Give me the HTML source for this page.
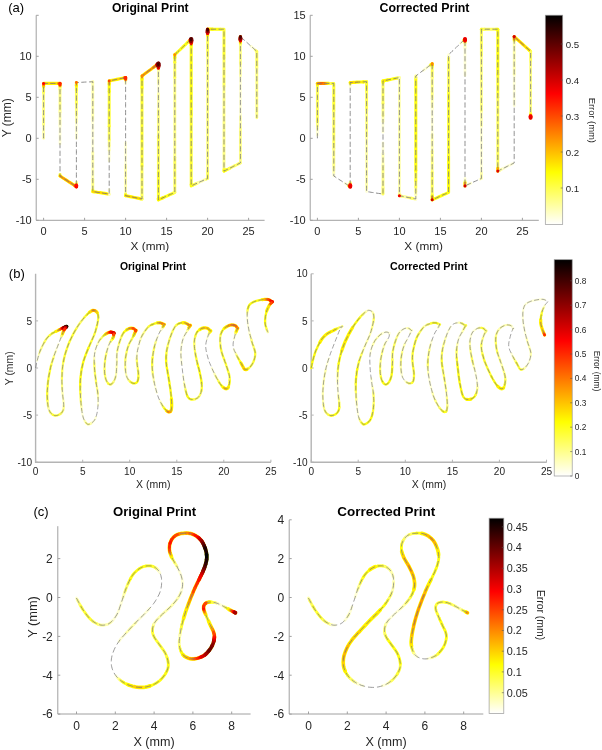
<!DOCTYPE html>
<html><head><meta charset="utf-8"><title>Figure</title>
<style>html,body{margin:0;padding:0;background:#fff;}body{width:602px;height:750px;overflow:hidden;font-family:"Liberation Sans",sans-serif;}svg{display:block;}</style>
</head><body>
<svg width="602" height="750" viewBox="0 0 602 750" font-family="'Liberation Sans', sans-serif">
<defs><linearGradient id="hot" x1="0" y1="1" x2="0" y2="0">
<stop offset="0" stop-color="#ffffff"/><stop offset="0.25" stop-color="#ffff00"/><stop offset="0.625" stop-color="#ff0000"/><stop offset="1" stop-color="#000000"/>
</linearGradient><filter id="bl" filterUnits="userSpaceOnUse" x="0" y="0" width="602" height="750"><feGaussianBlur stdDeviation="0.45"/></filter><filter id="tf" filterUnits="userSpaceOnUse" x="0" y="0" width="602" height="750"><feOffset dx="0" dy="0"/></filter></defs>
<rect width="602" height="750" fill="#ffffff"/>
<path d="M36.2,15.3 V220.3 H264.6" fill="none" stroke="#a0a0a0" stroke-width="1.0"/>
<path d="M43.6,220.3 v-2.5 M84.6,220.3 v-2.5 M125.6,220.3 v-2.5 M166.6,220.3 v-2.5 M207.6,220.3 v-2.5 M248.6,220.3 v-2.5 M36.2,220.3 h2.5 M36.2,179.3 h2.5 M36.2,138.3 h2.5 M36.2,97.3 h2.5 M36.2,56.3 h2.5 M36.2,15.3 h2.5 " fill="none" stroke="#a0a0a0" stroke-width="1"/>
<g fill="none" stroke-linecap="round" stroke-linejoin="round" filter="url(#bl)">
<polyline points="43.6,138.3 43.6,136.8 43.6,135.2 43.6,133.7 43.6,132.2 43.6,130.7 43.6,129.1 43.6,127.6 43.6,126.1 43.6,124.6" stroke="#ffffad" stroke-width="2.80"/>
<polyline points="43.6,124.6 43.6,123.0 43.6,121.5 43.6,120.0 43.6,118.5 43.6,116.9 43.6,115.4 43.6,113.9 43.6,112.4 43.6,110.8 43.6,109.3 43.6,107.8 43.6,106.3 43.6,104.7 43.6,103.2 43.6,101.7 43.6,100.1 43.6,98.6 43.6,97.1 43.6,95.6 43.6,94.0 43.6,92.5" stroke="#ffff85" stroke-width="2.86"/>
<polyline points="43.6,92.5 43.6,91.0 43.6,89.5 43.6,87.9 43.6,86.4" stroke="#ffff5c" stroke-width="2.91"/>
<polyline points="43.6,86.4 43.6,84.9 43.6,83.4 45.2,83.4 46.9,83.4 48.5,83.4 50.2,83.4 51.8,83.4 53.4,83.4 55.1,83.4 56.7,83.4 58.4,83.4 60.0,83.4 60.0,84.9 60.0,86.4" stroke="#ffff00" stroke-width="3.18"/>
<polyline points="60.0,86.4 60.0,87.9 60.0,89.4" stroke="#ffff5c" stroke-width="2.91"/>
<polyline points="60.0,89.4 60.0,91.0 60.0,92.5 60.0,94.0 60.0,95.5 60.0,97.0 60.0,98.6 60.0,100.1 60.0,101.6 60.0,103.1 60.0,104.6 60.0,106.1 60.0,107.7 60.0,109.2 60.0,110.7 60.0,112.2" stroke="#ffff85" stroke-width="2.86"/>
<polyline points="60.0,112.2 60.0,113.7 60.0,115.3 60.0,116.8 60.0,118.3 60.0,119.8 60.0,121.3 60.0,122.9 60.0,124.4 60.0,125.9" stroke="#ffffad" stroke-width="2.80"/>
<polyline points="60.0,125.9 60.0,127.4 60.0,128.9 60.0,130.4 60.0,132.0 60.0,133.5 60.0,135.0 60.0,136.5 60.0,138.0 60.0,139.6 60.0,141.1 60.0,142.6 60.0,144.1" stroke="#ffffd6" stroke-width="2.75"/>
<polyline points="60.0,174.5 60.0,176.0" stroke="#ffff33" stroke-width="2.96"/>
<polyline points="60.0,176.0 61.3,176.8 62.5,177.7 63.8,178.5 65.0,179.3 66.3,180.1 67.6,180.9 68.8,181.8 70.1,182.6 71.4,183.4 72.6,184.2 73.9,185.0 75.1,185.9 76.4,186.7 76.4,185.2 76.4,183.7" stroke="#ffff00" stroke-width="3.18"/>
<polyline points="76.4,183.7 76.4,182.2" stroke="#ffff85" stroke-width="2.86"/>
<polyline points="76.4,138.4 76.4,136.9 76.4,135.4 76.4,133.9 76.4,132.3 76.4,130.8 76.4,129.3 76.4,127.8 76.4,126.3 76.4,124.8 76.4,123.3 76.4,121.8" stroke="#ffffd6" stroke-width="2.75"/>
<polyline points="76.4,121.8 76.4,120.3 76.4,118.8 76.4,117.3 76.4,115.7 76.4,114.2" stroke="#ffffad" stroke-width="2.80"/>
<polyline points="76.4,114.2 76.4,112.7 76.4,111.2 76.4,109.7 76.4,108.2 76.4,106.7 76.4,105.2 76.4,103.7" stroke="#ffff85" stroke-width="2.86"/>
<polyline points="76.4,103.7 76.4,102.2 76.4,100.7 76.4,99.1 76.4,97.6 76.4,96.1 76.4,94.6 76.4,93.1 76.4,91.6 76.4,90.1" stroke="#ffff5c" stroke-width="2.91"/>
<polyline points="76.4,90.1 76.4,88.6 76.4,87.1 76.4,85.6" stroke="#ffff33" stroke-width="2.96"/>
<polyline points="76.4,85.6 76.4,84.0" stroke="#ffff00" stroke-width="3.18"/>
<polyline points="76.4,84.0 76.4,82.5" stroke="#ffff33" stroke-width="2.96"/>
<polyline points="91.2,81.8 92.8,81.7" stroke="#ffffd6" stroke-width="2.75"/>
<polyline points="92.8,81.7 92.8,83.2 92.8,84.7 92.8,86.2 92.8,87.7 92.8,89.2 92.8,90.8 92.8,92.3 92.8,93.8 92.8,95.3 92.8,96.8 92.8,98.3 92.8,99.8 92.8,101.3 92.8,102.8 92.8,104.3 92.8,105.8 92.8,107.3 92.8,108.8 92.8,110.3 92.8,111.8 92.8,113.3 92.8,114.8 92.8,116.3 92.8,117.8 92.8,119.4 92.8,120.9" stroke="#ffffad" stroke-width="2.80"/>
<polyline points="92.8,120.9 92.8,122.4 92.8,123.9 92.8,125.4 92.8,126.9 92.8,128.4 92.8,129.9 92.8,131.4 92.8,132.9 92.8,134.4 92.8,135.9 92.8,137.4 92.8,138.9 92.8,140.4 92.8,141.9 92.8,143.4 92.8,144.9 92.8,146.4 92.8,147.9 92.8,149.5 92.8,151.0 92.8,152.5" stroke="#ffffd6" stroke-width="2.75"/>
<polyline points="92.8,152.5 92.8,154.0 92.8,155.5 92.8,157.0 92.8,158.5 92.8,160.0 92.8,161.5 92.8,163.0 92.8,164.5 92.8,166.0 92.8,167.5 92.8,169.0 92.8,170.5 92.8,172.0 92.8,173.5 92.8,175.0 92.8,176.5 92.8,178.1 92.8,179.6" stroke="#ffffad" stroke-width="2.80"/>
<polyline points="92.8,179.6 92.8,181.1 92.8,182.6 92.8,184.1 92.8,185.6 92.8,187.1 92.8,188.6 92.8,190.1" stroke="#ffff85" stroke-width="2.86"/>
<polyline points="92.8,190.1 92.8,191.6" stroke="#ffff33" stroke-width="2.96"/>
<polyline points="92.8,191.6 94.3,191.8 95.8,192.0 97.3,192.3 98.8,192.5 100.3,192.7 101.7,192.9 103.2,193.2 104.7,193.4 106.2,193.6 107.7,193.8" stroke="#ffff00" stroke-width="3.18"/>
<polyline points="107.7,193.8 109.2,194.1" stroke="#ffff5c" stroke-width="2.91"/>
<polyline points="109.2,194.1 109.2,192.6 109.2,191.0 109.2,189.5" stroke="#ffffd6" stroke-width="2.75"/>
<polyline points="109.2,160.9 109.2,159.4 109.2,157.8 109.2,156.3 109.2,154.8 109.2,153.3 109.2,151.8 109.2,150.3" stroke="#ffffd6" stroke-width="2.75"/>
<polyline points="109.2,150.3 109.2,148.8 109.2,147.3 109.2,145.8" stroke="#ffffad" stroke-width="2.80"/>
<polyline points="109.2,145.8 109.2,144.3 109.2,142.8 109.2,141.3 109.2,139.7" stroke="#ffff85" stroke-width="2.86"/>
<polyline points="109.2,139.7 109.2,138.2 109.2,136.7 109.2,135.2 109.2,133.7 109.2,132.2 109.2,130.7 109.2,129.2 109.2,127.7 109.2,126.2" stroke="#ffff5c" stroke-width="2.91"/>
<polyline points="109.2,126.2 109.2,124.7 109.2,123.1 109.2,121.6 109.2,120.1 109.2,118.6 109.2,117.1 109.2,115.6 109.2,114.1 109.2,112.6 109.2,111.1 109.2,109.6 109.2,108.1 109.2,106.5 109.2,105.0 109.2,103.5 109.2,102.0 109.2,100.5 109.2,99.0 109.2,97.5 109.2,96.0 109.2,94.5 109.2,93.0 109.2,91.5" stroke="#ffff33" stroke-width="2.96"/>
<polyline points="109.2,91.5 109.2,90.0 109.2,88.4 109.2,86.9 109.2,85.4 109.2,83.9" stroke="#ffff0a" stroke-width="3.01"/>
<polyline points="109.2,83.9 109.2,82.4 109.2,80.9 110.7,80.6 112.2,80.3 113.7,80.0 115.2,79.7 116.7,79.4 118.1,79.1 119.6,78.8 121.1,78.5 122.6,78.2 124.1,77.9 125.6,77.6 125.6,79.1 125.6,80.6" stroke="#ffff00" stroke-width="3.18"/>
<polyline points="125.6,80.6 125.6,82.2" stroke="#ffff85" stroke-width="2.86"/>
<polyline points="125.6,82.2 125.6,83.7" stroke="#ffffd6" stroke-width="2.75"/>
<polyline points="125.6,142.7 125.6,144.2 125.6,145.7 125.6,147.3 125.6,148.8 125.6,150.3 125.6,151.8 125.6,153.3 125.6,154.8 125.6,156.3 125.6,157.9 125.6,159.4 125.6,160.9 125.6,162.4 125.6,163.9 125.6,165.4" stroke="#ffffd6" stroke-width="2.75"/>
<polyline points="125.6,165.4 125.6,166.9 125.6,168.5 125.6,170.0 125.6,171.5 125.6,173.0 125.6,174.5 125.6,176.0 125.6,177.5 125.6,179.0 125.6,180.6 125.6,182.1 125.6,183.6 125.6,185.1 125.6,186.6 125.6,188.1 125.6,189.6 125.6,191.2 125.6,192.7 125.6,194.2" stroke="#ffffad" stroke-width="2.80"/>
<polyline points="125.6,194.2 125.6,195.7" stroke="#ffff33" stroke-width="2.96"/>
<polyline points="125.6,195.7 127.1,196.0 128.6,196.3 130.1,196.6 131.6,196.9 133.1,197.2 134.5,197.5 136.0,197.8 137.5,198.1 139.0,198.4 140.5,198.7" stroke="#ffff00" stroke-width="3.18"/>
<polyline points="140.5,198.7 142.0,199.0" stroke="#ffff0a" stroke-width="3.01"/>
<polyline points="142.0,199.0 142.0,197.5 142.0,196.0 142.0,194.5 142.0,193.0 142.0,191.5 142.0,190.0 142.0,188.5 142.0,187.0 142.0,185.5 142.0,184.0 142.0,182.5 142.0,181.0 142.0,179.5 142.0,178.0 142.0,176.5 142.0,175.0 142.0,173.5 142.0,172.0 142.0,170.5 142.0,169.0 142.0,167.5 142.0,166.0" stroke="#ffff5c" stroke-width="2.91"/>
<polyline points="142.0,166.0 142.0,164.5 142.0,163.0 142.0,161.5 142.0,160.0 142.0,158.5 142.0,157.0 142.0,155.5 142.0,154.0 142.0,152.5 142.0,151.0 142.0,149.5 142.0,148.0 142.0,146.5 142.0,145.0 142.0,143.5 142.0,142.0 142.0,140.5 142.0,139.0 142.0,137.5 142.0,136.0 142.0,134.5 142.0,133.0 142.0,131.5 142.0,130.0 142.0,128.5 142.0,127.0 142.0,125.5 142.0,124.0 142.0,122.5 142.0,121.0 142.0,119.5 142.0,118.0 142.0,116.5 142.0,115.0 142.0,113.5 142.0,112.0 142.0,110.5 142.0,109.0 142.0,107.5 142.0,106.0 142.0,104.5 142.0,103.0 142.0,101.5 142.0,100.0 142.0,98.5 142.0,97.0 142.0,95.5 142.0,94.0 142.0,92.5 142.0,91.0 142.0,89.5 142.0,88.0" stroke="#ffff33" stroke-width="2.96"/>
<polyline points="142.0,88.0 142.0,86.5 142.0,85.0 142.0,83.5 142.0,82.0 142.0,80.5 142.0,79.0" stroke="#ffff0a" stroke-width="3.01"/>
<polyline points="142.0,79.0 142.0,77.5 142.0,76.0 143.3,75.0 144.5,74.1 145.8,73.1 147.0,72.2 148.3,71.2 149.6,70.3 150.8,69.4 152.1,68.4 153.4,67.5 154.6,66.5 155.9,65.6 157.1,64.6 158.4,63.7 158.4,65.2 158.4,66.7 158.4,68.2" stroke="#ffff00" stroke-width="3.18"/>
<polyline points="158.4,68.2 158.4,69.7" stroke="#ffff0a" stroke-width="3.01"/>
<polyline points="158.4,69.7 158.4,71.2 158.4,72.8 158.4,74.3 158.4,75.8 158.4,77.3 158.4,78.8 158.4,80.3 158.4,81.8 158.4,83.3 158.4,84.9" stroke="#ffffad" stroke-width="2.80"/>
<polyline points="158.4,84.9 158.4,86.4 158.4,87.9 158.4,89.4 158.4,90.9 158.4,92.4 158.4,93.9" stroke="#ffffd6" stroke-width="2.75"/>
<polyline points="158.4,93.9 158.4,95.4 158.4,97.0 158.4,98.5 158.4,100.0 158.4,101.5 158.4,103.0 158.4,104.5 158.4,106.0 158.4,107.5 158.4,109.1 158.4,110.6" stroke="#ffffad" stroke-width="2.80"/>
<polyline points="158.4,110.6 158.4,112.1 158.4,113.6 158.4,115.1 158.4,116.6 158.4,118.1 158.4,119.6 158.4,121.2 158.4,122.7 158.4,124.2 158.4,125.7 158.4,127.2 158.4,128.7 158.4,130.2 158.4,131.7 158.4,133.3 158.4,134.8 158.4,136.3" stroke="#ffff85" stroke-width="2.86"/>
<polyline points="158.4,136.3 158.4,137.8 158.4,139.3 158.4,140.8 158.4,142.3 158.4,143.8 158.4,145.4 158.4,146.9 158.4,148.4 158.4,149.9 158.4,151.4 158.4,152.9 158.4,154.4 158.4,155.9 158.4,157.5 158.4,159.0 158.4,160.5 158.4,162.0 158.4,163.5 158.4,165.0 158.4,166.5 158.4,168.0 158.4,169.6 158.4,171.1 158.4,172.6" stroke="#ffff5c" stroke-width="2.91"/>
<polyline points="158.4,172.6 158.4,174.1 158.4,175.6 158.4,177.1 158.4,178.6 158.4,180.1 158.4,181.7 158.4,183.2 158.4,184.7 158.4,186.2 158.4,187.7 158.4,189.2 158.4,190.7 158.4,192.2 158.4,193.8 158.4,195.3 158.4,196.8 158.4,198.3" stroke="#ffff33" stroke-width="2.96"/>
<polyline points="158.4,198.3 158.4,199.8" stroke="#ffff0a" stroke-width="3.01"/>
<polyline points="158.4,199.8 159.9,199.1 161.4,198.5 162.9,197.8" stroke="#ffff00" stroke-width="3.18"/>
<polyline points="162.9,197.8 164.4,197.1 165.9,196.4 167.3,195.8 168.8,195.1 170.3,194.4 171.8,193.8 173.3,193.1" stroke="#ffff0a" stroke-width="3.01"/>
<polyline points="173.3,193.1 174.8,192.4" stroke="#ffff33" stroke-width="2.96"/>
<polyline points="174.8,192.4 174.8,190.9 174.8,189.4 174.8,187.9 174.8,186.4 174.8,184.9 174.8,183.3 174.8,181.8 174.8,180.3 174.8,178.8 174.8,177.3 174.8,175.8 174.8,174.3 174.8,172.7 174.8,171.2 174.8,169.7 174.8,168.2 174.8,166.7 174.8,165.2 174.8,163.7 174.8,162.1 174.8,160.6 174.8,159.1 174.8,157.6" stroke="#ffff5c" stroke-width="2.91"/>
<polyline points="174.8,157.6 174.8,156.1 174.8,154.6 174.8,153.1 174.8,151.5 174.8,150.0 174.8,148.5 174.8,147.0 174.8,145.5 174.8,144.0 174.8,142.5 174.8,140.9 174.8,139.4 174.8,137.9 174.8,136.4 174.8,134.9 174.8,133.4 174.8,131.9 174.8,130.4 174.8,128.8 174.8,127.3 174.8,125.8 174.8,124.3 174.8,122.8 174.8,121.3 174.8,119.8 174.8,118.2 174.8,116.7 174.8,115.2 174.8,113.7 174.8,112.2 174.8,110.7 174.8,109.2 174.8,107.6 174.8,106.1 174.8,104.6 174.8,103.1 174.8,101.6 174.8,100.1 174.8,98.6 174.8,97.0 174.8,95.5 174.8,94.0 174.8,92.5 174.8,91.0 174.8,89.5 174.8,88.0 174.8,86.5 174.8,84.9 174.8,83.4 174.8,81.9 174.8,80.4 174.8,78.9 174.8,77.4" stroke="#ffff85" stroke-width="2.86"/>
<polyline points="174.8,77.4 174.8,75.9 174.8,74.3 174.8,72.8 174.8,71.3 174.8,69.8 174.8,68.3 174.8,66.8 174.8,65.3 174.8,63.7 174.8,62.2" stroke="#ffff5c" stroke-width="2.91"/>
<polyline points="174.8,62.2 174.8,60.7 174.8,59.2 174.8,57.7" stroke="#ffff33" stroke-width="2.96"/>
<polyline points="174.8,57.7 174.8,56.2 174.8,54.7" stroke="#ffff00" stroke-width="3.18"/>
<polyline points="174.8,54.7 175.9,53.6 177.0,52.6 178.1,51.5 179.2,50.5 180.3,49.5 181.4,48.4 182.5,47.4 183.5,46.4 184.6,45.3 185.7,44.3 186.8,43.2 187.9,42.2 189.0,41.2 190.1,40.1" stroke="#ffff0a" stroke-width="3.01"/>
<polyline points="190.1,40.1 191.2,39.1 191.2,40.6 191.2,42.1 191.2,43.6 191.2,45.1" stroke="#ffff00" stroke-width="3.18"/>
<polyline points="191.2,45.1 191.2,46.6 191.2,48.2 191.2,49.7 191.2,51.2 191.2,52.7 191.2,54.2 191.2,55.7 191.2,57.2 191.2,58.8 191.2,60.3 191.2,61.8 191.2,63.3 191.2,64.8 191.2,66.3 191.2,67.8 191.2,69.3 191.2,70.9 191.2,72.4 191.2,73.9 191.2,75.4 191.2,76.9 191.2,78.4 191.2,79.9 191.2,81.4 191.2,83.0 191.2,84.5 191.2,86.0 191.2,87.5 191.2,89.0 191.2,90.5 191.2,92.0 191.2,93.6 191.2,95.1 191.2,96.6 191.2,98.1 191.2,99.6 191.2,101.1 191.2,102.6 191.2,104.1 191.2,105.7 191.2,107.2 191.2,108.7 191.2,110.2 191.2,111.7 191.2,113.2 191.2,114.7" stroke="#ffff0a" stroke-width="3.01"/>
<polyline points="191.2,114.7 191.2,116.3 191.2,117.8 191.2,119.3 191.2,120.8 191.2,122.3 191.2,123.8 191.2,125.3 191.2,126.8 191.2,128.4 191.2,129.9 191.2,131.4 191.2,132.9 191.2,134.4 191.2,135.9 191.2,137.4 191.2,139.0 191.2,140.5 191.2,142.0 191.2,143.5 191.2,145.0 191.2,146.5 191.2,148.0 191.2,149.5 191.2,151.1 191.2,152.6 191.2,154.1 191.2,155.6 191.2,157.1 191.2,158.6 191.2,160.1 191.2,161.6 191.2,163.2 191.2,164.7 191.2,166.2 191.2,167.7 191.2,169.2 191.2,170.7 191.2,172.2 191.2,173.8 191.2,175.3 191.2,176.8 191.2,178.3 191.2,179.8 191.2,181.3 191.2,182.8 191.2,184.3" stroke="#ffff33" stroke-width="2.96"/>
<polyline points="191.2,184.3 191.2,185.9 192.7,185.2" stroke="#ffff0a" stroke-width="3.01"/>
<polyline points="192.7,185.2 194.2,184.5 195.7,183.8" stroke="#ffff33" stroke-width="2.96"/>
<polyline points="195.7,183.8 197.2,183.2" stroke="#ffff5c" stroke-width="2.91"/>
<polyline points="197.2,183.2 198.7,182.5" stroke="#ffff85" stroke-width="2.86"/>
<polyline points="198.7,182.5 200.1,181.8 201.6,181.2 203.1,180.5 204.6,179.8 206.1,179.2" stroke="#ffffad" stroke-width="2.80"/>
<polyline points="206.1,179.2 207.6,178.5" stroke="#ffff85" stroke-width="2.86"/>
<polyline points="207.6,178.5 207.6,177.0 207.6,175.5 207.6,174.0 207.6,172.5 207.6,170.9 207.6,169.4" stroke="#ffff5c" stroke-width="2.91"/>
<polyline points="207.6,169.4 207.6,167.9 207.6,166.4 207.6,164.9 207.6,163.4 207.6,161.9 207.6,160.4 207.6,158.9 207.6,157.4 207.6,155.9 207.6,154.4 207.6,152.9 207.6,151.3 207.6,149.8 207.6,148.3 207.6,146.8 207.6,145.3 207.6,143.8 207.6,142.3 207.6,140.8 207.6,139.3 207.6,137.8 207.6,136.3 207.6,134.8 207.6,133.3 207.6,131.7 207.6,130.2 207.6,128.7 207.6,127.2 207.6,125.7 207.6,124.2 207.6,122.7 207.6,121.2 207.6,119.7 207.6,118.2 207.6,116.7 207.6,115.2 207.6,113.7 207.6,112.2 207.6,110.6 207.6,109.1 207.6,107.6 207.6,106.1 207.6,104.6 207.6,103.1 207.6,101.6 207.6,100.1 207.6,98.6 207.6,97.1 207.6,95.6 207.6,94.1 207.6,92.6 207.6,91.0 207.6,89.5 207.6,88.0 207.6,86.5 207.6,85.0 207.6,83.5 207.6,82.0 207.6,80.5 207.6,79.0 207.6,77.5 207.6,76.0 207.6,74.5 207.6,73.0 207.6,71.4 207.6,69.9 207.6,68.4 207.6,66.9 207.6,65.4 207.6,63.9 207.6,62.4 207.6,60.9 207.6,59.4 207.6,57.9 207.6,56.4 207.6,54.9" stroke="#ffff85" stroke-width="2.86"/>
<polyline points="207.6,54.9 207.6,53.4 207.6,51.9 207.6,50.3 207.6,48.8 207.6,47.3 207.6,45.8 207.6,44.3 207.6,42.8 207.6,41.3 207.6,39.8 207.6,38.3 207.6,36.8 207.6,35.3" stroke="#ffff5c" stroke-width="2.91"/>
<polyline points="207.6,35.3 207.6,33.8 207.6,32.3 207.6,30.7 207.6,29.2 209.2,29.2 210.9,29.2 212.5,29.2" stroke="#ffff00" stroke-width="3.18"/>
<polyline points="212.5,29.2 214.2,29.2 215.8,29.2 217.4,29.2 219.1,29.2 220.7,29.2" stroke="#ffff0a" stroke-width="3.01"/>
<polyline points="220.7,29.2 222.4,29.2 224.0,29.2 224.0,30.7 224.0,32.3 224.0,33.8 224.0,35.3 224.0,36.8 224.0,38.3 224.0,39.8 224.0,41.3 224.0,42.8 224.0,44.3 224.0,45.8 224.0,47.3 224.0,48.9 224.0,50.4 224.0,51.9 224.0,53.4 224.0,54.9 224.0,56.4 224.0,57.9" stroke="#ffff33" stroke-width="2.96"/>
<polyline points="224.0,57.9 224.0,59.4 224.0,60.9 224.0,62.4 224.0,64.0 224.0,65.5 224.0,67.0 224.0,68.5 224.0,70.0 224.0,71.5 224.0,73.0 224.0,74.5 224.0,76.0 224.0,77.5 224.0,79.0 224.0,80.6 224.0,82.1 224.0,83.6 224.0,85.1 224.0,86.6" stroke="#ffff5c" stroke-width="2.91"/>
<polyline points="224.0,86.6 224.0,88.1 224.0,89.6 224.0,91.1 224.0,92.6 224.0,94.1 224.0,95.6 224.0,97.2 224.0,98.7 224.0,100.2 224.0,101.7 224.0,103.2 224.0,104.7 224.0,106.2 224.0,107.7 224.0,109.2 224.0,110.7 224.0,112.2 224.0,113.8 224.0,115.3 224.0,116.8 224.0,118.3 224.0,119.8 224.0,121.3 224.0,122.8 224.0,124.3 224.0,125.8 224.0,127.3 224.0,128.8 224.0,130.4 224.0,131.9 224.0,133.4 224.0,134.9 224.0,136.4 224.0,137.9 224.0,139.4 224.0,140.9 224.0,142.4 224.0,143.9 224.0,145.4 224.0,147.0 224.0,148.5 224.0,150.0 224.0,151.5 224.0,153.0 224.0,154.5 224.0,156.0 224.0,157.5 224.0,159.0 224.0,160.5 224.0,162.0 224.0,163.6 224.0,165.1 224.0,166.6 224.0,168.1 224.0,169.6" stroke="#ffff85" stroke-width="2.86"/>
<polyline points="224.0,169.6 224.0,171.1" stroke="#ffff33" stroke-width="2.96"/>
<polyline points="224.0,171.1 225.4,170.4 226.7,169.7" stroke="#ffff0a" stroke-width="3.01"/>
<polyline points="226.7,169.7 228.1,169.1 229.5,168.4" stroke="#ffff33" stroke-width="2.96"/>
<polyline points="229.5,168.4 230.8,167.7 232.2,167.0 233.6,166.3 234.9,165.6 236.3,165.0 237.7,164.3 239.0,163.6 240.4,162.9" stroke="#ffff5c" stroke-width="2.91"/>
<polyline points="240.4,162.9 240.4,161.4 240.4,159.9 240.4,158.4 240.4,156.9 240.4,155.4 240.4,153.9 240.4,152.4 240.4,150.9 240.4,149.4 240.4,147.9 240.4,146.4 240.4,144.9 240.4,143.4 240.4,141.9 240.4,140.4 240.4,138.8 240.4,137.3 240.4,135.8 240.4,134.3 240.4,132.8 240.4,131.3 240.4,129.8 240.4,128.3 240.4,126.8" stroke="#ffff85" stroke-width="2.86"/>
<polyline points="240.4,126.8 240.4,125.3 240.4,123.8 240.4,122.3 240.4,120.8 240.4,119.3 240.4,117.8 240.4,116.3 240.4,114.8" stroke="#ffffad" stroke-width="2.80"/>
<polyline points="240.4,114.8 240.4,113.3 240.4,111.8 240.4,110.3 240.4,108.8 240.4,107.3 240.4,105.8 240.4,104.3 240.4,102.8 240.4,101.3 240.4,99.8 240.4,98.3 240.4,96.8 240.4,95.3 240.4,93.7 240.4,92.2 240.4,90.7 240.4,89.2 240.4,87.7 240.4,86.2 240.4,84.7 240.4,83.2 240.4,81.7 240.4,80.2 240.4,78.7 240.4,77.2 240.4,75.7" stroke="#ffffd6" stroke-width="2.75"/>
<polyline points="240.4,75.7 240.4,74.2 240.4,72.7 240.4,71.2 240.4,69.7 240.4,68.2 240.4,66.7 240.4,65.2 240.4,63.7" stroke="#ffffad" stroke-width="2.80"/>
<polyline points="240.4,63.7 240.4,62.2 240.4,60.7 240.4,59.2 240.4,57.7 240.4,56.2 240.4,54.7 240.4,53.2 240.4,51.7 240.4,50.2 240.4,48.6 240.4,47.1 240.4,45.6 240.4,44.1" stroke="#ffff85" stroke-width="2.86"/>
<polyline points="240.4,44.1 240.4,42.6" stroke="#ffff5c" stroke-width="2.91"/>
<polyline points="240.4,42.6 240.4,41.1" stroke="#ffff0a" stroke-width="3.01"/>
<polyline points="240.4,41.1 240.4,39.6 240.4,38.1 240.4,36.6" stroke="#ffff00" stroke-width="3.18"/>
<polyline points="250.9,46.1 252.1,47.2 253.3,48.2 254.5,49.3 255.6,50.3" stroke="#ffffd6" stroke-width="2.75"/>
<polyline points="255.6,50.3 256.8,51.4" stroke="#ffff85" stroke-width="2.86"/>
<polyline points="256.8,51.4 256.8,52.9 256.8,54.4 256.8,55.9 256.8,57.4 256.8,58.9 256.8,60.4 256.8,61.9 256.8,63.5 256.8,65.0 256.8,66.5 256.8,68.0" stroke="#ffff5c" stroke-width="2.91"/>
<polyline points="256.8,68.0 256.8,69.5 256.8,71.0 256.8,72.5 256.8,74.0 256.8,75.5 256.8,77.0 256.8,78.6 256.8,80.1 256.8,81.6 256.8,83.1 256.8,84.6 256.8,86.1 256.8,87.6 256.8,89.1 256.8,90.6 256.8,92.1 256.8,93.6 256.8,95.2 256.8,96.7 256.8,98.2 256.8,99.7 256.8,101.2 256.8,102.7 256.8,104.2 256.8,105.7 256.8,107.2 256.8,108.7 256.8,110.3 256.8,111.8 256.8,113.3 256.8,114.8 256.8,116.3 256.8,117.8" stroke="#ffff85" stroke-width="2.86"/>
<polyline points="43.6,86.4 43.6,84.9" stroke="#ffb400" stroke-width="2.05"/>
<polyline points="43.6,84.9 43.6,83.4" stroke="#ff7e00" stroke-width="2.53"/>
<polyline points="43.6,83.4 45.2,83.4" stroke="#ffb400" stroke-width="2.05"/>
<polyline points="45.2,83.4 46.9,83.4 48.5,83.4 50.2,83.4 51.8,83.4 53.4,83.4 55.1,83.4 56.7,83.4 58.4,83.4" stroke="#ffcf00" stroke-width="1.81"/>
<polyline points="58.4,83.4 60.0,83.4" stroke="#ff7e00" stroke-width="2.53"/>
<polyline points="60.0,84.9 60.0,86.4" stroke="#ffcf00" stroke-width="1.81"/>
<polyline points="60.0,176.0 61.3,176.8 62.5,177.7 63.8,178.5 65.0,179.3 66.3,180.1 67.6,180.9 68.8,181.8 70.1,182.6 71.4,183.4 72.6,184.2 73.9,185.0 75.1,185.9" stroke="#ff9900" stroke-width="2.29"/>
<polyline points="76.4,185.2 76.4,183.7" stroke="#ffb400" stroke-width="2.05"/>
<polyline points="76.4,85.6 76.4,84.0" stroke="#ffcf00" stroke-width="1.81"/>
<polyline points="92.8,191.6 94.3,191.8 95.8,192.0 97.3,192.3 98.8,192.5 100.3,192.7 101.7,192.9 103.2,193.2 104.7,193.4 106.2,193.6 107.7,193.8" stroke="#ffcf00" stroke-width="1.81"/>
<polyline points="109.2,83.9 109.2,82.4 109.2,80.9" stroke="#ffb400" stroke-width="2.05"/>
<polyline points="109.2,80.9 110.7,80.6 112.2,80.3 113.7,80.0 115.2,79.7 116.7,79.4 118.1,79.1 119.6,78.8 121.1,78.5 122.6,78.2 124.1,77.9" stroke="#ffcf00" stroke-width="1.81"/>
<polyline points="124.1,77.9 125.6,77.6" stroke="#ff6300" stroke-width="2.76"/>
<polyline points="125.6,79.1 125.6,80.6" stroke="#ffcf00" stroke-width="1.81"/>
<polyline points="125.6,195.7 127.1,196.0 128.6,196.3 130.1,196.6 131.6,196.9 133.1,197.2 134.5,197.5 136.0,197.8 137.5,198.1 139.0,198.4 140.5,198.7" stroke="#ffcf00" stroke-width="1.81"/>
<polyline points="142.0,79.0 142.0,77.5" stroke="#ffeb00" stroke-width="1.57"/>
<polyline points="142.0,77.5 142.0,76.0" stroke="#ffb400" stroke-width="2.05"/>
<polyline points="142.0,76.0 143.3,75.0 144.5,74.1 145.8,73.1 147.0,72.2 148.3,71.2 149.6,70.3 150.8,69.4 152.1,68.4 153.4,67.5" stroke="#ff9900" stroke-width="2.29"/>
<polyline points="153.4,67.5 154.6,66.5 155.9,65.6 157.1,64.6" stroke="#ff7e00" stroke-width="2.53"/>
<polyline points="158.4,199.8 159.9,199.1 161.4,198.5 162.9,197.8" stroke="#ffeb00" stroke-width="1.57"/>
<polyline points="174.8,57.7 174.8,56.2" stroke="#ffeb00" stroke-width="1.57"/>
<polyline points="174.8,56.2 174.8,54.7" stroke="#ffcf00" stroke-width="1.81"/>
<polyline points="191.2,43.6 191.2,45.1" stroke="#ffcf00" stroke-width="1.81"/>
<polyline points="207.6,35.3 207.6,33.8" stroke="#ffeb00" stroke-width="1.57"/>
<polyline points="207.6,29.2 209.2,29.2 210.9,29.2 212.5,29.2" stroke="#ffeb00" stroke-width="1.57"/>
<polyline points="240.4,38.1 240.4,36.6" stroke="#ff7e00" stroke-width="2.53"/>
</g>
<path d="M43.6,138.3 L43.6,136.8 L43.6,135.2 L43.6,133.7 L43.6,132.2 L43.6,130.7 L43.6,129.1 L43.6,127.6 L43.6,126.1 L43.6,124.6 L43.6,123.0 L43.6,121.5 L43.6,120.0 L43.6,118.5 L43.6,116.9 L43.6,115.4 L43.6,113.9 L43.6,112.4 L43.6,110.8 L43.6,109.3 L43.6,107.8 L43.6,106.3 L43.6,104.7 L43.6,103.2 L43.6,101.7 L43.6,100.1 L43.6,98.6 L43.6,97.1 L43.6,95.6 L43.6,94.0 L43.6,92.5 L43.6,91.0 L43.6,89.5 L43.6,87.9 L43.6,86.4 L43.6,84.9 L43.6,83.4 L45.2,83.4 L46.9,83.4 L48.5,83.4 L50.2,83.4 L51.8,83.4 L53.4,83.4 L55.1,83.4 L56.7,83.4 L58.4,83.4 L60.0,83.4 L60.0,84.9 L60.0,86.4 L60.0,87.9 L60.0,89.4 L60.0,91.0 L60.0,92.5 L60.0,94.0 L60.0,95.5 L60.0,97.0 L60.0,98.6 L60.0,100.1 L60.0,101.6 L60.0,103.1 L60.0,104.6 L60.0,106.1 L60.0,107.7 L60.0,109.2 L60.0,110.7 L60.0,112.2 L60.0,113.7 L60.0,115.3 L60.0,116.8 L60.0,118.3 L60.0,119.8 L60.0,121.3 L60.0,122.9 L60.0,124.4 L60.0,125.9 L60.0,127.4 L60.0,128.9 L60.0,130.4 L60.0,132.0 L60.0,133.5 L60.0,135.0 L60.0,136.5 L60.0,138.0 L60.0,139.6 L60.0,141.1 L60.0,142.6 L60.0,144.1 L60.0,145.6 L60.0,147.2 L60.0,148.7 L60.0,150.2 L60.0,151.7 L60.0,153.2 L60.0,154.8 L60.0,156.3 L60.0,157.8 L60.0,159.3 L60.0,160.8 L60.0,162.3 L60.0,163.9 L60.0,165.4 L60.0,166.9 L60.0,168.4 L60.0,169.9 L60.0,171.5 L60.0,173.0 L60.0,174.5 L60.0,176.0 L61.3,176.8 L62.5,177.7 L63.8,178.5 L65.0,179.3 L66.3,180.1 L67.6,180.9 L68.8,181.8 L70.1,182.6 L71.4,183.4 L72.6,184.2 L73.9,185.0 L75.1,185.9 L76.4,186.7 L76.4,185.2 L76.4,183.7 L76.4,182.2 L76.4,180.6 L76.4,179.1 L76.4,177.6 L76.4,176.1 L76.4,174.6 L76.4,173.1 L76.4,171.6 L76.4,170.1 L76.4,168.6 L76.4,167.1 L76.4,165.6 L76.4,164.0 L76.4,162.5 L76.4,161.0 L76.4,159.5 L76.4,158.0 L76.4,156.5 L76.4,155.0 L76.4,153.5 L76.4,152.0 L76.4,150.5 L76.4,148.9 L76.4,147.4 L76.4,145.9 L76.4,144.4 L76.4,142.9 L76.4,141.4 L76.4,139.9 L76.4,138.4 L76.4,136.9 L76.4,135.4 L76.4,133.9 L76.4,132.3 L76.4,130.8 L76.4,129.3 L76.4,127.8 L76.4,126.3 L76.4,124.8 L76.4,123.3 L76.4,121.8 L76.4,120.3 L76.4,118.8 L76.4,117.3 L76.4,115.7 L76.4,114.2 L76.4,112.7 L76.4,111.2 L76.4,109.7 L76.4,108.2 L76.4,106.7 L76.4,105.2 L76.4,103.7 L76.4,102.2 L76.4,100.7 L76.4,99.1 L76.4,97.6 L76.4,96.1 L76.4,94.6 L76.4,93.1 L76.4,91.6 L76.4,90.1 L76.4,88.6 L76.4,87.1 L76.4,85.6 L76.4,84.0 L76.4,82.5 L78.0,82.5 L79.7,82.4 L81.3,82.3 L83.0,82.2 L84.6,82.1 L86.2,82.0 L87.9,82.0 L89.5,81.9 L91.2,81.8 L92.8,81.7 L92.8,83.2 L92.8,84.7 L92.8,86.2 L92.8,87.7 L92.8,89.2 L92.8,90.8 L92.8,92.3 L92.8,93.8 L92.8,95.3 L92.8,96.8 L92.8,98.3 L92.8,99.8 L92.8,101.3 L92.8,102.8 L92.8,104.3 L92.8,105.8 L92.8,107.3 L92.8,108.8 L92.8,110.3 L92.8,111.8 L92.8,113.3 L92.8,114.8 L92.8,116.3 L92.8,117.8 L92.8,119.4 L92.8,120.9 L92.8,122.4 L92.8,123.9 L92.8,125.4 L92.8,126.9 L92.8,128.4 L92.8,129.9 L92.8,131.4 L92.8,132.9 L92.8,134.4 L92.8,135.9 L92.8,137.4 L92.8,138.9 L92.8,140.4 L92.8,141.9 L92.8,143.4 L92.8,144.9 L92.8,146.4 L92.8,147.9 L92.8,149.5 L92.8,151.0 L92.8,152.5 L92.8,154.0 L92.8,155.5 L92.8,157.0 L92.8,158.5 L92.8,160.0 L92.8,161.5 L92.8,163.0 L92.8,164.5 L92.8,166.0 L92.8,167.5 L92.8,169.0 L92.8,170.5 L92.8,172.0 L92.8,173.5 L92.8,175.0 L92.8,176.5 L92.8,178.1 L92.8,179.6 L92.8,181.1 L92.8,182.6 L92.8,184.1 L92.8,185.6 L92.8,187.1 L92.8,188.6 L92.8,190.1 L92.8,191.6 L94.3,191.8 L95.8,192.0 L97.3,192.3 L98.8,192.5 L100.3,192.7 L101.7,192.9 L103.2,193.2 L104.7,193.4 L106.2,193.6 L107.7,193.8 L109.2,194.1 L109.2,192.6 L109.2,191.0 L109.2,189.5 L109.2,188.0 L109.2,186.5 L109.2,185.0 L109.2,183.5 L109.2,182.0 L109.2,180.5 L109.2,179.0 L109.2,177.5 L109.2,176.0 L109.2,174.4 L109.2,172.9 L109.2,171.4 L109.2,169.9 L109.2,168.4 L109.2,166.9 L109.2,165.4 L109.2,163.9 L109.2,162.4 L109.2,160.9 L109.2,159.4 L109.2,157.8 L109.2,156.3 L109.2,154.8 L109.2,153.3 L109.2,151.8 L109.2,150.3 L109.2,148.8 L109.2,147.3 L109.2,145.8 L109.2,144.3 L109.2,142.8 L109.2,141.3 L109.2,139.7 L109.2,138.2 L109.2,136.7 L109.2,135.2 L109.2,133.7 L109.2,132.2 L109.2,130.7 L109.2,129.2 L109.2,127.7 L109.2,126.2 L109.2,124.7 L109.2,123.1 L109.2,121.6 L109.2,120.1 L109.2,118.6 L109.2,117.1 L109.2,115.6 L109.2,114.1 L109.2,112.6 L109.2,111.1 L109.2,109.6 L109.2,108.1 L109.2,106.5 L109.2,105.0 L109.2,103.5 L109.2,102.0 L109.2,100.5 L109.2,99.0 L109.2,97.5 L109.2,96.0 L109.2,94.5 L109.2,93.0 L109.2,91.5 L109.2,90.0 L109.2,88.4 L109.2,86.9 L109.2,85.4 L109.2,83.9 L109.2,82.4 L109.2,80.9 L110.7,80.6 L112.2,80.3 L113.7,80.0 L115.2,79.7 L116.7,79.4 L118.1,79.1 L119.6,78.8 L121.1,78.5 L122.6,78.2 L124.1,77.9 L125.6,77.6 L125.6,79.1 L125.6,80.6 L125.6,82.2 L125.6,83.7 L125.6,85.2 L125.6,86.7 L125.6,88.2 L125.6,89.7 L125.6,91.2 L125.6,92.8 L125.6,94.3 L125.6,95.8 L125.6,97.3 L125.6,98.8 L125.6,100.3 L125.6,101.8 L125.6,103.4 L125.6,104.9 L125.6,106.4 L125.6,107.9 L125.6,109.4 L125.6,110.9 L125.6,112.4 L125.6,114.0 L125.6,115.5 L125.6,117.0 L125.6,118.5 L125.6,120.0 L125.6,121.5 L125.6,123.0 L125.6,124.5 L125.6,126.1 L125.6,127.6 L125.6,129.1 L125.6,130.6 L125.6,132.1 L125.6,133.6 L125.6,135.1 L125.6,136.7 L125.6,138.2 L125.6,139.7 L125.6,141.2 L125.6,142.7 L125.6,144.2 L125.6,145.7 L125.6,147.3 L125.6,148.8 L125.6,150.3 L125.6,151.8 L125.6,153.3 L125.6,154.8 L125.6,156.3 L125.6,157.9 L125.6,159.4 L125.6,160.9 L125.6,162.4 L125.6,163.9 L125.6,165.4 L125.6,166.9 L125.6,168.5 L125.6,170.0 L125.6,171.5 L125.6,173.0 L125.6,174.5 L125.6,176.0 L125.6,177.5 L125.6,179.0 L125.6,180.6 L125.6,182.1 L125.6,183.6 L125.6,185.1 L125.6,186.6 L125.6,188.1 L125.6,189.6 L125.6,191.2 L125.6,192.7 L125.6,194.2 L125.6,195.7 L127.1,196.0 L128.6,196.3 L130.1,196.6 L131.6,196.9 L133.1,197.2 L134.5,197.5 L136.0,197.8 L137.5,198.1 L139.0,198.4 L140.5,198.7 L142.0,199.0 L142.0,197.5 L142.0,196.0 L142.0,194.5 L142.0,193.0 L142.0,191.5 L142.0,190.0 L142.0,188.5 L142.0,187.0 L142.0,185.5 L142.0,184.0 L142.0,182.5 L142.0,181.0 L142.0,179.5 L142.0,178.0 L142.0,176.5 L142.0,175.0 L142.0,173.5 L142.0,172.0 L142.0,170.5 L142.0,169.0 L142.0,167.5 L142.0,166.0 L142.0,164.5 L142.0,163.0 L142.0,161.5 L142.0,160.0 L142.0,158.5 L142.0,157.0 L142.0,155.5 L142.0,154.0 L142.0,152.5 L142.0,151.0 L142.0,149.5 L142.0,148.0 L142.0,146.5 L142.0,145.0 L142.0,143.5 L142.0,142.0 L142.0,140.5 L142.0,139.0 L142.0,137.5 L142.0,136.0 L142.0,134.5 L142.0,133.0 L142.0,131.5 L142.0,130.0 L142.0,128.5 L142.0,127.0 L142.0,125.5 L142.0,124.0 L142.0,122.5 L142.0,121.0 L142.0,119.5 L142.0,118.0 L142.0,116.5 L142.0,115.0 L142.0,113.5 L142.0,112.0 L142.0,110.5 L142.0,109.0 L142.0,107.5 L142.0,106.0 L142.0,104.5 L142.0,103.0 L142.0,101.5 L142.0,100.0 L142.0,98.5 L142.0,97.0 L142.0,95.5 L142.0,94.0 L142.0,92.5 L142.0,91.0 L142.0,89.5 L142.0,88.0 L142.0,86.5 L142.0,85.0 L142.0,83.5 L142.0,82.0 L142.0,80.5 L142.0,79.0 L142.0,77.5 L142.0,76.0 L143.3,75.0 L144.5,74.1 L145.8,73.1 L147.0,72.2 L148.3,71.2 L149.6,70.3 L150.8,69.4 L152.1,68.4 L153.4,67.5 L154.6,66.5 L155.9,65.6 L157.1,64.6 L158.4,63.7 L158.4,65.2 L158.4,66.7 L158.4,68.2 L158.4,69.7 L158.4,71.2 L158.4,72.8 L158.4,74.3 L158.4,75.8 L158.4,77.3 L158.4,78.8 L158.4,80.3 L158.4,81.8 L158.4,83.3 L158.4,84.9 L158.4,86.4 L158.4,87.9 L158.4,89.4 L158.4,90.9 L158.4,92.4 L158.4,93.9 L158.4,95.4 L158.4,97.0 L158.4,98.5 L158.4,100.0 L158.4,101.5 L158.4,103.0 L158.4,104.5 L158.4,106.0 L158.4,107.5 L158.4,109.1 L158.4,110.6 L158.4,112.1 L158.4,113.6 L158.4,115.1 L158.4,116.6 L158.4,118.1 L158.4,119.6 L158.4,121.2 L158.4,122.7 L158.4,124.2 L158.4,125.7 L158.4,127.2 L158.4,128.7 L158.4,130.2 L158.4,131.7 L158.4,133.3 L158.4,134.8 L158.4,136.3 L158.4,137.8 L158.4,139.3 L158.4,140.8 L158.4,142.3 L158.4,143.8 L158.4,145.4 L158.4,146.9 L158.4,148.4 L158.4,149.9 L158.4,151.4 L158.4,152.9 L158.4,154.4 L158.4,155.9 L158.4,157.5 L158.4,159.0 L158.4,160.5 L158.4,162.0 L158.4,163.5 L158.4,165.0 L158.4,166.5 L158.4,168.0 L158.4,169.6 L158.4,171.1 L158.4,172.6 L158.4,174.1 L158.4,175.6 L158.4,177.1 L158.4,178.6 L158.4,180.1 L158.4,181.7 L158.4,183.2 L158.4,184.7 L158.4,186.2 L158.4,187.7 L158.4,189.2 L158.4,190.7 L158.4,192.2 L158.4,193.8 L158.4,195.3 L158.4,196.8 L158.4,198.3 L158.4,199.8 L159.9,199.1 L161.4,198.5 L162.9,197.8 L164.4,197.1 L165.9,196.4 L167.3,195.8 L168.8,195.1 L170.3,194.4 L171.8,193.8 L173.3,193.1 L174.8,192.4 L174.8,190.9 L174.8,189.4 L174.8,187.9 L174.8,186.4 L174.8,184.9 L174.8,183.3 L174.8,181.8 L174.8,180.3 L174.8,178.8 L174.8,177.3 L174.8,175.8 L174.8,174.3 L174.8,172.7 L174.8,171.2 L174.8,169.7 L174.8,168.2 L174.8,166.7 L174.8,165.2 L174.8,163.7 L174.8,162.1 L174.8,160.6 L174.8,159.1 L174.8,157.6 L174.8,156.1 L174.8,154.6 L174.8,153.1 L174.8,151.5 L174.8,150.0 L174.8,148.5 L174.8,147.0 L174.8,145.5 L174.8,144.0 L174.8,142.5 L174.8,140.9 L174.8,139.4 L174.8,137.9 L174.8,136.4 L174.8,134.9 L174.8,133.4 L174.8,131.9 L174.8,130.4 L174.8,128.8 L174.8,127.3 L174.8,125.8 L174.8,124.3 L174.8,122.8 L174.8,121.3 L174.8,119.8 L174.8,118.2 L174.8,116.7 L174.8,115.2 L174.8,113.7 L174.8,112.2 L174.8,110.7 L174.8,109.2 L174.8,107.6 L174.8,106.1 L174.8,104.6 L174.8,103.1 L174.8,101.6 L174.8,100.1 L174.8,98.6 L174.8,97.0 L174.8,95.5 L174.8,94.0 L174.8,92.5 L174.8,91.0 L174.8,89.5 L174.8,88.0 L174.8,86.5 L174.8,84.9 L174.8,83.4 L174.8,81.9 L174.8,80.4 L174.8,78.9 L174.8,77.4 L174.8,75.9 L174.8,74.3 L174.8,72.8 L174.8,71.3 L174.8,69.8 L174.8,68.3 L174.8,66.8 L174.8,65.3 L174.8,63.7 L174.8,62.2 L174.8,60.7 L174.8,59.2 L174.8,57.7 L174.8,56.2 L174.8,54.7 L175.9,53.6 L177.0,52.6 L178.1,51.5 L179.2,50.5 L180.3,49.5 L181.4,48.4 L182.5,47.4 L183.5,46.4 L184.6,45.3 L185.7,44.3 L186.8,43.2 L187.9,42.2 L189.0,41.2 L190.1,40.1 L191.2,39.1 L191.2,40.6 L191.2,42.1 L191.2,43.6 L191.2,45.1 L191.2,46.6 L191.2,48.2 L191.2,49.7 L191.2,51.2 L191.2,52.7 L191.2,54.2 L191.2,55.7 L191.2,57.2 L191.2,58.8 L191.2,60.3 L191.2,61.8 L191.2,63.3 L191.2,64.8 L191.2,66.3 L191.2,67.8 L191.2,69.3 L191.2,70.9 L191.2,72.4 L191.2,73.9 L191.2,75.4 L191.2,76.9 L191.2,78.4 L191.2,79.9 L191.2,81.4 L191.2,83.0 L191.2,84.5 L191.2,86.0 L191.2,87.5 L191.2,89.0 L191.2,90.5 L191.2,92.0 L191.2,93.6 L191.2,95.1 L191.2,96.6 L191.2,98.1 L191.2,99.6 L191.2,101.1 L191.2,102.6 L191.2,104.1 L191.2,105.7 L191.2,107.2 L191.2,108.7 L191.2,110.2 L191.2,111.7 L191.2,113.2 L191.2,114.7 L191.2,116.3 L191.2,117.8 L191.2,119.3 L191.2,120.8 L191.2,122.3 L191.2,123.8 L191.2,125.3 L191.2,126.8 L191.2,128.4 L191.2,129.9 L191.2,131.4 L191.2,132.9 L191.2,134.4 L191.2,135.9 L191.2,137.4 L191.2,139.0 L191.2,140.5 L191.2,142.0 L191.2,143.5 L191.2,145.0 L191.2,146.5 L191.2,148.0 L191.2,149.5 L191.2,151.1 L191.2,152.6 L191.2,154.1 L191.2,155.6 L191.2,157.1 L191.2,158.6 L191.2,160.1 L191.2,161.6 L191.2,163.2 L191.2,164.7 L191.2,166.2 L191.2,167.7 L191.2,169.2 L191.2,170.7 L191.2,172.2 L191.2,173.8 L191.2,175.3 L191.2,176.8 L191.2,178.3 L191.2,179.8 L191.2,181.3 L191.2,182.8 L191.2,184.3 L191.2,185.9 L192.7,185.2 L194.2,184.5 L195.7,183.8 L197.2,183.2 L198.7,182.5 L200.1,181.8 L201.6,181.2 L203.1,180.5 L204.6,179.8 L206.1,179.2 L207.6,178.5 L207.6,177.0 L207.6,175.5 L207.6,174.0 L207.6,172.5 L207.6,170.9 L207.6,169.4 L207.6,167.9 L207.6,166.4 L207.6,164.9 L207.6,163.4 L207.6,161.9 L207.6,160.4 L207.6,158.9 L207.6,157.4 L207.6,155.9 L207.6,154.4 L207.6,152.9 L207.6,151.3 L207.6,149.8 L207.6,148.3 L207.6,146.8 L207.6,145.3 L207.6,143.8 L207.6,142.3 L207.6,140.8 L207.6,139.3 L207.6,137.8 L207.6,136.3 L207.6,134.8 L207.6,133.3 L207.6,131.7 L207.6,130.2 L207.6,128.7 L207.6,127.2 L207.6,125.7 L207.6,124.2 L207.6,122.7 L207.6,121.2 L207.6,119.7 L207.6,118.2 L207.6,116.7 L207.6,115.2 L207.6,113.7 L207.6,112.2 L207.6,110.6 L207.6,109.1 L207.6,107.6 L207.6,106.1 L207.6,104.6 L207.6,103.1 L207.6,101.6 L207.6,100.1 L207.6,98.6 L207.6,97.1 L207.6,95.6 L207.6,94.1 L207.6,92.6 L207.6,91.0 L207.6,89.5 L207.6,88.0 L207.6,86.5 L207.6,85.0 L207.6,83.5 L207.6,82.0 L207.6,80.5 L207.6,79.0 L207.6,77.5 L207.6,76.0 L207.6,74.5 L207.6,73.0 L207.6,71.4 L207.6,69.9 L207.6,68.4 L207.6,66.9 L207.6,65.4 L207.6,63.9 L207.6,62.4 L207.6,60.9 L207.6,59.4 L207.6,57.9 L207.6,56.4 L207.6,54.9 L207.6,53.4 L207.6,51.9 L207.6,50.3 L207.6,48.8 L207.6,47.3 L207.6,45.8 L207.6,44.3 L207.6,42.8 L207.6,41.3 L207.6,39.8 L207.6,38.3 L207.6,36.8 L207.6,35.3 L207.6,33.8 L207.6,32.3 L207.6,30.7 L207.6,29.2 L209.2,29.2 L210.9,29.2 L212.5,29.2 L214.2,29.2 L215.8,29.2 L217.4,29.2 L219.1,29.2 L220.7,29.2 L222.4,29.2 L224.0,29.2 L224.0,30.7 L224.0,32.3 L224.0,33.8 L224.0,35.3 L224.0,36.8 L224.0,38.3 L224.0,39.8 L224.0,41.3 L224.0,42.8 L224.0,44.3 L224.0,45.8 L224.0,47.3 L224.0,48.9 L224.0,50.4 L224.0,51.9 L224.0,53.4 L224.0,54.9 L224.0,56.4 L224.0,57.9 L224.0,59.4 L224.0,60.9 L224.0,62.4 L224.0,64.0 L224.0,65.5 L224.0,67.0 L224.0,68.5 L224.0,70.0 L224.0,71.5 L224.0,73.0 L224.0,74.5 L224.0,76.0 L224.0,77.5 L224.0,79.0 L224.0,80.6 L224.0,82.1 L224.0,83.6 L224.0,85.1 L224.0,86.6 L224.0,88.1 L224.0,89.6 L224.0,91.1 L224.0,92.6 L224.0,94.1 L224.0,95.6 L224.0,97.2 L224.0,98.7 L224.0,100.2 L224.0,101.7 L224.0,103.2 L224.0,104.7 L224.0,106.2 L224.0,107.7 L224.0,109.2 L224.0,110.7 L224.0,112.2 L224.0,113.8 L224.0,115.3 L224.0,116.8 L224.0,118.3 L224.0,119.8 L224.0,121.3 L224.0,122.8 L224.0,124.3 L224.0,125.8 L224.0,127.3 L224.0,128.8 L224.0,130.4 L224.0,131.9 L224.0,133.4 L224.0,134.9 L224.0,136.4 L224.0,137.9 L224.0,139.4 L224.0,140.9 L224.0,142.4 L224.0,143.9 L224.0,145.4 L224.0,147.0 L224.0,148.5 L224.0,150.0 L224.0,151.5 L224.0,153.0 L224.0,154.5 L224.0,156.0 L224.0,157.5 L224.0,159.0 L224.0,160.5 L224.0,162.0 L224.0,163.6 L224.0,165.1 L224.0,166.6 L224.0,168.1 L224.0,169.6 L224.0,171.1 L225.4,170.4 L226.7,169.7 L228.1,169.1 L229.5,168.4 L230.8,167.7 L232.2,167.0 L233.6,166.3 L234.9,165.6 L236.3,165.0 L237.7,164.3 L239.0,163.6 L240.4,162.9 L240.4,161.4 L240.4,159.9 L240.4,158.4 L240.4,156.9 L240.4,155.4 L240.4,153.9 L240.4,152.4 L240.4,150.9 L240.4,149.4 L240.4,147.9 L240.4,146.4 L240.4,144.9 L240.4,143.4 L240.4,141.9 L240.4,140.4 L240.4,138.8 L240.4,137.3 L240.4,135.8 L240.4,134.3 L240.4,132.8 L240.4,131.3 L240.4,129.8 L240.4,128.3 L240.4,126.8 L240.4,125.3 L240.4,123.8 L240.4,122.3 L240.4,120.8 L240.4,119.3 L240.4,117.8 L240.4,116.3 L240.4,114.8 L240.4,113.3 L240.4,111.8 L240.4,110.3 L240.4,108.8 L240.4,107.3 L240.4,105.8 L240.4,104.3 L240.4,102.8 L240.4,101.3 L240.4,99.8 L240.4,98.3 L240.4,96.8 L240.4,95.3 L240.4,93.7 L240.4,92.2 L240.4,90.7 L240.4,89.2 L240.4,87.7 L240.4,86.2 L240.4,84.7 L240.4,83.2 L240.4,81.7 L240.4,80.2 L240.4,78.7 L240.4,77.2 L240.4,75.7 L240.4,74.2 L240.4,72.7 L240.4,71.2 L240.4,69.7 L240.4,68.2 L240.4,66.7 L240.4,65.2 L240.4,63.7 L240.4,62.2 L240.4,60.7 L240.4,59.2 L240.4,57.7 L240.4,56.2 L240.4,54.7 L240.4,53.2 L240.4,51.7 L240.4,50.2 L240.4,48.6 L240.4,47.1 L240.4,45.6 L240.4,44.1 L240.4,42.6 L240.4,41.1 L240.4,39.6 L240.4,38.1 L240.4,36.6 L241.6,37.7 L242.7,38.7 L243.9,39.8 L245.1,40.8 L246.3,41.9 L247.4,42.9 L248.6,44.0 L249.8,45.1 L250.9,46.1 L252.1,47.2 L253.3,48.2 L254.5,49.3 L255.6,50.3 L256.8,51.4 L256.8,52.9 L256.8,54.4 L256.8,55.9 L256.8,57.4 L256.8,58.9 L256.8,60.4 L256.8,61.9 L256.8,63.5 L256.8,65.0 L256.8,66.5 L256.8,68.0 L256.8,69.5 L256.8,71.0 L256.8,72.5 L256.8,74.0 L256.8,75.5 L256.8,77.0 L256.8,78.6 L256.8,80.1 L256.8,81.6 L256.8,83.1 L256.8,84.6 L256.8,86.1 L256.8,87.6 L256.8,89.1 L256.8,90.6 L256.8,92.1 L256.8,93.6 L256.8,95.2 L256.8,96.7 L256.8,98.2 L256.8,99.7 L256.8,101.2 L256.8,102.7 L256.8,104.2 L256.8,105.7 L256.8,107.2 L256.8,108.7 L256.8,110.3 L256.8,111.8 L256.8,113.3 L256.8,114.8 L256.8,116.3 L256.8,117.8" fill="none" stroke="#7a7a7a" stroke-width="0.85" stroke-dasharray="5.2 2.5"/>
<g fill="none" stroke-linecap="round" stroke-linejoin="round" filter="url(#bl)">
<polyline points="60.0,83.4 60.0,84.9" stroke="#ff2c00" stroke-width="3.24"/>
<polyline points="75.1,185.9 76.4,186.7" stroke="#ff4700" stroke-width="3.00"/>
<polyline points="76.4,186.7 76.4,185.2" stroke="#ff1100" stroke-width="3.48"/>
<polyline points="125.6,77.6 125.6,79.1" stroke="#ff2c00" stroke-width="3.24"/>
<polyline points="157.1,64.6 158.4,63.7" stroke="#da0000" stroke-width="4.08"/>
<polyline points="158.4,63.7 158.4,65.2" stroke="#520000" stroke-width="4.34"/>
<polyline points="158.4,65.2 158.4,66.7" stroke="#a30000" stroke-width="4.19"/>
<polyline points="158.4,66.7 158.4,68.2" stroke="#ff4700" stroke-width="3.00"/>
<polyline points="190.1,40.1 191.2,39.1" stroke="#ff1100" stroke-width="3.48"/>
<polyline points="191.2,39.1 191.2,40.6" stroke="#520000" stroke-width="4.34"/>
<polyline points="191.2,40.6 191.2,42.1" stroke="#a30000" stroke-width="4.19"/>
<polyline points="191.2,42.1 191.2,43.6" stroke="#ff4700" stroke-width="3.00"/>
<polyline points="207.6,33.8 207.6,32.3" stroke="#ff4700" stroke-width="3.00"/>
<polyline points="207.6,32.3 207.6,30.7" stroke="#a30000" stroke-width="4.19"/>
<polyline points="207.6,30.7 207.6,29.2" stroke="#ff2c00" stroke-width="3.24"/>
<polyline points="240.4,41.1 240.4,39.6" stroke="#ff4700" stroke-width="3.00"/>
<polyline points="240.4,39.6 240.4,38.1" stroke="#a30000" stroke-width="4.19"/>
<circle cx="43.6" cy="83.4" r="1.51" fill="#ff0500" stroke="none"/>
<circle cx="60.0" cy="83.4" r="1.48" fill="#ff2500" stroke="none"/>
<circle cx="76.4" cy="186.7" r="1.51" fill="#ff0500" stroke="none"/>
<circle cx="76.4" cy="82.5" r="1.42" fill="#ff6600" stroke="none"/>
<circle cx="109.2" cy="80.9" r="1.45" fill="#ff4600" stroke="none"/>
<circle cx="125.6" cy="77.6" r="1.48" fill="#ff2500" stroke="none"/>
<circle cx="142.0" cy="76.0" r="1.40" fill="#ff8600" stroke="none"/>
<path d="M158.4,63.9 v4.3" stroke="#e70000" stroke-width="2.7"/>
<path d="M158.4,63.7 v2.6" stroke="#880000" stroke-width="2.9"/>
<path d="M158.4,63.7 v1.0" stroke="#440000" stroke-width="2.5"/>
<circle cx="174.8" cy="54.7" r="1.40" fill="#ff8600" stroke="none"/>
<path d="M191.2,39.3 v4.3" stroke="#e70000" stroke-width="2.7"/>
<path d="M191.2,39.1 v2.6" stroke="#880000" stroke-width="2.9"/>
<path d="M191.2,39.1 v1.0" stroke="#440000" stroke-width="2.5"/>
<path d="M207.6,29.4 v4.3" stroke="#e70000" stroke-width="2.7"/>
<path d="M207.6,29.2 v2.6" stroke="#880000" stroke-width="2.9"/>
<path d="M207.6,29.2 v1.0" stroke="#440000" stroke-width="2.5"/>
<path d="M240.4,36.8 v4.3" stroke="#e70000" stroke-width="2.7"/>
<path d="M240.4,36.6 v2.6" stroke="#880000" stroke-width="2.9"/>
<path d="M240.4,36.6 v1.0" stroke="#440000" stroke-width="2.5"/>
</g>
<path d="M310.2,15.3 V220.3 H538.8" fill="none" stroke="#a0a0a0" stroke-width="1.0"/>
<path d="M317.4,220.3 v-2.5 M358.4,220.3 v-2.5 M399.4,220.3 v-2.5 M440.4,220.3 v-2.5 M481.4,220.3 v-2.5 M522.4,220.3 v-2.5 M310.2,220.3 h2.5 M310.2,179.3 h2.5 M310.2,138.3 h2.5 M310.2,97.3 h2.5 M310.2,56.3 h2.5 M310.2,15.3 h2.5 " fill="none" stroke="#a0a0a0" stroke-width="1"/>
<g fill="none" stroke-linecap="round" stroke-linejoin="round" filter="url(#bl)">
<polyline points="317.4,135.2 317.4,133.7 317.4,132.2 317.4,130.7 317.4,129.1" stroke="#ffffd6" stroke-width="2.75"/>
<polyline points="317.4,129.1 317.4,127.6 317.4,126.1" stroke="#ffffad" stroke-width="2.80"/>
<polyline points="317.4,126.1 317.4,124.6 317.4,123.0 317.4,121.5" stroke="#ffff85" stroke-width="2.86"/>
<polyline points="317.4,121.5 317.4,120.0 317.4,118.5 317.4,116.9 317.4,115.4 317.4,113.9 317.4,112.4 317.4,110.8 317.4,109.3 317.4,107.8 317.4,106.3 317.4,104.7 317.4,103.2 317.4,101.7 317.4,100.1 317.4,98.6 317.4,97.1 317.4,95.6 317.4,94.0 317.4,92.5 317.4,91.0 317.4,89.5 317.4,87.9 317.4,86.4 317.4,84.9" stroke="#ffff5c" stroke-width="2.91"/>
<polyline points="317.4,84.9 317.4,83.4" stroke="#ffff0a" stroke-width="3.01"/>
<polyline points="317.4,83.4 319.0,83.4 320.7,83.4 322.3,83.4 324.0,83.4 325.6,83.4 327.2,83.4 328.9,83.4" stroke="#ffff00" stroke-width="3.18"/>
<polyline points="328.9,83.4 330.5,83.4" stroke="#ffff33" stroke-width="2.96"/>
<polyline points="330.5,83.4 332.2,83.4" stroke="#ffff5c" stroke-width="2.91"/>
<polyline points="332.2,83.4 333.8,83.4 333.8,84.9 333.8,86.4 333.8,87.9 333.8,89.4 333.8,91.0 333.8,92.5 333.8,94.0 333.8,95.5 333.8,97.0 333.8,98.6 333.8,100.1 333.8,101.6 333.8,103.1 333.8,104.6 333.8,106.1 333.8,107.7 333.8,109.2 333.8,110.7" stroke="#ffff33" stroke-width="2.96"/>
<polyline points="333.8,110.7 333.8,112.2 333.8,113.7 333.8,115.3 333.8,116.8 333.8,118.3 333.8,119.8 333.8,121.3 333.8,122.9 333.8,124.4 333.8,125.9 333.8,127.4 333.8,128.9 333.8,130.4 333.8,132.0 333.8,133.5 333.8,135.0 333.8,136.5 333.8,138.0 333.8,139.6 333.8,141.1 333.8,142.6 333.8,144.1 333.8,145.6 333.8,147.2 333.8,148.7" stroke="#ffff5c" stroke-width="2.91"/>
<polyline points="333.8,148.7 333.8,150.2 333.8,151.7 333.8,153.2 333.8,154.8 333.8,156.3 333.8,157.8 333.8,159.3 333.8,160.8 333.8,162.3 333.8,163.9 333.8,165.4 333.8,166.9 333.8,168.4 333.8,169.9" stroke="#ffff85" stroke-width="2.86"/>
<polyline points="333.8,169.9 333.8,171.5 333.8,173.0 333.8,174.5" stroke="#ffffad" stroke-width="2.80"/>
<polyline points="333.8,174.5 333.8,176.0" stroke="#ffffd6" stroke-width="2.75"/>
<polyline points="345.2,183.4 346.4,184.2 347.7,185.0 348.9,185.9" stroke="#ffffd6" stroke-width="2.75"/>
<polyline points="348.9,185.9 350.2,186.7 350.2,185.2 350.2,183.7" stroke="#ffff00" stroke-width="3.18"/>
<polyline points="350.2,183.7 350.2,182.2" stroke="#ffff85" stroke-width="2.86"/>
<polyline points="350.2,87.1 350.2,85.6 350.2,84.0" stroke="#ffffd6" stroke-width="2.75"/>
<polyline points="350.2,84.0 350.2,82.5" stroke="#ffff5c" stroke-width="2.91"/>
<polyline points="350.2,82.5 351.8,82.5 353.5,82.4 355.1,82.3 356.8,82.2 358.4,82.1 360.0,82.0 361.7,82.0 363.3,81.9" stroke="#ffff00" stroke-width="3.18"/>
<polyline points="363.3,81.9 365.0,81.8 366.6,81.7" stroke="#ffff0a" stroke-width="3.01"/>
<polyline points="366.6,81.7 366.6,83.2 366.6,84.7 366.6,86.2 366.6,87.7 366.6,89.2 366.6,90.8" stroke="#ffff33" stroke-width="2.96"/>
<polyline points="366.6,90.8 366.6,92.3 366.6,93.8 366.6,95.3 366.6,96.8 366.6,98.3 366.6,99.8 366.6,101.3 366.6,102.8 366.6,104.3 366.6,105.8 366.6,107.3 366.6,108.8 366.6,110.3" stroke="#ffff5c" stroke-width="2.91"/>
<polyline points="366.6,110.3 366.6,111.8 366.6,113.3 366.6,114.8 366.6,116.3 366.6,117.8 366.6,119.4 366.6,120.9 366.6,122.4 366.6,123.9 366.6,125.4 366.6,126.9 366.6,128.4 366.6,129.9 366.6,131.4 366.6,132.9 366.6,134.4 366.6,135.9 366.6,137.4" stroke="#ffff85" stroke-width="2.86"/>
<polyline points="366.6,137.4 366.6,138.9 366.6,140.4 366.6,141.9 366.6,143.4 366.6,144.9 366.6,146.4 366.6,147.9 366.6,149.5 366.6,151.0 366.6,152.5 366.6,154.0 366.6,155.5 366.6,157.0 366.6,158.5 366.6,160.0 366.6,161.5 366.6,163.0 366.6,164.5 366.6,166.0 366.6,167.5 366.6,169.0 366.6,170.5 366.6,172.0 366.6,173.5 366.6,175.0 366.6,176.5 366.6,178.1 366.6,179.6 366.6,181.1 366.6,182.6 366.6,184.1 366.6,185.6 366.6,187.1 366.6,188.6 366.6,190.1" stroke="#ffffad" stroke-width="2.80"/>
<polyline points="366.6,190.1 366.6,191.6" stroke="#ffffd6" stroke-width="2.75"/>
<polyline points="381.5,193.8 383.0,194.1" stroke="#ffffd6" stroke-width="2.75"/>
<polyline points="383.0,194.1 383.0,192.6 383.0,191.0 383.0,189.5 383.0,188.0" stroke="#ffff5c" stroke-width="2.91"/>
<polyline points="383.0,188.0 383.0,186.5 383.0,185.0 383.0,183.5 383.0,182.0 383.0,180.5 383.0,179.0 383.0,177.5 383.0,176.0 383.0,174.4 383.0,172.9 383.0,171.4 383.0,169.9 383.0,168.4 383.0,166.9 383.0,165.4" stroke="#ffff85" stroke-width="2.86"/>
<polyline points="383.0,165.4 383.0,163.9 383.0,162.4 383.0,160.9 383.0,159.4 383.0,157.8 383.0,156.3 383.0,154.8 383.0,153.3" stroke="#ffffad" stroke-width="2.80"/>
<polyline points="383.0,153.3 383.0,151.8 383.0,150.3 383.0,148.8 383.0,147.3 383.0,145.8 383.0,144.3 383.0,142.8" stroke="#ffffd6" stroke-width="2.75"/>
<polyline points="383.0,132.2 383.0,130.7 383.0,129.2 383.0,127.7 383.0,126.2 383.0,124.7 383.0,123.1 383.0,121.6" stroke="#ffffd6" stroke-width="2.75"/>
<polyline points="383.0,121.6 383.0,120.1 383.0,118.6 383.0,117.1 383.0,115.6" stroke="#ffffad" stroke-width="2.80"/>
<polyline points="383.0,115.6 383.0,114.1 383.0,112.6 383.0,111.1 383.0,109.6 383.0,108.1 383.0,106.5 383.0,105.0 383.0,103.5" stroke="#ffff85" stroke-width="2.86"/>
<polyline points="383.0,103.5 383.0,102.0 383.0,100.5 383.0,99.0 383.0,97.5 383.0,96.0 383.0,94.5 383.0,93.0 383.0,91.5 383.0,90.0 383.0,88.4 383.0,86.9 383.0,85.4 383.0,83.9 383.0,82.4" stroke="#ffff5c" stroke-width="2.91"/>
<polyline points="383.0,82.4 383.0,80.9" stroke="#ffff0a" stroke-width="3.01"/>
<polyline points="383.0,80.9 384.5,80.6 386.0,80.3 387.5,80.0" stroke="#ffff00" stroke-width="3.18"/>
<polyline points="387.5,80.0 389.0,79.7 390.5,79.4 391.9,79.1 393.4,78.8 394.9,78.5 396.4,78.2 397.9,77.9" stroke="#ffff0a" stroke-width="3.01"/>
<polyline points="397.9,77.9 399.4,77.6" stroke="#ffff5c" stroke-width="2.91"/>
<polyline points="399.4,77.6 399.4,79.1 399.4,80.6 399.4,82.2 399.4,83.7 399.4,85.2 399.4,86.7 399.4,88.2 399.4,89.7 399.4,91.2 399.4,92.8 399.4,94.3 399.4,95.8 399.4,97.3 399.4,98.8 399.4,100.3 399.4,101.8 399.4,103.4 399.4,104.9 399.4,106.4 399.4,107.9 399.4,109.4 399.4,110.9 399.4,112.4 399.4,114.0 399.4,115.5 399.4,117.0 399.4,118.5 399.4,120.0 399.4,121.5 399.4,123.0 399.4,124.5 399.4,126.1 399.4,127.6 399.4,129.1 399.4,130.6 399.4,132.1 399.4,133.6 399.4,135.1 399.4,136.7 399.4,138.2 399.4,139.7 399.4,141.2 399.4,142.7 399.4,144.2 399.4,145.7 399.4,147.3 399.4,148.8 399.4,150.3 399.4,151.8 399.4,153.3 399.4,154.8 399.4,156.3 399.4,157.9 399.4,159.4 399.4,160.9 399.4,162.4 399.4,163.9 399.4,165.4 399.4,166.9 399.4,168.5 399.4,170.0 399.4,171.5 399.4,173.0 399.4,174.5 399.4,176.0 399.4,177.5 399.4,179.0 399.4,180.6 399.4,182.1 399.4,183.6 399.4,185.1 399.4,186.6 399.4,188.1 399.4,189.6 399.4,191.2 399.4,192.7 399.4,194.2" stroke="#ffffad" stroke-width="2.80"/>
<polyline points="399.4,194.2 399.4,195.7" stroke="#ffff85" stroke-width="2.86"/>
<polyline points="399.4,195.7 400.9,196.0" stroke="#ffff5c" stroke-width="2.91"/>
<polyline points="400.9,196.0 402.4,196.3 403.9,196.6 405.4,196.9" stroke="#ffff85" stroke-width="2.86"/>
<polyline points="405.4,196.9 406.9,197.2 408.3,197.5" stroke="#ffffad" stroke-width="2.80"/>
<polyline points="408.3,197.5 409.8,197.8 411.3,198.1" stroke="#ffff85" stroke-width="2.86"/>
<polyline points="411.3,198.1 412.8,198.4 414.3,198.7" stroke="#ffff5c" stroke-width="2.91"/>
<polyline points="414.3,198.7 415.8,199.0" stroke="#ffff85" stroke-width="2.86"/>
<polyline points="415.8,199.0 415.8,197.5 415.8,196.0 415.8,194.5" stroke="#ffffd6" stroke-width="2.75"/>
<polyline points="415.8,194.5 415.8,193.0 415.8,191.5" stroke="#ffffad" stroke-width="2.80"/>
<polyline points="415.8,191.5 415.8,190.0 415.8,188.5 415.8,187.0" stroke="#ffff85" stroke-width="2.86"/>
<polyline points="415.8,187.0 415.8,185.5 415.8,184.0 415.8,182.5 415.8,181.0" stroke="#ffff5c" stroke-width="2.91"/>
<polyline points="415.8,181.0 415.8,179.5 415.8,178.0 415.8,176.5 415.8,175.0 415.8,173.5 415.8,172.0 415.8,170.5" stroke="#ffff33" stroke-width="2.96"/>
<polyline points="415.8,170.5 415.8,169.0 415.8,167.5 415.8,166.0 415.8,164.5 415.8,163.0 415.8,161.5 415.8,160.0 415.8,158.5 415.8,157.0 415.8,155.5 415.8,154.0 415.8,152.5 415.8,151.0 415.8,149.5 415.8,148.0 415.8,146.5 415.8,145.0 415.8,143.5 415.8,142.0 415.8,140.5 415.8,139.0 415.8,137.5 415.8,136.0 415.8,134.5 415.8,133.0 415.8,131.5 415.8,130.0 415.8,128.5 415.8,127.0 415.8,125.5 415.8,124.0 415.8,122.5 415.8,121.0 415.8,119.5 415.8,118.0 415.8,116.5 415.8,115.0 415.8,113.5 415.8,112.0 415.8,110.5 415.8,109.0 415.8,107.5 415.8,106.0 415.8,104.5 415.8,103.0 415.8,101.5 415.8,100.0 415.8,98.5 415.8,97.0 415.8,95.5 415.8,94.0 415.8,92.5 415.8,91.0 415.8,89.5 415.8,88.0 415.8,86.5 415.8,85.0 415.8,83.5 415.8,82.0 415.8,80.5 415.8,79.0 415.8,77.5" stroke="#ffff0a" stroke-width="3.01"/>
<polyline points="415.8,77.5 415.8,76.0" stroke="#ffff85" stroke-width="2.86"/>
<polyline points="423.4,70.3 424.6,69.4 425.9,68.4 427.2,67.5 428.4,66.5 429.7,65.6" stroke="#ffffd6" stroke-width="2.75"/>
<polyline points="429.7,65.6 430.9,64.6" stroke="#ffffad" stroke-width="2.80"/>
<polyline points="430.9,64.6 432.2,63.7 432.2,65.2" stroke="#ffff00" stroke-width="3.18"/>
<polyline points="432.2,65.2 432.2,66.7" stroke="#ffff0a" stroke-width="3.01"/>
<polyline points="432.2,66.7 432.2,68.2 432.2,69.7 432.2,71.2 432.2,72.8 432.2,74.3 432.2,75.8 432.2,77.3" stroke="#ffff5c" stroke-width="2.91"/>
<polyline points="432.2,77.3 432.2,78.8 432.2,80.3 432.2,81.8 432.2,83.3 432.2,84.9 432.2,86.4 432.2,87.9 432.2,89.4 432.2,90.9 432.2,92.4 432.2,93.9 432.2,95.4 432.2,97.0 432.2,98.5" stroke="#ffff85" stroke-width="2.86"/>
<polyline points="432.2,98.5 432.2,100.0 432.2,101.5 432.2,103.0 432.2,104.5 432.2,106.0 432.2,107.5 432.2,109.1" stroke="#ffffad" stroke-width="2.80"/>
<polyline points="432.2,109.1 432.2,110.6 432.2,112.1 432.2,113.6 432.2,115.1 432.2,116.6 432.2,118.1 432.2,119.6 432.2,121.2 432.2,122.7 432.2,124.2 432.2,125.7 432.2,127.2 432.2,128.7 432.2,130.2 432.2,131.7 432.2,133.3 432.2,134.8" stroke="#ffffd6" stroke-width="2.75"/>
<polyline points="432.2,134.8 432.2,136.3 432.2,137.8 432.2,139.3 432.2,140.8 432.2,142.3 432.2,143.8 432.2,145.4 432.2,146.9 432.2,148.4 432.2,149.9 432.2,151.4" stroke="#ffffad" stroke-width="2.80"/>
<polyline points="432.2,151.4 432.2,152.9 432.2,154.4 432.2,155.9 432.2,157.5 432.2,159.0 432.2,160.5 432.2,162.0 432.2,163.5 432.2,165.0 432.2,166.5 432.2,168.0 432.2,169.6 432.2,171.1 432.2,172.6" stroke="#ffff85" stroke-width="2.86"/>
<polyline points="432.2,172.6 432.2,174.1 432.2,175.6 432.2,177.1 432.2,178.6 432.2,180.1 432.2,181.7 432.2,183.2 432.2,184.7 432.2,186.2 432.2,187.7 432.2,189.2 432.2,190.7 432.2,192.2 432.2,193.8 432.2,195.3" stroke="#ffff5c" stroke-width="2.91"/>
<polyline points="432.2,195.3 432.2,196.8" stroke="#ffff33" stroke-width="2.96"/>
<polyline points="432.2,196.8 432.2,198.3 432.2,199.8" stroke="#ffff00" stroke-width="3.18"/>
<polyline points="432.2,199.8 433.7,199.1 435.2,198.5 436.7,197.8 438.2,197.1 439.7,196.4 441.1,195.8 442.6,195.1 444.1,194.4 445.6,193.8 447.1,193.1 448.6,192.4 448.6,190.9 448.6,189.4 448.6,187.9 448.6,186.4 448.6,184.9 448.6,183.3 448.6,181.8 448.6,180.3 448.6,178.8 448.6,177.3 448.6,175.8 448.6,174.3 448.6,172.7 448.6,171.2 448.6,169.7 448.6,168.2 448.6,166.7 448.6,165.2 448.6,163.7 448.6,162.1 448.6,160.6 448.6,159.1 448.6,157.6 448.6,156.1" stroke="#ffff0a" stroke-width="3.01"/>
<polyline points="448.6,156.1 448.6,154.6 448.6,153.1 448.6,151.5 448.6,150.0 448.6,148.5 448.6,147.0 448.6,145.5 448.6,144.0 448.6,142.5 448.6,140.9 448.6,139.4 448.6,137.9 448.6,136.4 448.6,134.9 448.6,133.4 448.6,131.9 448.6,130.4 448.6,128.8 448.6,127.3 448.6,125.8 448.6,124.3 448.6,122.8 448.6,121.3 448.6,119.8 448.6,118.2 448.6,116.7 448.6,115.2 448.6,113.7 448.6,112.2 448.6,110.7 448.6,109.2 448.6,107.6 448.6,106.1 448.6,104.6 448.6,103.1 448.6,101.6 448.6,100.1 448.6,98.6 448.6,97.0 448.6,95.5 448.6,94.0 448.6,92.5 448.6,91.0" stroke="#ffff33" stroke-width="2.96"/>
<polyline points="448.6,91.0 448.6,89.5 448.6,88.0 448.6,86.5 448.6,84.9 448.6,83.4 448.6,81.9 448.6,80.4 448.6,78.9 448.6,77.4 448.6,75.9 448.6,74.3 448.6,72.8 448.6,71.3 448.6,69.8 448.6,68.3 448.6,66.8 448.6,65.3 448.6,63.7 448.6,62.2 448.6,60.7 448.6,59.2 448.6,57.7 448.6,56.2" stroke="#ffff5c" stroke-width="2.91"/>
<polyline points="448.6,56.2 448.6,54.7" stroke="#ffffd6" stroke-width="2.75"/>
<polyline points="460.6,43.2 461.7,42.2 462.8,41.2 463.9,40.1" stroke="#ffffd6" stroke-width="2.75"/>
<polyline points="463.9,40.1 465.0,39.1 465.0,40.6 465.0,42.1" stroke="#ffff00" stroke-width="3.18"/>
<polyline points="465.0,42.1 465.0,43.6" stroke="#ffff5c" stroke-width="2.91"/>
<polyline points="465.0,43.6 465.0,45.1 465.0,46.6 465.0,48.2" stroke="#ffffad" stroke-width="2.80"/>
<polyline points="465.0,48.2 465.0,49.7 465.0,51.2 465.0,52.7 465.0,54.2 465.0,55.7 465.0,57.2 465.0,58.8 465.0,60.3 465.0,61.8 465.0,63.3 465.0,64.8 465.0,66.3 465.0,67.8 465.0,69.3 465.0,70.9 465.0,72.4 465.0,73.9 465.0,75.4" stroke="#ffffd6" stroke-width="2.75"/>
<polyline points="465.0,178.3 465.0,179.8 465.0,181.3" stroke="#ffffd6" stroke-width="2.75"/>
<polyline points="465.0,181.3 465.0,182.8" stroke="#ffff85" stroke-width="2.86"/>
<polyline points="465.0,182.8 465.0,184.3 465.0,185.9" stroke="#ffff00" stroke-width="3.18"/>
<polyline points="465.0,185.9 466.5,185.2" stroke="#ffffad" stroke-width="2.80"/>
<polyline points="466.5,185.2 468.0,184.5 469.5,183.8 471.0,183.2" stroke="#ffffd6" stroke-width="2.75"/>
<polyline points="479.9,179.2 481.4,178.5" stroke="#ffffd6" stroke-width="2.75"/>
<polyline points="481.4,178.5 481.4,177.0 481.4,175.5 481.4,174.0 481.4,172.5 481.4,170.9" stroke="#ffffad" stroke-width="2.80"/>
<polyline points="481.4,170.9 481.4,169.4 481.4,167.9 481.4,166.4 481.4,164.9 481.4,163.4 481.4,161.9 481.4,160.4 481.4,158.9 481.4,157.4 481.4,155.9 481.4,154.4 481.4,152.9 481.4,151.3 481.4,149.8 481.4,148.3 481.4,146.8 481.4,145.3 481.4,143.8 481.4,142.3 481.4,140.8 481.4,139.3 481.4,137.8 481.4,136.3 481.4,134.8 481.4,133.3 481.4,131.7 481.4,130.2 481.4,128.7 481.4,127.2 481.4,125.7" stroke="#ffffd6" stroke-width="2.75"/>
<polyline points="481.4,125.7 481.4,124.2 481.4,122.7 481.4,121.2 481.4,119.7 481.4,118.2 481.4,116.7 481.4,115.2 481.4,113.7 481.4,112.2 481.4,110.6" stroke="#ffffad" stroke-width="2.80"/>
<polyline points="481.4,110.6 481.4,109.1 481.4,107.6 481.4,106.1 481.4,104.6 481.4,103.1 481.4,101.6 481.4,100.1 481.4,98.6 481.4,97.1 481.4,95.6 481.4,94.1 481.4,92.6 481.4,91.0 481.4,89.5 481.4,88.0 481.4,86.5 481.4,85.0 481.4,83.5 481.4,82.0 481.4,80.5 481.4,79.0 481.4,77.5 481.4,76.0 481.4,74.5 481.4,73.0 481.4,71.4 481.4,69.9 481.4,68.4 481.4,66.9 481.4,65.4 481.4,63.9 481.4,62.4 481.4,60.9 481.4,59.4 481.4,57.9 481.4,56.4 481.4,54.9" stroke="#ffff85" stroke-width="2.86"/>
<polyline points="481.4,54.9 481.4,53.4 481.4,51.9 481.4,50.3 481.4,48.8 481.4,47.3 481.4,45.8 481.4,44.3 481.4,42.8 481.4,41.3 481.4,39.8 481.4,38.3 481.4,36.8 481.4,35.3 481.4,33.8 481.4,32.3 481.4,30.7 481.4,29.2" stroke="#ffff5c" stroke-width="2.91"/>
<polyline points="481.4,29.2 483.0,29.2 484.7,29.2" stroke="#ffff33" stroke-width="2.96"/>
<polyline points="484.7,29.2 486.3,29.2 488.0,29.2 489.6,29.2 491.2,29.2 492.9,29.2 494.5,29.2 496.2,29.2" stroke="#ffff5c" stroke-width="2.91"/>
<polyline points="496.2,29.2 497.8,29.2" stroke="#ffff33" stroke-width="2.96"/>
<polyline points="497.8,29.2 497.8,30.7 497.8,32.3 497.8,33.8 497.8,35.3 497.8,36.8 497.8,38.3 497.8,39.8 497.8,41.3 497.8,42.8 497.8,44.3 497.8,45.8 497.8,47.3 497.8,48.9 497.8,50.4 497.8,51.9 497.8,53.4 497.8,54.9 497.8,56.4 497.8,57.9 497.8,59.4 497.8,60.9 497.8,62.4 497.8,64.0 497.8,65.5 497.8,67.0 497.8,68.5 497.8,70.0 497.8,71.5 497.8,73.0 497.8,74.5" stroke="#ffff0a" stroke-width="3.01"/>
<polyline points="497.8,74.5 497.8,76.0 497.8,77.5 497.8,79.0 497.8,80.6 497.8,82.1 497.8,83.6 497.8,85.1 497.8,86.6 497.8,88.1 497.8,89.6 497.8,91.1 497.8,92.6 497.8,94.1 497.8,95.6 497.8,97.2" stroke="#ffff33" stroke-width="2.96"/>
<polyline points="497.8,97.2 497.8,98.7 497.8,100.2 497.8,101.7 497.8,103.2 497.8,104.7 497.8,106.2 497.8,107.7 497.8,109.2 497.8,110.7 497.8,112.2 497.8,113.8 497.8,115.3 497.8,116.8 497.8,118.3 497.8,119.8 497.8,121.3 497.8,122.8 497.8,124.3 497.8,125.8 497.8,127.3 497.8,128.8 497.8,130.4 497.8,131.9 497.8,133.4 497.8,134.9 497.8,136.4 497.8,137.9 497.8,139.4 497.8,140.9 497.8,142.4 497.8,143.9 497.8,145.4 497.8,147.0 497.8,148.5 497.8,150.0 497.8,151.5 497.8,153.0 497.8,154.5 497.8,156.0 497.8,157.5 497.8,159.0 497.8,160.5 497.8,162.0 497.8,163.6 497.8,165.1 497.8,166.6 497.8,168.1" stroke="#ffff5c" stroke-width="2.91"/>
<polyline points="497.8,168.1 497.8,169.6 497.8,171.1" stroke="#ffff00" stroke-width="3.18"/>
<polyline points="497.8,171.1 499.2,170.4" stroke="#ffff5c" stroke-width="2.91"/>
<polyline points="499.2,170.4 500.5,169.7" stroke="#ffff85" stroke-width="2.86"/>
<polyline points="500.5,169.7 501.9,169.1 503.3,168.4" stroke="#ffffad" stroke-width="2.80"/>
<polyline points="503.3,168.4 504.6,167.7 506.0,167.0 507.4,166.3 508.7,165.6 510.1,165.0 511.5,164.3 512.8,163.6" stroke="#ffffd6" stroke-width="2.75"/>
<polyline points="514.2,105.8 514.2,104.3 514.2,102.8 514.2,101.3 514.2,99.8 514.2,98.3 514.2,96.8 514.2,95.3 514.2,93.7 514.2,92.2 514.2,90.7 514.2,89.2 514.2,87.7 514.2,86.2 514.2,84.7 514.2,83.2 514.2,81.7 514.2,80.2 514.2,78.7 514.2,77.2 514.2,75.7 514.2,74.2" stroke="#ffffd6" stroke-width="2.75"/>
<polyline points="514.2,74.2 514.2,72.7 514.2,71.2 514.2,69.7 514.2,68.2 514.2,66.7 514.2,65.2 514.2,63.7 514.2,62.2 514.2,60.7 514.2,59.2 514.2,57.7 514.2,56.2 514.2,54.7 514.2,53.2 514.2,51.7 514.2,50.2 514.2,48.6 514.2,47.1 514.2,45.6 514.2,44.1 514.2,42.6 514.2,41.1" stroke="#ffffad" stroke-width="2.80"/>
<polyline points="514.2,41.1 514.2,39.6" stroke="#ffff5c" stroke-width="2.91"/>
<polyline points="514.2,39.6 514.2,38.1 514.2,36.6 515.4,37.7 516.5,38.7 517.7,39.8 518.9,40.8 520.1,41.9 521.2,42.9 522.4,44.0 523.6,45.1 524.7,46.1 525.9,47.2 527.1,48.2 528.3,49.3 529.4,50.3" stroke="#ffff00" stroke-width="3.18"/>
<polyline points="529.4,50.3 530.6,51.4" stroke="#ffff0a" stroke-width="3.01"/>
<polyline points="530.6,51.4 530.6,52.9 530.6,54.4 530.6,55.9 530.6,57.4 530.6,58.9 530.6,60.4 530.6,61.9" stroke="#ffff5c" stroke-width="2.91"/>
<polyline points="530.6,61.9 530.6,63.5 530.6,65.0 530.6,66.5 530.6,68.0 530.6,69.5 530.6,71.0 530.6,72.5 530.6,74.0 530.6,75.5 530.6,77.0 530.6,78.6 530.6,80.1 530.6,81.6 530.6,83.1 530.6,84.6 530.6,86.1 530.6,87.6 530.6,89.1 530.6,90.6 530.6,92.1 530.6,93.6 530.6,95.2 530.6,96.7 530.6,98.2 530.6,99.7 530.6,101.2 530.6,102.7 530.6,104.2 530.6,105.7 530.6,107.2 530.6,108.7 530.6,110.3 530.6,111.8 530.6,113.3" stroke="#ffff85" stroke-width="2.86"/>
<polyline points="530.6,113.3 530.6,114.8" stroke="#ffff5c" stroke-width="2.91"/>
<polyline points="530.6,114.8 530.6,116.3 530.6,117.8" stroke="#ffff00" stroke-width="3.18"/>
<polyline points="317.4,83.4 319.0,83.4" stroke="#ff9900" stroke-width="2.29"/>
<polyline points="319.0,83.4 320.7,83.4" stroke="#ff7e00" stroke-width="2.53"/>
<polyline points="320.7,83.4 322.3,83.4 324.0,83.4" stroke="#ff6300" stroke-width="2.76"/>
<polyline points="324.0,83.4 325.6,83.4" stroke="#ff7e00" stroke-width="2.53"/>
<polyline points="325.6,83.4 327.2,83.4" stroke="#ffb400" stroke-width="2.05"/>
<polyline points="327.2,83.4 328.9,83.4" stroke="#ffeb00" stroke-width="1.57"/>
<polyline points="348.9,185.9 350.2,186.7" stroke="#ff9900" stroke-width="2.29"/>
<polyline points="350.2,185.2 350.2,183.7" stroke="#ff9900" stroke-width="2.29"/>
<polyline points="350.2,82.5 351.8,82.5 353.5,82.4 355.1,82.3 356.8,82.2 358.4,82.1" stroke="#ffcf00" stroke-width="1.81"/>
<polyline points="358.4,82.1 360.0,82.0 361.7,82.0 363.3,81.9" stroke="#ffeb00" stroke-width="1.57"/>
<polyline points="383.0,80.9 384.5,80.6 386.0,80.3 387.5,80.0" stroke="#ffeb00" stroke-width="1.57"/>
<polyline points="430.9,64.6 432.2,63.7" stroke="#ffeb00" stroke-width="1.57"/>
<polyline points="432.2,63.7 432.2,65.2" stroke="#ff9900" stroke-width="2.29"/>
<polyline points="432.2,196.8 432.2,198.3 432.2,199.8" stroke="#ff9900" stroke-width="2.29"/>
<polyline points="463.9,40.1 465.0,39.1" stroke="#ff9900" stroke-width="2.29"/>
<polyline points="465.0,40.6 465.0,42.1" stroke="#ff9900" stroke-width="2.29"/>
<polyline points="465.0,182.8 465.0,184.3" stroke="#ff9900" stroke-width="2.29"/>
<polyline points="465.0,184.3 465.0,185.9" stroke="#ffb400" stroke-width="2.05"/>
<polyline points="497.8,168.1 497.8,169.6" stroke="#ff9900" stroke-width="2.29"/>
<polyline points="497.8,169.6 497.8,171.1" stroke="#ffb400" stroke-width="2.05"/>
<polyline points="514.2,39.6 514.2,38.1" stroke="#ff9900" stroke-width="2.29"/>
<polyline points="514.2,38.1 514.2,36.6" stroke="#ff6300" stroke-width="2.76"/>
<polyline points="514.2,36.6 515.4,37.7 516.5,38.7 517.7,39.8 518.9,40.8 520.1,41.9 521.2,42.9 522.4,44.0 523.6,45.1" stroke="#ffb400" stroke-width="2.05"/>
<polyline points="523.6,45.1 524.7,46.1 525.9,47.2 527.1,48.2 528.3,49.3 529.4,50.3" stroke="#ffcf00" stroke-width="1.81"/>
<polyline points="530.6,114.8 530.6,116.3" stroke="#ff9900" stroke-width="2.29"/>
</g>
<path d="M317.4,138.3 L317.4,136.8 L317.4,135.2 L317.4,133.7 L317.4,132.2 L317.4,130.7 L317.4,129.1 L317.4,127.6 L317.4,126.1 L317.4,124.6 L317.4,123.0 L317.4,121.5 L317.4,120.0 L317.4,118.5 L317.4,116.9 L317.4,115.4 L317.4,113.9 L317.4,112.4 L317.4,110.8 L317.4,109.3 L317.4,107.8 L317.4,106.3 L317.4,104.7 L317.4,103.2 L317.4,101.7 L317.4,100.1 L317.4,98.6 L317.4,97.1 L317.4,95.6 L317.4,94.0 L317.4,92.5 L317.4,91.0 L317.4,89.5 L317.4,87.9 L317.4,86.4 L317.4,84.9 L317.4,83.4 L319.0,83.4 L320.7,83.4 L322.3,83.4 L324.0,83.4 L325.6,83.4 L327.2,83.4 L328.9,83.4 L330.5,83.4 L332.2,83.4 L333.8,83.4 L333.8,84.9 L333.8,86.4 L333.8,87.9 L333.8,89.4 L333.8,91.0 L333.8,92.5 L333.8,94.0 L333.8,95.5 L333.8,97.0 L333.8,98.6 L333.8,100.1 L333.8,101.6 L333.8,103.1 L333.8,104.6 L333.8,106.1 L333.8,107.7 L333.8,109.2 L333.8,110.7 L333.8,112.2 L333.8,113.7 L333.8,115.3 L333.8,116.8 L333.8,118.3 L333.8,119.8 L333.8,121.3 L333.8,122.9 L333.8,124.4 L333.8,125.9 L333.8,127.4 L333.8,128.9 L333.8,130.4 L333.8,132.0 L333.8,133.5 L333.8,135.0 L333.8,136.5 L333.8,138.0 L333.8,139.6 L333.8,141.1 L333.8,142.6 L333.8,144.1 L333.8,145.6 L333.8,147.2 L333.8,148.7 L333.8,150.2 L333.8,151.7 L333.8,153.2 L333.8,154.8 L333.8,156.3 L333.8,157.8 L333.8,159.3 L333.8,160.8 L333.8,162.3 L333.8,163.9 L333.8,165.4 L333.8,166.9 L333.8,168.4 L333.8,169.9 L333.8,171.5 L333.8,173.0 L333.8,174.5 L333.8,176.0 L335.1,176.8 L336.3,177.7 L337.6,178.5 L338.8,179.3 L340.1,180.1 L341.4,180.9 L342.6,181.8 L343.9,182.6 L345.2,183.4 L346.4,184.2 L347.7,185.0 L348.9,185.9 L350.2,186.7 L350.2,185.2 L350.2,183.7 L350.2,182.2 L350.2,180.6 L350.2,179.1 L350.2,177.6 L350.2,176.1 L350.2,174.6 L350.2,173.1 L350.2,171.6 L350.2,170.1 L350.2,168.6 L350.2,167.1 L350.2,165.6 L350.2,164.0 L350.2,162.5 L350.2,161.0 L350.2,159.5 L350.2,158.0 L350.2,156.5 L350.2,155.0 L350.2,153.5 L350.2,152.0 L350.2,150.5 L350.2,148.9 L350.2,147.4 L350.2,145.9 L350.2,144.4 L350.2,142.9 L350.2,141.4 L350.2,139.9 L350.2,138.4 L350.2,136.9 L350.2,135.4 L350.2,133.9 L350.2,132.3 L350.2,130.8 L350.2,129.3 L350.2,127.8 L350.2,126.3 L350.2,124.8 L350.2,123.3 L350.2,121.8 L350.2,120.3 L350.2,118.8 L350.2,117.3 L350.2,115.7 L350.2,114.2 L350.2,112.7 L350.2,111.2 L350.2,109.7 L350.2,108.2 L350.2,106.7 L350.2,105.2 L350.2,103.7 L350.2,102.2 L350.2,100.7 L350.2,99.1 L350.2,97.6 L350.2,96.1 L350.2,94.6 L350.2,93.1 L350.2,91.6 L350.2,90.1 L350.2,88.6 L350.2,87.1 L350.2,85.6 L350.2,84.0 L350.2,82.5 L351.8,82.5 L353.5,82.4 L355.1,82.3 L356.8,82.2 L358.4,82.1 L360.0,82.0 L361.7,82.0 L363.3,81.9 L365.0,81.8 L366.6,81.7 L366.6,83.2 L366.6,84.7 L366.6,86.2 L366.6,87.7 L366.6,89.2 L366.6,90.8 L366.6,92.3 L366.6,93.8 L366.6,95.3 L366.6,96.8 L366.6,98.3 L366.6,99.8 L366.6,101.3 L366.6,102.8 L366.6,104.3 L366.6,105.8 L366.6,107.3 L366.6,108.8 L366.6,110.3 L366.6,111.8 L366.6,113.3 L366.6,114.8 L366.6,116.3 L366.6,117.8 L366.6,119.4 L366.6,120.9 L366.6,122.4 L366.6,123.9 L366.6,125.4 L366.6,126.9 L366.6,128.4 L366.6,129.9 L366.6,131.4 L366.6,132.9 L366.6,134.4 L366.6,135.9 L366.6,137.4 L366.6,138.9 L366.6,140.4 L366.6,141.9 L366.6,143.4 L366.6,144.9 L366.6,146.4 L366.6,147.9 L366.6,149.5 L366.6,151.0 L366.6,152.5 L366.6,154.0 L366.6,155.5 L366.6,157.0 L366.6,158.5 L366.6,160.0 L366.6,161.5 L366.6,163.0 L366.6,164.5 L366.6,166.0 L366.6,167.5 L366.6,169.0 L366.6,170.5 L366.6,172.0 L366.6,173.5 L366.6,175.0 L366.6,176.5 L366.6,178.1 L366.6,179.6 L366.6,181.1 L366.6,182.6 L366.6,184.1 L366.6,185.6 L366.6,187.1 L366.6,188.6 L366.6,190.1 L366.6,191.6 L368.1,191.8 L369.6,192.0 L371.1,192.3 L372.6,192.5 L374.1,192.7 L375.5,192.9 L377.0,193.2 L378.5,193.4 L380.0,193.6 L381.5,193.8 L383.0,194.1 L383.0,192.6 L383.0,191.0 L383.0,189.5 L383.0,188.0 L383.0,186.5 L383.0,185.0 L383.0,183.5 L383.0,182.0 L383.0,180.5 L383.0,179.0 L383.0,177.5 L383.0,176.0 L383.0,174.4 L383.0,172.9 L383.0,171.4 L383.0,169.9 L383.0,168.4 L383.0,166.9 L383.0,165.4 L383.0,163.9 L383.0,162.4 L383.0,160.9 L383.0,159.4 L383.0,157.8 L383.0,156.3 L383.0,154.8 L383.0,153.3 L383.0,151.8 L383.0,150.3 L383.0,148.8 L383.0,147.3 L383.0,145.8 L383.0,144.3 L383.0,142.8 L383.0,141.3 L383.0,139.7 L383.0,138.2 L383.0,136.7 L383.0,135.2 L383.0,133.7 L383.0,132.2 L383.0,130.7 L383.0,129.2 L383.0,127.7 L383.0,126.2 L383.0,124.7 L383.0,123.1 L383.0,121.6 L383.0,120.1 L383.0,118.6 L383.0,117.1 L383.0,115.6 L383.0,114.1 L383.0,112.6 L383.0,111.1 L383.0,109.6 L383.0,108.1 L383.0,106.5 L383.0,105.0 L383.0,103.5 L383.0,102.0 L383.0,100.5 L383.0,99.0 L383.0,97.5 L383.0,96.0 L383.0,94.5 L383.0,93.0 L383.0,91.5 L383.0,90.0 L383.0,88.4 L383.0,86.9 L383.0,85.4 L383.0,83.9 L383.0,82.4 L383.0,80.9 L384.5,80.6 L386.0,80.3 L387.5,80.0 L389.0,79.7 L390.5,79.4 L391.9,79.1 L393.4,78.8 L394.9,78.5 L396.4,78.2 L397.9,77.9 L399.4,77.6 L399.4,79.1 L399.4,80.6 L399.4,82.2 L399.4,83.7 L399.4,85.2 L399.4,86.7 L399.4,88.2 L399.4,89.7 L399.4,91.2 L399.4,92.8 L399.4,94.3 L399.4,95.8 L399.4,97.3 L399.4,98.8 L399.4,100.3 L399.4,101.8 L399.4,103.4 L399.4,104.9 L399.4,106.4 L399.4,107.9 L399.4,109.4 L399.4,110.9 L399.4,112.4 L399.4,114.0 L399.4,115.5 L399.4,117.0 L399.4,118.5 L399.4,120.0 L399.4,121.5 L399.4,123.0 L399.4,124.5 L399.4,126.1 L399.4,127.6 L399.4,129.1 L399.4,130.6 L399.4,132.1 L399.4,133.6 L399.4,135.1 L399.4,136.7 L399.4,138.2 L399.4,139.7 L399.4,141.2 L399.4,142.7 L399.4,144.2 L399.4,145.7 L399.4,147.3 L399.4,148.8 L399.4,150.3 L399.4,151.8 L399.4,153.3 L399.4,154.8 L399.4,156.3 L399.4,157.9 L399.4,159.4 L399.4,160.9 L399.4,162.4 L399.4,163.9 L399.4,165.4 L399.4,166.9 L399.4,168.5 L399.4,170.0 L399.4,171.5 L399.4,173.0 L399.4,174.5 L399.4,176.0 L399.4,177.5 L399.4,179.0 L399.4,180.6 L399.4,182.1 L399.4,183.6 L399.4,185.1 L399.4,186.6 L399.4,188.1 L399.4,189.6 L399.4,191.2 L399.4,192.7 L399.4,194.2 L399.4,195.7 L400.9,196.0 L402.4,196.3 L403.9,196.6 L405.4,196.9 L406.9,197.2 L408.3,197.5 L409.8,197.8 L411.3,198.1 L412.8,198.4 L414.3,198.7 L415.8,199.0 L415.8,197.5 L415.8,196.0 L415.8,194.5 L415.8,193.0 L415.8,191.5 L415.8,190.0 L415.8,188.5 L415.8,187.0 L415.8,185.5 L415.8,184.0 L415.8,182.5 L415.8,181.0 L415.8,179.5 L415.8,178.0 L415.8,176.5 L415.8,175.0 L415.8,173.5 L415.8,172.0 L415.8,170.5 L415.8,169.0 L415.8,167.5 L415.8,166.0 L415.8,164.5 L415.8,163.0 L415.8,161.5 L415.8,160.0 L415.8,158.5 L415.8,157.0 L415.8,155.5 L415.8,154.0 L415.8,152.5 L415.8,151.0 L415.8,149.5 L415.8,148.0 L415.8,146.5 L415.8,145.0 L415.8,143.5 L415.8,142.0 L415.8,140.5 L415.8,139.0 L415.8,137.5 L415.8,136.0 L415.8,134.5 L415.8,133.0 L415.8,131.5 L415.8,130.0 L415.8,128.5 L415.8,127.0 L415.8,125.5 L415.8,124.0 L415.8,122.5 L415.8,121.0 L415.8,119.5 L415.8,118.0 L415.8,116.5 L415.8,115.0 L415.8,113.5 L415.8,112.0 L415.8,110.5 L415.8,109.0 L415.8,107.5 L415.8,106.0 L415.8,104.5 L415.8,103.0 L415.8,101.5 L415.8,100.0 L415.8,98.5 L415.8,97.0 L415.8,95.5 L415.8,94.0 L415.8,92.5 L415.8,91.0 L415.8,89.5 L415.8,88.0 L415.8,86.5 L415.8,85.0 L415.8,83.5 L415.8,82.0 L415.8,80.5 L415.8,79.0 L415.8,77.5 L415.8,76.0 L417.1,75.0 L418.3,74.1 L419.6,73.1 L420.8,72.2 L422.1,71.2 L423.4,70.3 L424.6,69.4 L425.9,68.4 L427.2,67.5 L428.4,66.5 L429.7,65.6 L430.9,64.6 L432.2,63.7 L432.2,65.2 L432.2,66.7 L432.2,68.2 L432.2,69.7 L432.2,71.2 L432.2,72.8 L432.2,74.3 L432.2,75.8 L432.2,77.3 L432.2,78.8 L432.2,80.3 L432.2,81.8 L432.2,83.3 L432.2,84.9 L432.2,86.4 L432.2,87.9 L432.2,89.4 L432.2,90.9 L432.2,92.4 L432.2,93.9 L432.2,95.4 L432.2,97.0 L432.2,98.5 L432.2,100.0 L432.2,101.5 L432.2,103.0 L432.2,104.5 L432.2,106.0 L432.2,107.5 L432.2,109.1 L432.2,110.6 L432.2,112.1 L432.2,113.6 L432.2,115.1 L432.2,116.6 L432.2,118.1 L432.2,119.6 L432.2,121.2 L432.2,122.7 L432.2,124.2 L432.2,125.7 L432.2,127.2 L432.2,128.7 L432.2,130.2 L432.2,131.7 L432.2,133.3 L432.2,134.8 L432.2,136.3 L432.2,137.8 L432.2,139.3 L432.2,140.8 L432.2,142.3 L432.2,143.8 L432.2,145.4 L432.2,146.9 L432.2,148.4 L432.2,149.9 L432.2,151.4 L432.2,152.9 L432.2,154.4 L432.2,155.9 L432.2,157.5 L432.2,159.0 L432.2,160.5 L432.2,162.0 L432.2,163.5 L432.2,165.0 L432.2,166.5 L432.2,168.0 L432.2,169.6 L432.2,171.1 L432.2,172.6 L432.2,174.1 L432.2,175.6 L432.2,177.1 L432.2,178.6 L432.2,180.1 L432.2,181.7 L432.2,183.2 L432.2,184.7 L432.2,186.2 L432.2,187.7 L432.2,189.2 L432.2,190.7 L432.2,192.2 L432.2,193.8 L432.2,195.3 L432.2,196.8 L432.2,198.3 L432.2,199.8 L433.7,199.1 L435.2,198.5 L436.7,197.8 L438.2,197.1 L439.7,196.4 L441.1,195.8 L442.6,195.1 L444.1,194.4 L445.6,193.8 L447.1,193.1 L448.6,192.4 L448.6,190.9 L448.6,189.4 L448.6,187.9 L448.6,186.4 L448.6,184.9 L448.6,183.3 L448.6,181.8 L448.6,180.3 L448.6,178.8 L448.6,177.3 L448.6,175.8 L448.6,174.3 L448.6,172.7 L448.6,171.2 L448.6,169.7 L448.6,168.2 L448.6,166.7 L448.6,165.2 L448.6,163.7 L448.6,162.1 L448.6,160.6 L448.6,159.1 L448.6,157.6 L448.6,156.1 L448.6,154.6 L448.6,153.1 L448.6,151.5 L448.6,150.0 L448.6,148.5 L448.6,147.0 L448.6,145.5 L448.6,144.0 L448.6,142.5 L448.6,140.9 L448.6,139.4 L448.6,137.9 L448.6,136.4 L448.6,134.9 L448.6,133.4 L448.6,131.9 L448.6,130.4 L448.6,128.8 L448.6,127.3 L448.6,125.8 L448.6,124.3 L448.6,122.8 L448.6,121.3 L448.6,119.8 L448.6,118.2 L448.6,116.7 L448.6,115.2 L448.6,113.7 L448.6,112.2 L448.6,110.7 L448.6,109.2 L448.6,107.6 L448.6,106.1 L448.6,104.6 L448.6,103.1 L448.6,101.6 L448.6,100.1 L448.6,98.6 L448.6,97.0 L448.6,95.5 L448.6,94.0 L448.6,92.5 L448.6,91.0 L448.6,89.5 L448.6,88.0 L448.6,86.5 L448.6,84.9 L448.6,83.4 L448.6,81.9 L448.6,80.4 L448.6,78.9 L448.6,77.4 L448.6,75.9 L448.6,74.3 L448.6,72.8 L448.6,71.3 L448.6,69.8 L448.6,68.3 L448.6,66.8 L448.6,65.3 L448.6,63.7 L448.6,62.2 L448.6,60.7 L448.6,59.2 L448.6,57.7 L448.6,56.2 L448.6,54.7 L449.7,53.6 L450.8,52.6 L451.9,51.5 L453.0,50.5 L454.1,49.5 L455.2,48.4 L456.3,47.4 L457.3,46.4 L458.4,45.3 L459.5,44.3 L460.6,43.2 L461.7,42.2 L462.8,41.2 L463.9,40.1 L465.0,39.1 L465.0,40.6 L465.0,42.1 L465.0,43.6 L465.0,45.1 L465.0,46.6 L465.0,48.2 L465.0,49.7 L465.0,51.2 L465.0,52.7 L465.0,54.2 L465.0,55.7 L465.0,57.2 L465.0,58.8 L465.0,60.3 L465.0,61.8 L465.0,63.3 L465.0,64.8 L465.0,66.3 L465.0,67.8 L465.0,69.3 L465.0,70.9 L465.0,72.4 L465.0,73.9 L465.0,75.4 L465.0,76.9 L465.0,78.4 L465.0,79.9 L465.0,81.4 L465.0,83.0 L465.0,84.5 L465.0,86.0 L465.0,87.5 L465.0,89.0 L465.0,90.5 L465.0,92.0 L465.0,93.6 L465.0,95.1 L465.0,96.6 L465.0,98.1 L465.0,99.6 L465.0,101.1 L465.0,102.6 L465.0,104.1 L465.0,105.7 L465.0,107.2 L465.0,108.7 L465.0,110.2 L465.0,111.7 L465.0,113.2 L465.0,114.7 L465.0,116.3 L465.0,117.8 L465.0,119.3 L465.0,120.8 L465.0,122.3 L465.0,123.8 L465.0,125.3 L465.0,126.8 L465.0,128.4 L465.0,129.9 L465.0,131.4 L465.0,132.9 L465.0,134.4 L465.0,135.9 L465.0,137.4 L465.0,139.0 L465.0,140.5 L465.0,142.0 L465.0,143.5 L465.0,145.0 L465.0,146.5 L465.0,148.0 L465.0,149.5 L465.0,151.1 L465.0,152.6 L465.0,154.1 L465.0,155.6 L465.0,157.1 L465.0,158.6 L465.0,160.1 L465.0,161.6 L465.0,163.2 L465.0,164.7 L465.0,166.2 L465.0,167.7 L465.0,169.2 L465.0,170.7 L465.0,172.2 L465.0,173.8 L465.0,175.3 L465.0,176.8 L465.0,178.3 L465.0,179.8 L465.0,181.3 L465.0,182.8 L465.0,184.3 L465.0,185.9 L466.5,185.2 L468.0,184.5 L469.5,183.8 L471.0,183.2 L472.5,182.5 L473.9,181.8 L475.4,181.2 L476.9,180.5 L478.4,179.8 L479.9,179.2 L481.4,178.5 L481.4,177.0 L481.4,175.5 L481.4,174.0 L481.4,172.5 L481.4,170.9 L481.4,169.4 L481.4,167.9 L481.4,166.4 L481.4,164.9 L481.4,163.4 L481.4,161.9 L481.4,160.4 L481.4,158.9 L481.4,157.4 L481.4,155.9 L481.4,154.4 L481.4,152.9 L481.4,151.3 L481.4,149.8 L481.4,148.3 L481.4,146.8 L481.4,145.3 L481.4,143.8 L481.4,142.3 L481.4,140.8 L481.4,139.3 L481.4,137.8 L481.4,136.3 L481.4,134.8 L481.4,133.3 L481.4,131.7 L481.4,130.2 L481.4,128.7 L481.4,127.2 L481.4,125.7 L481.4,124.2 L481.4,122.7 L481.4,121.2 L481.4,119.7 L481.4,118.2 L481.4,116.7 L481.4,115.2 L481.4,113.7 L481.4,112.2 L481.4,110.6 L481.4,109.1 L481.4,107.6 L481.4,106.1 L481.4,104.6 L481.4,103.1 L481.4,101.6 L481.4,100.1 L481.4,98.6 L481.4,97.1 L481.4,95.6 L481.4,94.1 L481.4,92.6 L481.4,91.0 L481.4,89.5 L481.4,88.0 L481.4,86.5 L481.4,85.0 L481.4,83.5 L481.4,82.0 L481.4,80.5 L481.4,79.0 L481.4,77.5 L481.4,76.0 L481.4,74.5 L481.4,73.0 L481.4,71.4 L481.4,69.9 L481.4,68.4 L481.4,66.9 L481.4,65.4 L481.4,63.9 L481.4,62.4 L481.4,60.9 L481.4,59.4 L481.4,57.9 L481.4,56.4 L481.4,54.9 L481.4,53.4 L481.4,51.9 L481.4,50.3 L481.4,48.8 L481.4,47.3 L481.4,45.8 L481.4,44.3 L481.4,42.8 L481.4,41.3 L481.4,39.8 L481.4,38.3 L481.4,36.8 L481.4,35.3 L481.4,33.8 L481.4,32.3 L481.4,30.7 L481.4,29.2 L483.0,29.2 L484.7,29.2 L486.3,29.2 L488.0,29.2 L489.6,29.2 L491.2,29.2 L492.9,29.2 L494.5,29.2 L496.2,29.2 L497.8,29.2 L497.8,30.7 L497.8,32.3 L497.8,33.8 L497.8,35.3 L497.8,36.8 L497.8,38.3 L497.8,39.8 L497.8,41.3 L497.8,42.8 L497.8,44.3 L497.8,45.8 L497.8,47.3 L497.8,48.9 L497.8,50.4 L497.8,51.9 L497.8,53.4 L497.8,54.9 L497.8,56.4 L497.8,57.9 L497.8,59.4 L497.8,60.9 L497.8,62.4 L497.8,64.0 L497.8,65.5 L497.8,67.0 L497.8,68.5 L497.8,70.0 L497.8,71.5 L497.8,73.0 L497.8,74.5 L497.8,76.0 L497.8,77.5 L497.8,79.0 L497.8,80.6 L497.8,82.1 L497.8,83.6 L497.8,85.1 L497.8,86.6 L497.8,88.1 L497.8,89.6 L497.8,91.1 L497.8,92.6 L497.8,94.1 L497.8,95.6 L497.8,97.2 L497.8,98.7 L497.8,100.2 L497.8,101.7 L497.8,103.2 L497.8,104.7 L497.8,106.2 L497.8,107.7 L497.8,109.2 L497.8,110.7 L497.8,112.2 L497.8,113.8 L497.8,115.3 L497.8,116.8 L497.8,118.3 L497.8,119.8 L497.8,121.3 L497.8,122.8 L497.8,124.3 L497.8,125.8 L497.8,127.3 L497.8,128.8 L497.8,130.4 L497.8,131.9 L497.8,133.4 L497.8,134.9 L497.8,136.4 L497.8,137.9 L497.8,139.4 L497.8,140.9 L497.8,142.4 L497.8,143.9 L497.8,145.4 L497.8,147.0 L497.8,148.5 L497.8,150.0 L497.8,151.5 L497.8,153.0 L497.8,154.5 L497.8,156.0 L497.8,157.5 L497.8,159.0 L497.8,160.5 L497.8,162.0 L497.8,163.6 L497.8,165.1 L497.8,166.6 L497.8,168.1 L497.8,169.6 L497.8,171.1 L499.2,170.4 L500.5,169.7 L501.9,169.1 L503.3,168.4 L504.6,167.7 L506.0,167.0 L507.4,166.3 L508.7,165.6 L510.1,165.0 L511.5,164.3 L512.8,163.6 L514.2,162.9 L514.2,161.4 L514.2,159.9 L514.2,158.4 L514.2,156.9 L514.2,155.4 L514.2,153.9 L514.2,152.4 L514.2,150.9 L514.2,149.4 L514.2,147.9 L514.2,146.4 L514.2,144.9 L514.2,143.4 L514.2,141.9 L514.2,140.4 L514.2,138.8 L514.2,137.3 L514.2,135.8 L514.2,134.3 L514.2,132.8 L514.2,131.3 L514.2,129.8 L514.2,128.3 L514.2,126.8 L514.2,125.3 L514.2,123.8 L514.2,122.3 L514.2,120.8 L514.2,119.3 L514.2,117.8 L514.2,116.3 L514.2,114.8 L514.2,113.3 L514.2,111.8 L514.2,110.3 L514.2,108.8 L514.2,107.3 L514.2,105.8 L514.2,104.3 L514.2,102.8 L514.2,101.3 L514.2,99.8 L514.2,98.3 L514.2,96.8 L514.2,95.3 L514.2,93.7 L514.2,92.2 L514.2,90.7 L514.2,89.2 L514.2,87.7 L514.2,86.2 L514.2,84.7 L514.2,83.2 L514.2,81.7 L514.2,80.2 L514.2,78.7 L514.2,77.2 L514.2,75.7 L514.2,74.2 L514.2,72.7 L514.2,71.2 L514.2,69.7 L514.2,68.2 L514.2,66.7 L514.2,65.2 L514.2,63.7 L514.2,62.2 L514.2,60.7 L514.2,59.2 L514.2,57.7 L514.2,56.2 L514.2,54.7 L514.2,53.2 L514.2,51.7 L514.2,50.2 L514.2,48.6 L514.2,47.1 L514.2,45.6 L514.2,44.1 L514.2,42.6 L514.2,41.1 L514.2,39.6 L514.2,38.1 L514.2,36.6 L515.4,37.7 L516.5,38.7 L517.7,39.8 L518.9,40.8 L520.1,41.9 L521.2,42.9 L522.4,44.0 L523.6,45.1 L524.7,46.1 L525.9,47.2 L527.1,48.2 L528.3,49.3 L529.4,50.3 L530.6,51.4 L530.6,52.9 L530.6,54.4 L530.6,55.9 L530.6,57.4 L530.6,58.9 L530.6,60.4 L530.6,61.9 L530.6,63.5 L530.6,65.0 L530.6,66.5 L530.6,68.0 L530.6,69.5 L530.6,71.0 L530.6,72.5 L530.6,74.0 L530.6,75.5 L530.6,77.0 L530.6,78.6 L530.6,80.1 L530.6,81.6 L530.6,83.1 L530.6,84.6 L530.6,86.1 L530.6,87.6 L530.6,89.1 L530.6,90.6 L530.6,92.1 L530.6,93.6 L530.6,95.2 L530.6,96.7 L530.6,98.2 L530.6,99.7 L530.6,101.2 L530.6,102.7 L530.6,104.2 L530.6,105.7 L530.6,107.2 L530.6,108.7 L530.6,110.3 L530.6,111.8 L530.6,113.3 L530.6,114.8 L530.6,116.3 L530.6,117.8" fill="none" stroke="#7a7a7a" stroke-width="0.85" stroke-dasharray="5.2 2.5"/>
<g fill="none" stroke-linecap="round" stroke-linejoin="round" filter="url(#bl)">
<polyline points="350.2,186.7 350.2,185.2" stroke="#f50000" stroke-width="4.03"/>
<polyline points="465.0,39.1 465.0,40.6" stroke="#f50000" stroke-width="4.03"/>
<polyline points="530.6,116.3 530.6,117.8" stroke="#f50000" stroke-width="4.03"/>
<circle cx="350.2" cy="186.7" r="1.53" fill="#e40000" stroke="none"/>
<circle cx="399.4" cy="195.7" r="1.52" fill="#f10000" stroke="none"/>
<circle cx="432.2" cy="63.7" r="1.40" fill="#ff8600" stroke="none"/>
<circle cx="432.2" cy="199.8" r="1.55" fill="#d70000" stroke="none"/>
<circle cx="465.0" cy="39.1" r="1.53" fill="#e40000" stroke="none"/>
<circle cx="465.0" cy="185.9" r="1.55" fill="#d70000" stroke="none"/>
<circle cx="497.8" cy="171.1" r="1.53" fill="#e40000" stroke="none"/>
<circle cx="514.2" cy="36.6" r="1.55" fill="#d70000" stroke="none"/>
<circle cx="530.6" cy="117.8" r="1.53" fill="#e40000" stroke="none"/>
</g>
<rect x="545.3" y="15.2" width="17.4" height="209.3" fill="url(#hot)" stroke="#9a9a9a" stroke-width="0.7"/>
<path d="M562.7,188.0 h-2 M562.7,152.0 h-2 M562.7,116.0 h-2 M562.7,80.0 h-2 M562.7,44.0 h-2 " stroke="#555" stroke-width="0.6" fill="none"/>
<path d="M35.6,273.8 V462.2 H270.9" fill="none" stroke="#b4b4b4" stroke-width="1.4"/>
<path d="M35.6,462.2 v-2.5 M82.7,462.2 v-2.5 M129.7,462.2 v-2.5 M176.8,462.2 v-2.5 M223.8,462.2 v-2.5 M270.9,462.2 v-2.5 M35.6,462.2 h2.5 M35.6,415.1 h2.5 M35.6,368.0 h2.5 M35.6,320.9 h2.5 " fill="none" stroke="#b4b4b4" stroke-width="1"/>
<g fill="none" stroke-linecap="round" stroke-linejoin="round" filter="url(#bl)">
<polyline points="37.1,360.7 37.6,359.1 38.0,357.5 38.5,355.9 39.0,354.3" stroke="#ffffd6" stroke-width="2.14"/>
<polyline points="39.0,354.3 39.5,352.7 40.1,351.0" stroke="#ffffad" stroke-width="2.17"/>
<polyline points="40.1,351.0 40.8,349.4 41.6,347.7 42.4,345.9 43.4,344.0 44.3,342.3" stroke="#ffff85" stroke-width="2.21"/>
<polyline points="44.3,342.3 45.3,340.7 46.2,339.2 47.1,338.0 48.0,337.0 48.8,336.1 49.7,335.3" stroke="#ffff5c" stroke-width="2.24"/>
<polyline points="49.7,335.3 50.6,334.6 51.6,333.8 52.6,333.1" stroke="#ffff33" stroke-width="2.28"/>
<polyline points="52.6,333.1 53.8,332.5 54.9,331.9 56.0,331.4" stroke="#ffff0a" stroke-width="2.32"/>
<polyline points="56.0,331.4 57.1,330.9 58.1,330.4 58.9,329.9 59.7,329.5 60.4,329.2 61.1,328.8 61.7,328.5 62.4,328.2 63.1,327.9 63.9,327.6 64.6,327.3 65.3,327.1 65.9,326.9 66.3,326.7 66.5,326.6 66.6,326.5 66.7,326.4 66.6,326.4 66.4,326.5 66.3,326.7 66.1,327.0 65.8,327.3 65.4,327.7 65.0,328.3 64.6,329.0 64.1,330.0 63.6,331.1 63.0,332.5 62.4,334.1" stroke="#ffff00" stroke-width="3.23"/>
<polyline points="62.4,334.1 61.7,335.9" stroke="#ffff0a" stroke-width="2.32"/>
<polyline points="61.7,335.9 61.0,337.7" stroke="#ffff5c" stroke-width="2.24"/>
<polyline points="61.0,337.7 60.2,339.7" stroke="#ffffd6" stroke-width="2.14"/>
<polyline points="58.5,344.0 57.6,346.4 56.6,348.9 55.7,351.3" stroke="#ffffd6" stroke-width="2.14"/>
<polyline points="55.7,351.3 54.8,353.7 54.0,356.0" stroke="#ffffad" stroke-width="2.17"/>
<polyline points="54.0,356.0 53.3,358.3" stroke="#ffff85" stroke-width="2.21"/>
<polyline points="53.3,358.3 52.5,360.7 51.8,363.0 51.1,365.3" stroke="#ffff5c" stroke-width="2.24"/>
<polyline points="51.1,365.3 50.5,367.7 50.0,370.2 49.5,372.7 49.0,375.2 48.6,377.8 48.2,380.3 47.9,382.9 47.7,385.4 47.5,388.0 47.3,390.6 47.2,393.2 47.2,395.6 47.3,398.0 47.4,400.2" stroke="#ffff33" stroke-width="2.28"/>
<polyline points="47.4,400.2 47.6,402.4 47.8,404.5 48.1,406.5" stroke="#ffff5c" stroke-width="2.24"/>
<polyline points="48.1,406.5 48.5,408.3" stroke="#ffff85" stroke-width="2.21"/>
<polyline points="48.5,408.3 49.0,409.9 49.6,411.2" stroke="#ffffad" stroke-width="2.17"/>
<polyline points="49.6,411.2 50.3,412.4" stroke="#ffff85" stroke-width="2.21"/>
<polyline points="50.3,412.4 51.1,413.3 52.0,414.1 52.9,414.8" stroke="#ffff5c" stroke-width="2.24"/>
<polyline points="52.9,414.8 53.8,415.2 54.6,415.5 55.6,415.6 56.5,415.5 57.5,415.3 58.3,415.0 59.2,414.6 59.9,414.2 60.6,413.7" stroke="#ffff33" stroke-width="2.28"/>
<polyline points="60.6,413.7 61.3,413.1 61.9,412.5 62.4,411.7 62.8,410.9 63.2,410.1" stroke="#ffff5c" stroke-width="2.24"/>
<polyline points="63.2,410.1 63.4,409.2 63.6,408.3 63.7,407.2 63.7,405.9" stroke="#ffff85" stroke-width="2.21"/>
<polyline points="63.7,405.9 63.7,404.5 63.6,402.7 63.4,400.7 63.1,398.5 62.8,396.2 62.6,393.9 62.4,391.5 62.2,389.1" stroke="#ffffad" stroke-width="2.17"/>
<polyline points="62.2,389.1 62.1,386.6 62.0,384.1 61.9,381.5 61.9,378.9" stroke="#ffff85" stroke-width="2.21"/>
<polyline points="61.9,378.9 62.0,376.4 62.1,373.9 62.2,371.3 62.4,368.8 62.7,366.3 63.0,363.8 63.5,361.3" stroke="#ffff5c" stroke-width="2.24"/>
<polyline points="63.5,361.3 64.0,358.7 64.6,356.2 65.3,353.6 66.1,351.1 66.9,348.6 67.8,346.1 68.7,343.7 69.7,341.3 70.8,339.0 71.9,336.7 73.0,334.4 74.3,332.1 75.6,329.8 77.0,327.5" stroke="#ffff33" stroke-width="2.28"/>
<polyline points="77.0,327.5 78.5,325.2 80.0,323.0 81.5,321.0 82.9,319.2 84.3,317.5" stroke="#ffff5c" stroke-width="2.24"/>
<polyline points="84.3,317.5 85.6,316.0 87.0,314.6" stroke="#ffff33" stroke-width="2.28"/>
<polyline points="87.0,314.6 88.3,313.4 89.4,312.4" stroke="#ffff0a" stroke-width="2.32"/>
<polyline points="89.4,312.4 90.5,311.6 91.3,311.0 92.1,310.6 92.7,310.4 93.2,310.3 93.8,310.4 94.4,310.5 95.0,310.7 95.6,311.0 96.2,311.4 96.7,311.9 97.2,312.6" stroke="#ffff00" stroke-width="3.23"/>
<polyline points="97.2,312.6 97.6,313.3 97.9,314.2 98.1,315.1 98.2,316.1 98.3,317.3" stroke="#ffff0a" stroke-width="2.32"/>
<polyline points="98.3,317.3 98.2,318.7 98.0,320.2 97.7,322.0 97.3,324.0 96.8,326.2 96.2,328.5 95.6,330.8 94.8,333.2 93.9,335.6 92.8,338.1 91.7,340.6 90.5,343.2 89.4,345.8 88.3,348.3" stroke="#ffff33" stroke-width="2.28"/>
<polyline points="88.3,348.3 87.3,350.8 86.3,353.3 85.4,355.7 84.5,358.2 83.6,360.8 82.9,363.4 82.3,366.2 81.7,368.9 81.2,371.8 80.9,374.7 80.5,377.7 80.3,380.7 80.2,383.8 80.2,387.1" stroke="#ffff0a" stroke-width="2.32"/>
<polyline points="80.2,387.1 80.2,390.5 80.4,393.8" stroke="#ffff33" stroke-width="2.28"/>
<polyline points="80.4,393.8 80.5,397.1 80.7,400.1 81.0,403.1" stroke="#ffff5c" stroke-width="2.24"/>
<polyline points="81.0,403.1 81.3,406.1" stroke="#ffff85" stroke-width="2.21"/>
<polyline points="81.3,406.1 81.6,409.0 82.0,411.7" stroke="#ffffad" stroke-width="2.17"/>
<polyline points="82.0,411.7 82.4,414.2 82.9,416.3 83.4,418.1 84.0,419.6 84.7,420.9" stroke="#ffffd6" stroke-width="2.14"/>
<polyline points="84.7,420.9 85.3,421.9 86.0,422.8" stroke="#ffffad" stroke-width="2.17"/>
<polyline points="86.0,422.8 86.6,423.5 87.2,424.0 87.7,424.3 88.2,424.4 88.8,424.3 89.4,424.2 90.0,423.9 90.8,423.5" stroke="#ffff85" stroke-width="2.21"/>
<polyline points="90.8,423.5 91.6,423.0 92.4,422.4" stroke="#ffffad" stroke-width="2.17"/>
<polyline points="92.4,422.4 93.3,421.6 94.1,420.7 94.8,419.6 95.4,418.3 96.0,416.9" stroke="#ffffd6" stroke-width="2.14"/>
<polyline points="98.0,405.5 98.1,403.2 98.2,400.7 98.1,398.3" stroke="#ffffd6" stroke-width="2.14"/>
<polyline points="98.1,398.3 98.0,395.8 97.8,393.4" stroke="#ffffad" stroke-width="2.17"/>
<polyline points="97.8,393.4 97.5,390.9 97.1,388.3 96.6,385.8 96.2,383.2" stroke="#ffff85" stroke-width="2.21"/>
<polyline points="96.2,383.2 95.9,380.7 95.6,378.2 95.2,375.6 94.9,373.0 94.7,370.5 94.5,368.0 94.4,365.6 94.3,363.3" stroke="#ffff5c" stroke-width="2.24"/>
<polyline points="94.3,363.3 94.2,361.0" stroke="#ffff85" stroke-width="2.21"/>
<polyline points="94.2,361.0 94.2,358.8 94.3,356.7" stroke="#ffffad" stroke-width="2.17"/>
<polyline points="94.3,356.7 94.5,354.6 94.8,352.6 95.2,350.7 95.8,348.7 96.4,346.8 97.1,345.1" stroke="#ffffd6" stroke-width="2.14"/>
<polyline points="97.1,345.1 97.9,343.4 98.7,341.8 99.5,340.4" stroke="#ffffad" stroke-width="2.17"/>
<polyline points="99.5,340.4 100.5,339.1" stroke="#ffff85" stroke-width="2.21"/>
<polyline points="100.5,339.1 101.5,337.9 102.5,336.8 103.5,335.8" stroke="#ffff5c" stroke-width="2.24"/>
<polyline points="103.5,335.8 104.5,334.9" stroke="#ffff33" stroke-width="2.28"/>
<polyline points="104.5,334.9 105.5,334.2" stroke="#ffff0a" stroke-width="2.32"/>
<polyline points="105.5,334.2 106.5,333.5 107.6,333.0 108.6,332.6 109.5,332.3 110.3,332.1 111.1,332.1 111.8,332.2 112.4,332.5 113.0,332.8 113.4,333.0 113.8,333.2 114.0,333.2 114.1,333.1 114.0,333.0 114.0,332.9 113.9,333.0 113.8,333.2 113.8,333.6 113.8,334.2 113.7,334.9 113.7,335.7 113.5,336.6 113.1,337.5 112.6,338.5" stroke="#ffff00" stroke-width="3.23"/>
<polyline points="112.6,338.5 111.9,339.6" stroke="#ffff0a" stroke-width="2.32"/>
<polyline points="111.9,339.6 111.1,340.8" stroke="#ffff33" stroke-width="2.28"/>
<polyline points="111.1,340.8 110.3,342.1" stroke="#ffff5c" stroke-width="2.24"/>
<polyline points="110.3,342.1 109.5,343.5" stroke="#ffff85" stroke-width="2.21"/>
<polyline points="109.5,343.5 108.8,345.1 108.2,346.8 107.6,348.7" stroke="#ffffd6" stroke-width="2.14"/>
<polyline points="107.6,348.7 107.0,350.7 106.5,352.7" stroke="#ffffad" stroke-width="2.17"/>
<polyline points="106.5,352.7 106.0,354.9" stroke="#ffff85" stroke-width="2.21"/>
<polyline points="106.0,354.9 105.6,356.9 105.2,359.1 105.0,361.3 104.7,363.6 104.6,365.8 104.5,367.9 104.5,369.9 104.6,371.8 104.7,373.6 105.0,375.3 105.3,376.9 105.6,378.3 106.0,379.6 106.5,380.8 107.0,381.8 107.6,382.7 108.2,383.5" stroke="#ffff5c" stroke-width="2.24"/>
<polyline points="108.2,383.5 108.9,384.0 109.5,384.4 110.1,384.5 110.7,384.4" stroke="#ffff33" stroke-width="2.28"/>
<polyline points="110.7,384.4 111.3,384.1 112.0,383.7 112.6,383.1 113.1,382.4 113.7,381.6" stroke="#ffff5c" stroke-width="2.24"/>
<polyline points="113.7,381.6 114.2,380.6 114.7,379.5 115.2,378.2 115.6,376.8" stroke="#ffff85" stroke-width="2.21"/>
<polyline points="115.6,376.8 115.9,375.3 116.2,373.6 116.4,371.7 116.5,369.6 116.6,367.5 116.7,365.4 116.8,363.4 116.9,361.6 116.8,359.7 116.8,358.0 116.8,356.2 116.9,354.4 117.0,352.6 117.3,350.8" stroke="#ffffad" stroke-width="2.17"/>
<polyline points="117.3,350.8 117.7,348.9 118.1,347.1 118.6,345.3 119.1,343.5" stroke="#ffff85" stroke-width="2.21"/>
<polyline points="119.1,343.5 119.6,341.8 120.2,340.2 120.7,338.6 121.3,337.1 121.9,335.7" stroke="#ffff5c" stroke-width="2.24"/>
<polyline points="121.9,335.7 122.6,334.4 123.3,333.2 124.0,332.2" stroke="#ffff33" stroke-width="2.28"/>
<polyline points="124.0,332.2 124.8,331.3 125.7,330.5 126.6,329.9" stroke="#ffff0a" stroke-width="2.32"/>
<polyline points="126.6,329.9 127.4,329.3 128.3,328.9 129.1,328.5 130.0,328.3 130.9,328.2 131.7,328.2 132.5,328.3 133.2,328.4 133.8,328.7 134.4,329.0 134.8,329.5 135.2,329.9 135.6,330.3 135.8,330.6 136.0,330.7 136.1,330.5 136.1,330.4 136.1,330.2 136.0,330.3 135.8,330.6 135.6,331.2 135.2,332.0 134.8,332.9 134.4,334.0 133.8,335.2" stroke="#ffff00" stroke-width="3.23"/>
<polyline points="133.8,335.2 133.2,336.4" stroke="#ffff0a" stroke-width="2.32"/>
<polyline points="133.2,336.4 132.5,337.8 131.7,339.3" stroke="#ffff33" stroke-width="2.28"/>
<polyline points="131.7,339.3 130.8,340.8 129.8,342.5 129.0,344.3 128.3,346.1 127.6,348.1 127.0,350.2 126.5,352.4 126.1,354.7 125.7,356.9 125.4,359.1 125.3,361.3" stroke="#ffff5c" stroke-width="2.24"/>
<polyline points="125.3,361.3 125.2,363.6 125.2,365.9 125.3,368.1 125.5,370.2" stroke="#ffff85" stroke-width="2.21"/>
<polyline points="125.5,370.2 125.7,372.1 125.9,373.7 126.3,375.1 126.7,376.4 127.1,377.6 127.7,378.6 128.3,379.6" stroke="#ffffad" stroke-width="2.17"/>
<polyline points="128.3,379.6 129.0,380.5 129.8,381.3" stroke="#ffff85" stroke-width="2.21"/>
<polyline points="129.8,381.3 130.6,382.0" stroke="#ffff5c" stroke-width="2.24"/>
<polyline points="130.6,382.0 131.5,382.6 132.4,383.0" stroke="#ffff33" stroke-width="2.28"/>
<polyline points="132.4,383.0 133.2,383.3 134.0,383.4 134.8,383.4 135.5,383.2 136.2,382.9 136.8,382.4 137.3,381.8 137.7,380.9 138.0,379.9 138.2,378.7 138.3,377.4" stroke="#ffff0a" stroke-width="2.32"/>
<polyline points="138.3,377.4 138.4,375.9 138.4,374.2 138.3,372.3 138.0,370.2" stroke="#ffff33" stroke-width="2.28"/>
<polyline points="138.0,370.2 137.7,367.9 137.3,365.6 137.1,363.4 136.9,361.3 136.8,359.4" stroke="#ffff5c" stroke-width="2.24"/>
<polyline points="136.8,359.4 136.8,357.6" stroke="#ffff85" stroke-width="2.21"/>
<polyline points="136.8,357.6 136.9,355.9 137.0,354.1" stroke="#ffffad" stroke-width="2.17"/>
<polyline points="137.0,354.1 137.2,352.4 137.5,350.5 138.0,348.4 138.5,346.1 139.1,343.9 139.7,341.6" stroke="#ffffd6" stroke-width="2.14"/>
<polyline points="139.7,341.6 140.5,339.4 141.2,337.5 142.0,335.8" stroke="#ffffad" stroke-width="2.17"/>
<polyline points="142.0,335.8 143.0,334.1 143.9,332.6 144.9,331.2 145.8,329.9" stroke="#ffff85" stroke-width="2.21"/>
<polyline points="145.8,329.9 146.6,328.9 147.3,328.0 147.8,327.4 148.2,326.9 148.7,326.5" stroke="#ffff5c" stroke-width="2.24"/>
<polyline points="148.7,326.5 149.3,326.1 150.0,325.6 150.9,325.1 152.0,324.6" stroke="#ffff33" stroke-width="2.28"/>
<polyline points="152.0,324.6 153.2,324.1 154.4,323.7 155.5,323.3 156.5,323.0 157.3,322.9" stroke="#ffff0a" stroke-width="2.32"/>
<polyline points="157.3,322.9 158.1,322.8 158.8,322.8 159.5,322.8 160.2,322.9 160.8,323.0 161.4,323.2 162.1,323.5 162.7,323.8 163.2,324.1 163.7,324.4 164.0,324.6 164.2,324.6 164.4,324.5 164.4,324.4 164.3,324.3 164.2,324.3 164.0,324.6 163.8,325.0 163.5,325.6 163.2,326.4" stroke="#ffff00" stroke-width="3.23"/>
<polyline points="163.2,326.4 162.8,327.2" stroke="#ffff0a" stroke-width="2.32"/>
<polyline points="162.8,327.2 162.3,328.0" stroke="#ffff33" stroke-width="2.28"/>
<polyline points="162.3,328.0 161.9,328.9" stroke="#ffff85" stroke-width="2.21"/>
<polyline points="161.9,328.9 161.4,329.6" stroke="#ffffad" stroke-width="2.17"/>
<polyline points="161.4,329.6 160.9,330.3 160.4,331.0 159.8,331.9" stroke="#ffffd6" stroke-width="2.14"/>
<polyline points="158.0,336.0 157.2,337.9 156.4,340.1" stroke="#ffffd6" stroke-width="2.14"/>
<polyline points="156.4,340.1 155.6,342.4" stroke="#ffffad" stroke-width="2.17"/>
<polyline points="155.6,342.4 154.9,344.8 154.3,347.2" stroke="#ffff85" stroke-width="2.21"/>
<polyline points="154.3,347.2 153.8,349.7 153.3,352.3 152.9,355.1 152.5,357.8" stroke="#ffff5c" stroke-width="2.24"/>
<polyline points="152.5,357.8 152.3,360.6 152.2,363.4 152.2,366.2" stroke="#ffff33" stroke-width="2.28"/>
<polyline points="152.2,366.2 152.3,369.1 152.6,372.0 152.9,374.9" stroke="#ffff5c" stroke-width="2.24"/>
<polyline points="152.9,374.9 153.4,377.8" stroke="#ffff85" stroke-width="2.21"/>
<polyline points="153.4,377.8 153.9,380.7 154.5,383.7" stroke="#ffffad" stroke-width="2.17"/>
<polyline points="154.5,383.7 155.2,386.7 156.0,389.7 156.8,392.7" stroke="#ffffd6" stroke-width="2.14"/>
<polyline points="159.6,400.2 160.6,402.3" stroke="#ffffd6" stroke-width="2.14"/>
<polyline points="160.6,402.3 161.7,404.2" stroke="#ffffad" stroke-width="2.17"/>
<polyline points="161.7,404.2 162.7,406.0" stroke="#ffff85" stroke-width="2.21"/>
<polyline points="162.7,406.0 163.7,407.5" stroke="#ffff5c" stroke-width="2.24"/>
<polyline points="163.7,407.5 164.7,408.8" stroke="#ffff33" stroke-width="2.28"/>
<polyline points="164.7,408.8 165.6,409.8 166.5,410.7" stroke="#ffff0a" stroke-width="2.32"/>
<polyline points="166.5,410.7 167.3,411.3 168.1,411.8 168.8,412.0 169.4,412.0 170.0,411.8 170.5,411.5 170.9,410.9 171.2,410.1 171.4,409.1 171.6,407.7 171.7,406.0 171.7,403.9 171.6,401.5 171.4,398.9" stroke="#ffff00" stroke-width="3.23"/>
<polyline points="171.4,398.9 171.2,396.3 170.9,393.7 170.6,390.9 170.2,388.0 169.7,385.0 169.3,382.0 168.8,379.1 168.4,376.4 167.9,373.8 167.5,371.3 167.1,369.0 166.7,366.7 166.4,364.5 166.2,362.3 166.1,360.4 166.1,358.5 166.1,356.8 166.2,355.1" stroke="#ffff0a" stroke-width="2.32"/>
<polyline points="166.2,355.1 166.4,353.4 166.6,351.5 166.9,349.6 167.3,347.6" stroke="#ffff33" stroke-width="2.28"/>
<polyline points="167.3,347.6 167.8,345.6 168.3,343.6 168.9,341.6 169.4,339.7 170.1,337.7 170.8,335.8 171.5,333.8 172.3,332.0 173.0,330.3 173.8,328.9 174.4,327.7 175.1,326.6 175.8,325.8 176.5,325.1" stroke="#ffff5c" stroke-width="2.24"/>
<polyline points="176.5,325.1 177.2,324.4 178.1,323.9 179.0,323.5" stroke="#ffff33" stroke-width="2.28"/>
<polyline points="179.0,323.5 180.1,323.1 181.2,322.9 182.4,322.8" stroke="#ffff0a" stroke-width="2.32"/>
<polyline points="182.4,322.8 183.5,322.7 184.6,322.8 185.6,323.1 186.6,323.6 187.7,324.2 188.6,324.8 189.4,325.3 190.0,325.6 190.3,325.7 190.5,325.6 190.5,325.5 190.4,325.3 190.2,325.4 190.0,325.6 189.7,326.2 189.3,326.9 188.8,327.8" stroke="#ffff00" stroke-width="3.23"/>
<polyline points="188.8,327.8 188.3,328.8" stroke="#ffff0a" stroke-width="2.32"/>
<polyline points="188.3,328.8 187.7,329.9" stroke="#ffff33" stroke-width="2.28"/>
<polyline points="187.7,329.9 187.1,331.0" stroke="#ffff85" stroke-width="2.21"/>
<polyline points="187.1,331.0 186.5,332.2 185.7,333.5" stroke="#ffffad" stroke-width="2.17"/>
<polyline points="185.7,333.5 184.9,334.9 184.1,336.3 183.4,337.9 182.8,339.7 182.3,341.5 181.9,343.5 181.5,345.6 181.2,347.8 181.0,350.2 180.9,352.6 180.9,355.3 181.1,358.1 181.4,361.1 181.7,364.1" stroke="#ffffd6" stroke-width="2.14"/>
<polyline points="183.0,375.2 183.4,377.8 183.7,380.3 184.1,382.7" stroke="#ffffd6" stroke-width="2.14"/>
<polyline points="184.1,382.7 184.6,385.0" stroke="#ffffad" stroke-width="2.17"/>
<polyline points="184.6,385.0 185.0,387.3 185.5,389.6" stroke="#ffff85" stroke-width="2.21"/>
<polyline points="185.5,389.6 186.0,391.7" stroke="#ffff5c" stroke-width="2.24"/>
<polyline points="186.0,391.7 186.5,393.7 187.1,395.5" stroke="#ffff33" stroke-width="2.28"/>
<polyline points="187.1,395.5 187.8,396.9 188.6,397.9 189.4,398.7 190.3,399.1 191.3,399.4" stroke="#ffff0a" stroke-width="2.32"/>
<polyline points="191.3,399.4 192.2,399.5 193.2,399.5 194.2,399.4 195.3,399.1" stroke="#ffff33" stroke-width="2.28"/>
<polyline points="195.3,399.1 196.4,398.6 197.5,398.0 198.4,397.2 199.2,396.2 199.9,395.1 200.5,393.8 201.0,392.3 201.4,390.7" stroke="#ffff5c" stroke-width="2.24"/>
<polyline points="201.4,390.7 201.7,389.0 201.8,387.2 201.8,385.3 201.6,383.2" stroke="#ffff33" stroke-width="2.28"/>
<polyline points="201.6,383.2 201.4,381.1 201.0,378.8 200.6,376.5 200.1,374.2 199.6,371.8 199.0,369.3 198.3,366.8 197.6,364.2" stroke="#ffff0a" stroke-width="2.32"/>
<polyline points="197.6,364.2 197.0,361.6 196.4,359.1 195.9,356.5 195.4,353.9" stroke="#ffff33" stroke-width="2.28"/>
<polyline points="195.4,353.9 195.0,351.3 194.6,348.7 194.4,346.3 194.3,344.0 194.3,341.9 194.5,339.8 194.9,337.9 195.3,336.2" stroke="#ffff5c" stroke-width="2.24"/>
<polyline points="195.3,336.2 195.8,334.6 196.4,333.2 197.1,332.0" stroke="#ffff33" stroke-width="2.28"/>
<polyline points="197.1,332.0 198.0,331.0 198.9,330.2 199.9,329.5" stroke="#ffff0a" stroke-width="2.32"/>
<polyline points="199.9,329.5 200.9,328.9 201.8,328.4 202.8,328.1 203.7,327.9 204.7,327.9 205.6,327.9 206.5,328.0 207.2,328.2 207.9,328.5 208.6,329.0 209.2,329.6 209.7,330.2 210.1,330.7 210.5,331.0 210.7,331.1 210.8,331.0 210.8,330.9 210.8,330.7 210.7,330.7 210.5,331.0 210.2,331.6" stroke="#ffff00" stroke-width="3.23"/>
<polyline points="210.2,331.6 209.8,332.3" stroke="#ffff0a" stroke-width="2.32"/>
<polyline points="209.8,332.3 209.3,333.1" stroke="#ffff33" stroke-width="2.28"/>
<polyline points="209.3,333.1 208.8,334.1" stroke="#ffff5c" stroke-width="2.24"/>
<polyline points="208.8,334.1 208.3,335.2" stroke="#ffff85" stroke-width="2.21"/>
<polyline points="208.3,335.2 207.9,336.4 207.4,337.8 206.9,339.2" stroke="#ffffd6" stroke-width="2.14"/>
<polyline points="211.7,367.8 212.7,370.0 213.7,372.1 214.7,374.2" stroke="#ffffd6" stroke-width="2.14"/>
<polyline points="214.7,374.2 215.8,376.4" stroke="#ffffad" stroke-width="2.17"/>
<polyline points="215.8,376.4 216.9,378.5 218.1,380.5" stroke="#ffff85" stroke-width="2.21"/>
<polyline points="218.1,380.5 219.2,382.4" stroke="#ffff5c" stroke-width="2.24"/>
<polyline points="219.2,382.4 220.2,383.9 221.2,385.2" stroke="#ffff33" stroke-width="2.28"/>
<polyline points="221.2,385.2 222.1,386.3 223.1,387.2" stroke="#ffff0a" stroke-width="2.32"/>
<polyline points="223.1,387.2 224.0,387.9 224.8,388.4 225.6,388.7 226.3,388.8 226.9,388.6 227.5,388.3 228.0,387.8 228.5,387.0" stroke="#ffff00" stroke-width="3.23"/>
<polyline points="228.5,387.0 228.8,386.1 229.1,384.9 229.4,383.5 229.6,381.9 229.7,380.1" stroke="#ffff0a" stroke-width="2.32"/>
<polyline points="229.7,380.1 229.7,378.3 229.5,376.4 229.1,374.4 228.5,372.3 227.8,370.1 227.1,367.9 226.3,365.6 225.6,363.4 224.8,361.3 224.1,359.1 223.2,356.9 222.5,354.8 221.8,352.6 221.3,350.5 220.8,348.3 220.5,346.0" stroke="#ffff33" stroke-width="2.28"/>
<polyline points="220.5,346.0 220.3,343.7 220.1,341.5 220.1,339.4 220.2,337.5 220.4,335.8 220.8,334.3" stroke="#ffff5c" stroke-width="2.24"/>
<polyline points="220.8,334.3 221.3,332.9 221.9,331.6" stroke="#ffff33" stroke-width="2.28"/>
<polyline points="221.9,331.6 222.6,330.4 223.4,329.3 224.3,328.3" stroke="#ffff0a" stroke-width="2.32"/>
<polyline points="224.3,328.3 225.4,327.5 226.5,326.7 227.7,326.1 228.8,325.6 229.9,325.2 230.9,325.0 231.9,324.9 232.9,325.0 233.8,325.1 234.6,325.4 235.3,325.6 235.9,326.0 236.3,326.5 236.7,327.1 237.0,327.6 237.3,328.1 237.5,328.4 237.6,328.5 237.7,328.4 237.8,328.1 237.7,328.0 237.6,328.0 237.5,328.4 237.1,329.3 236.7,330.4 236.1,331.8" stroke="#ffff00" stroke-width="3.23"/>
<polyline points="236.1,331.8 235.6,333.3" stroke="#ffff33" stroke-width="2.28"/>
<polyline points="235.6,333.3 235.1,334.9" stroke="#ffff5c" stroke-width="2.24"/>
<polyline points="235.1,334.9 234.7,336.4 234.3,338.0 233.9,339.6" stroke="#ffffd6" stroke-width="2.14"/>
<polyline points="233.8,349.1 234.3,350.5 235.0,351.9 235.7,353.3" stroke="#ffffd6" stroke-width="2.14"/>
<polyline points="235.7,353.3 236.4,354.8" stroke="#ffffad" stroke-width="2.17"/>
<polyline points="236.4,354.8 237.2,356.4" stroke="#ffff85" stroke-width="2.21"/>
<polyline points="237.2,356.4 238.1,358.1" stroke="#ffff5c" stroke-width="2.24"/>
<polyline points="238.1,358.1 239.1,359.9 240.1,361.6" stroke="#ffff33" stroke-width="2.28"/>
<polyline points="240.1,361.6 241.0,363.1" stroke="#ffff0a" stroke-width="2.32"/>
<polyline points="241.0,363.1 241.8,364.5 242.4,365.7 243.0,366.8 243.5,367.7 243.9,368.5 244.4,369.1 245.0,369.5 245.7,369.6 246.4,369.6 247.1,369.3" stroke="#ffff00" stroke-width="3.23"/>
<polyline points="247.1,369.3 247.9,368.9 248.6,368.4" stroke="#ffff0a" stroke-width="2.32"/>
<polyline points="248.6,368.4 249.3,367.7 250.1,367.0 250.9,366.0 251.7,364.9 252.4,363.8 253.1,362.5 253.7,361.3 254.1,360.0 254.5,358.6 254.9,357.2 255.1,355.7 255.2,354.2 255.2,352.6 254.9,351.0 254.4,349.3" stroke="#ffff33" stroke-width="2.28"/>
<polyline points="254.4,349.3 253.8,347.5 253.2,345.7 252.5,343.8 251.9,341.8 251.4,339.8" stroke="#ffff5c" stroke-width="2.24"/>
<polyline points="251.4,339.8 250.8,337.7" stroke="#ffff85" stroke-width="2.21"/>
<polyline points="250.8,337.7 250.2,335.5 249.6,333.3" stroke="#ffffad" stroke-width="2.17"/>
<polyline points="249.6,333.3 249.1,331.1 248.7,328.9 248.3,326.7 247.9,324.4 247.6,322.2 247.4,320.0 247.2,317.9 247.2,315.9 247.2,314.0" stroke="#ffffd6" stroke-width="2.14"/>
<polyline points="247.2,314.0 247.3,312.2" stroke="#ffffad" stroke-width="2.17"/>
<polyline points="247.3,312.2 247.5,310.5" stroke="#ffff85" stroke-width="2.21"/>
<polyline points="247.5,310.5 247.8,308.9" stroke="#ffff5c" stroke-width="2.24"/>
<polyline points="247.8,308.9 248.2,307.5" stroke="#ffff33" stroke-width="2.28"/>
<polyline points="248.2,307.5 248.7,306.2 249.3,305.1 250.0,304.3 250.7,303.6 251.6,303.0 252.6,302.4 253.7,301.9 254.9,301.4 256.4,300.9 257.9,300.5 259.5,300.2 261.0,299.9 262.3,299.7" stroke="#ffff0a" stroke-width="2.32"/>
<polyline points="262.3,299.7 263.5,299.5 264.6,299.4 265.6,299.3 266.6,299.3 267.5,299.4 268.3,299.5 269.1,299.8 269.9,300.2 270.6,300.7 271.1,301.2 271.6,301.6 272.0,301.9 272.3,302.0 272.4,301.9 272.4,301.8 272.4,301.6 272.2,301.7 272.0,301.9 271.7,302.3 271.2,302.9 270.6,303.6 269.9,304.4 269.3,305.2 268.8,306.2 268.3,307.3 267.7,308.4 267.2,309.7 266.7,311.0" stroke="#ffff00" stroke-width="3.23"/>
<polyline points="266.7,311.0 266.3,312.4 266.0,313.8 265.7,315.2 265.4,316.6 265.3,318.1 265.1,319.6 265.1,321.1 265.1,322.4 265.2,323.6 265.4,324.8 265.7,326.0 266.0,327.0" stroke="#ffff0a" stroke-width="2.32"/>
<polyline points="266.0,327.0 266.3,328.0 266.6,328.9 266.8,329.6" stroke="#ffff33" stroke-width="2.28"/>
<polyline points="266.8,329.6 267.1,330.3 267.3,330.8 267.5,331.3" stroke="#ffff5c" stroke-width="2.24"/>
<polyline points="267.5,331.3 267.7,331.8" stroke="#ffff85" stroke-width="2.21"/>
<polyline points="267.7,331.8 267.9,332.3" stroke="#ffffad" stroke-width="2.17"/>
<polyline points="56.0,331.4 57.1,330.9 58.1,330.4" stroke="#ffeb00" stroke-width="2.03"/>
<polyline points="58.1,330.4 58.9,329.9" stroke="#ffcf00" stroke-width="2.11"/>
<polyline points="58.9,329.9 59.7,329.5" stroke="#ffb400" stroke-width="2.18"/>
<polyline points="59.7,329.5 60.4,329.2" stroke="#ff7e00" stroke-width="2.34"/>
<polyline points="60.4,329.2 61.1,328.8" stroke="#ff6300" stroke-width="2.41"/>
<polyline points="64.1,330.0 63.6,331.1" stroke="#ff6300" stroke-width="2.41"/>
<polyline points="63.6,331.1 63.0,332.5" stroke="#ff9900" stroke-width="2.26"/>
<polyline points="63.0,332.5 62.4,334.1" stroke="#ffcf00" stroke-width="2.11"/>
<polyline points="89.4,312.4 90.5,311.6" stroke="#ffeb00" stroke-width="2.03"/>
<polyline points="90.5,311.6 91.3,311.0 92.1,310.6" stroke="#ffcf00" stroke-width="2.11"/>
<polyline points="92.1,310.6 92.7,310.4" stroke="#ffb400" stroke-width="2.18"/>
<polyline points="92.7,310.4 93.2,310.3 93.8,310.4" stroke="#ff9900" stroke-width="2.26"/>
<polyline points="93.8,310.4 94.4,310.5 95.0,310.7" stroke="#ff7e00" stroke-width="2.34"/>
<polyline points="95.0,310.7 95.6,311.0" stroke="#ff9900" stroke-width="2.26"/>
<polyline points="95.6,311.0 96.2,311.4" stroke="#ffb400" stroke-width="2.18"/>
<polyline points="96.2,311.4 96.7,311.9 97.2,312.6" stroke="#ffcf00" stroke-width="2.11"/>
<polyline points="105.5,334.2 106.5,333.5" stroke="#ffcf00" stroke-width="2.11"/>
<polyline points="106.5,333.5 107.6,333.0" stroke="#ffb400" stroke-width="2.18"/>
<polyline points="107.6,333.0 108.6,332.6" stroke="#ff7e00" stroke-width="2.34"/>
<polyline points="113.7,334.9 113.7,335.7" stroke="#ff6300" stroke-width="2.41"/>
<polyline points="113.7,335.7 113.5,336.6" stroke="#ff9900" stroke-width="2.26"/>
<polyline points="113.5,336.6 113.1,337.5" stroke="#ffcf00" stroke-width="2.11"/>
<polyline points="113.1,337.5 112.6,338.5" stroke="#ffeb00" stroke-width="2.03"/>
<polyline points="126.6,329.9 127.4,329.3 128.3,328.9" stroke="#ffeb00" stroke-width="2.03"/>
<polyline points="128.3,328.9 129.1,328.5" stroke="#ffcf00" stroke-width="2.11"/>
<polyline points="129.1,328.5 130.0,328.3" stroke="#ffb400" stroke-width="2.18"/>
<polyline points="130.0,328.3 130.9,328.2 131.7,328.2" stroke="#ff9900" stroke-width="2.26"/>
<polyline points="131.7,328.2 132.5,328.3" stroke="#ff7e00" stroke-width="2.34"/>
<polyline points="132.5,328.3 133.2,328.4" stroke="#ff6300" stroke-width="2.41"/>
<polyline points="135.6,331.2 135.2,332.0" stroke="#ff6300" stroke-width="2.41"/>
<polyline points="135.2,332.0 134.8,332.9" stroke="#ff9900" stroke-width="2.26"/>
<polyline points="134.8,332.9 134.4,334.0" stroke="#ffb400" stroke-width="2.18"/>
<polyline points="134.4,334.0 133.8,335.2" stroke="#ffeb00" stroke-width="2.03"/>
<polyline points="157.3,322.9 158.1,322.8" stroke="#ffeb00" stroke-width="2.03"/>
<polyline points="158.1,322.8 158.8,322.8 159.5,322.8" stroke="#ffcf00" stroke-width="2.11"/>
<polyline points="159.5,322.8 160.2,322.9" stroke="#ffb400" stroke-width="2.18"/>
<polyline points="160.2,322.9 160.8,323.0 161.4,323.2 162.1,323.5" stroke="#ff9900" stroke-width="2.26"/>
<polyline points="162.1,323.5 162.7,323.8 163.2,324.1 163.7,324.4 164.0,324.6 164.2,324.6 164.4,324.5 164.4,324.4 164.3,324.3 164.2,324.3 164.0,324.6 163.8,325.0" stroke="#ff7e00" stroke-width="2.34"/>
<polyline points="163.8,325.0 163.5,325.6" stroke="#ffb400" stroke-width="2.18"/>
<polyline points="163.5,325.6 163.2,326.4" stroke="#ffcf00" stroke-width="2.11"/>
<polyline points="166.5,410.7 167.3,411.3" stroke="#ffcf00" stroke-width="2.11"/>
<polyline points="167.3,411.3 168.1,411.8" stroke="#ffb400" stroke-width="2.18"/>
<polyline points="168.1,411.8 168.8,412.0" stroke="#ff9900" stroke-width="2.26"/>
<polyline points="168.8,412.0 169.4,412.0 170.0,411.8" stroke="#ff7e00" stroke-width="2.34"/>
<polyline points="170.0,411.8 170.5,411.5 170.9,410.9" stroke="#ff9900" stroke-width="2.26"/>
<polyline points="170.9,410.9 171.2,410.1" stroke="#ffb400" stroke-width="2.18"/>
<polyline points="171.2,410.1 171.4,409.1 171.6,407.7" stroke="#ffcf00" stroke-width="2.11"/>
<polyline points="171.6,407.7 171.7,406.0 171.7,403.9 171.6,401.5 171.4,398.9" stroke="#ffeb00" stroke-width="2.03"/>
<polyline points="182.4,322.8 183.5,322.7 184.6,322.8" stroke="#ffeb00" stroke-width="2.03"/>
<polyline points="184.6,322.8 185.6,323.1 186.6,323.6" stroke="#ffcf00" stroke-width="2.11"/>
<polyline points="186.6,323.6 187.7,324.2" stroke="#ffb400" stroke-width="2.18"/>
<polyline points="187.7,324.2 188.6,324.8 189.4,325.3" stroke="#ff9900" stroke-width="2.26"/>
<polyline points="189.4,325.3 190.0,325.6 190.3,325.7 190.5,325.6 190.5,325.5 190.4,325.3 190.2,325.4 190.0,325.6 189.7,326.2" stroke="#ff7e00" stroke-width="2.34"/>
<polyline points="189.7,326.2 189.3,326.9" stroke="#ffb400" stroke-width="2.18"/>
<polyline points="189.3,326.9 188.8,327.8" stroke="#ffcf00" stroke-width="2.11"/>
<polyline points="199.9,329.5 200.9,328.9 201.8,328.4" stroke="#ffeb00" stroke-width="2.03"/>
<polyline points="201.8,328.4 202.8,328.1 203.7,327.9 204.7,327.9 205.6,327.9 206.5,328.0" stroke="#ffcf00" stroke-width="2.11"/>
<polyline points="206.5,328.0 207.2,328.2 207.9,328.5" stroke="#ffb400" stroke-width="2.18"/>
<polyline points="207.9,328.5 208.6,329.0 209.2,329.6 209.7,330.2 210.1,330.7 210.5,331.0 210.7,331.1 210.8,331.0 210.8,330.9 210.8,330.7 210.7,330.7 210.5,331.0" stroke="#ffcf00" stroke-width="2.11"/>
<polyline points="210.5,331.0 210.2,331.6" stroke="#ffeb00" stroke-width="2.03"/>
<polyline points="223.1,387.2 224.0,387.9" stroke="#ffeb00" stroke-width="2.03"/>
<polyline points="224.0,387.9 224.8,388.4 225.6,388.7" stroke="#ffcf00" stroke-width="2.11"/>
<polyline points="225.6,388.7 226.3,388.8" stroke="#ffb400" stroke-width="2.18"/>
<polyline points="226.3,388.8 226.9,388.6 227.5,388.3" stroke="#ffcf00" stroke-width="2.11"/>
<polyline points="227.5,388.3 228.0,387.8 228.5,387.0" stroke="#ffeb00" stroke-width="2.03"/>
<polyline points="224.3,328.3 225.4,327.5" stroke="#ffeb00" stroke-width="2.03"/>
<polyline points="225.4,327.5 226.5,326.7 227.7,326.1" stroke="#ffcf00" stroke-width="2.11"/>
<polyline points="227.7,326.1 228.8,325.6" stroke="#ffb400" stroke-width="2.18"/>
<polyline points="228.8,325.6 229.9,325.2 230.9,325.0" stroke="#ff9900" stroke-width="2.26"/>
<polyline points="230.9,325.0 231.9,324.9 232.9,325.0 233.8,325.1" stroke="#ff7e00" stroke-width="2.34"/>
<polyline points="233.8,325.1 234.6,325.4 235.3,325.6 235.9,326.0 236.3,326.5 236.7,327.1 237.0,327.6 237.3,328.1" stroke="#ff6300" stroke-width="2.41"/>
<polyline points="237.3,328.1 237.5,328.4 237.6,328.5 237.7,328.4 237.8,328.1 237.7,328.0 237.6,328.0 237.5,328.4" stroke="#ff7e00" stroke-width="2.34"/>
<polyline points="237.5,328.4 237.1,329.3" stroke="#ff9900" stroke-width="2.26"/>
<polyline points="237.1,329.3 236.7,330.4" stroke="#ffb400" stroke-width="2.18"/>
<polyline points="236.7,330.4 236.1,331.8" stroke="#ffeb00" stroke-width="2.03"/>
<polyline points="241.0,363.1 241.8,364.5" stroke="#ffeb00" stroke-width="2.03"/>
<polyline points="241.8,364.5 242.4,365.7 243.0,366.8 243.5,367.7 243.9,368.5 244.4,369.1" stroke="#ffcf00" stroke-width="2.11"/>
<polyline points="244.4,369.1 245.0,369.5" stroke="#ffb400" stroke-width="2.18"/>
<polyline points="245.0,369.5 245.7,369.6 246.4,369.6" stroke="#ffcf00" stroke-width="2.11"/>
<polyline points="246.4,369.6 247.1,369.3" stroke="#ffeb00" stroke-width="2.03"/>
<polyline points="262.3,299.7 263.5,299.5" stroke="#ffeb00" stroke-width="2.03"/>
<polyline points="263.5,299.5 264.6,299.4" stroke="#ffcf00" stroke-width="2.11"/>
<polyline points="264.6,299.4 265.6,299.3" stroke="#ffb400" stroke-width="2.18"/>
<polyline points="265.6,299.3 266.6,299.3" stroke="#ff9900" stroke-width="2.26"/>
<polyline points="266.6,299.3 267.5,299.4" stroke="#ff7e00" stroke-width="2.34"/>
<polyline points="267.5,299.4 268.3,299.5" stroke="#ff6300" stroke-width="2.41"/>
<polyline points="270.6,303.6 269.9,304.4" stroke="#ff7e00" stroke-width="2.34"/>
<polyline points="269.9,304.4 269.3,305.2" stroke="#ff9900" stroke-width="2.26"/>
<polyline points="269.3,305.2 268.8,306.2" stroke="#ffcf00" stroke-width="2.11"/>
<polyline points="268.8,306.2 268.3,307.3 267.7,308.4 267.2,309.7 266.7,311.0" stroke="#ffeb00" stroke-width="2.03"/>
</g>
<path d="M35.6,368.0 L35.8,367.0 L36.1,365.7 L36.4,364.1 L36.7,362.4 L37.1,360.7 L37.6,359.1 L38.0,357.5 L38.5,355.9 L39.0,354.3 L39.5,352.7 L40.1,351.0 L40.8,349.4 L41.6,347.7 L42.4,345.9 L43.4,344.0 L44.3,342.3 L45.3,340.7 L46.2,339.2 L47.1,338.0 L48.0,337.0 L48.8,336.1 L49.7,335.3 L50.6,334.6 L51.6,333.8 L52.6,333.1 L53.8,332.5 L54.9,331.9 L56.0,331.4 L57.1,330.9 L58.1,330.4 L58.9,329.9 L59.7,329.5 L60.4,329.2 L61.1,328.8 L61.7,328.5 L62.4,328.2 L63.1,327.9 L63.9,327.6 L64.6,327.3 L65.3,327.1 L65.9,326.9 L66.3,326.7 L66.5,326.6 L66.6,326.5 L66.7,326.4 L66.6,326.4 L66.4,326.5 L66.3,326.7 L66.1,327.0 L65.8,327.3 L65.4,327.7 L65.0,328.3 L64.6,329.0 L64.1,330.0 L63.6,331.1 L63.0,332.5 L62.4,334.1 L61.7,335.9 L61.0,337.7 L60.2,339.7 L59.4,341.8 L58.5,344.0 L57.6,346.4 L56.6,348.9 L55.7,351.3 L54.8,353.7 L54.0,356.0 L53.3,358.3 L52.5,360.7 L51.8,363.0 L51.1,365.3 L50.5,367.7 L50.0,370.2 L49.5,372.7 L49.0,375.2 L48.6,377.8 L48.2,380.3 L47.9,382.9 L47.7,385.4 L47.5,388.0 L47.3,390.6 L47.2,393.2 L47.2,395.6 L47.3,398.0 L47.4,400.2 L47.6,402.4 L47.8,404.5 L48.1,406.5 L48.5,408.3 L49.0,409.9 L49.6,411.2 L50.3,412.4 L51.1,413.3 L52.0,414.1 L52.9,414.8 L53.8,415.2 L54.6,415.5 L55.6,415.6 L56.5,415.5 L57.5,415.3 L58.3,415.0 L59.2,414.6 L59.9,414.2 L60.6,413.7 L61.3,413.1 L61.9,412.5 L62.4,411.7 L62.8,410.9 L63.2,410.1 L63.4,409.2 L63.6,408.3 L63.7,407.2 L63.7,405.9 L63.7,404.5 L63.6,402.7 L63.4,400.7 L63.1,398.5 L62.8,396.2 L62.6,393.9 L62.4,391.5 L62.2,389.1 L62.1,386.6 L62.0,384.1 L61.9,381.5 L61.9,378.9 L62.0,376.4 L62.1,373.9 L62.2,371.3 L62.4,368.8 L62.7,366.3 L63.0,363.8 L63.5,361.3 L64.0,358.7 L64.6,356.2 L65.3,353.6 L66.1,351.1 L66.9,348.6 L67.8,346.1 L68.7,343.7 L69.7,341.3 L70.8,339.0 L71.9,336.7 L73.0,334.4 L74.3,332.1 L75.6,329.8 L77.0,327.5 L78.5,325.2 L80.0,323.0 L81.5,321.0 L82.9,319.2 L84.3,317.5 L85.6,316.0 L87.0,314.6 L88.3,313.4 L89.4,312.4 L90.5,311.6 L91.3,311.0 L92.1,310.6 L92.7,310.4 L93.2,310.3 L93.8,310.4 L94.4,310.5 L95.0,310.7 L95.6,311.0 L96.2,311.4 L96.7,311.9 L97.2,312.6 L97.6,313.3 L97.9,314.2 L98.1,315.1 L98.2,316.1 L98.3,317.3 L98.2,318.7 L98.0,320.2 L97.7,322.0 L97.3,324.0 L96.8,326.2 L96.2,328.5 L95.6,330.8 L94.8,333.2 L93.9,335.6 L92.8,338.1 L91.7,340.6 L90.5,343.2 L89.4,345.8 L88.3,348.3 L87.3,350.8 L86.3,353.3 L85.4,355.7 L84.5,358.2 L83.6,360.8 L82.9,363.4 L82.3,366.2 L81.7,368.9 L81.2,371.8 L80.9,374.7 L80.5,377.7 L80.3,380.7 L80.2,383.8 L80.2,387.1 L80.2,390.5 L80.4,393.8 L80.5,397.1 L80.7,400.1 L81.0,403.1 L81.3,406.1 L81.6,409.0 L82.0,411.7 L82.4,414.2 L82.9,416.3 L83.4,418.1 L84.0,419.6 L84.7,420.9 L85.3,421.9 L86.0,422.8 L86.6,423.5 L87.2,424.0 L87.7,424.3 L88.2,424.4 L88.8,424.3 L89.4,424.2 L90.0,423.9 L90.8,423.5 L91.6,423.0 L92.4,422.4 L93.3,421.6 L94.1,420.7 L94.8,419.6 L95.4,418.3 L96.0,416.9 L96.5,415.3 L96.9,413.6 L97.3,411.8 L97.6,409.9 L97.8,407.8 L98.0,405.5 L98.1,403.2 L98.2,400.7 L98.1,398.3 L98.0,395.8 L97.8,393.4 L97.5,390.9 L97.1,388.3 L96.6,385.8 L96.2,383.2 L95.9,380.7 L95.6,378.2 L95.2,375.6 L94.9,373.0 L94.7,370.5 L94.5,368.0 L94.4,365.6 L94.3,363.3 L94.2,361.0 L94.2,358.8 L94.3,356.7 L94.5,354.6 L94.8,352.6 L95.2,350.7 L95.8,348.7 L96.4,346.8 L97.1,345.1 L97.9,343.4 L98.7,341.8 L99.5,340.4 L100.5,339.1 L101.5,337.9 L102.5,336.8 L103.5,335.8 L104.5,334.9 L105.5,334.2 L106.5,333.5 L107.6,333.0 L108.6,332.6 L109.5,332.3 L110.3,332.1 L111.1,332.1 L111.8,332.2 L112.4,332.5 L113.0,332.8 L113.4,333.0 L113.8,333.2 L114.0,333.2 L114.1,333.1 L114.0,333.0 L114.0,332.9 L113.9,333.0 L113.8,333.2 L113.8,333.6 L113.8,334.2 L113.7,334.9 L113.7,335.7 L113.5,336.6 L113.1,337.5 L112.6,338.5 L111.9,339.6 L111.1,340.8 L110.3,342.1 L109.5,343.5 L108.8,345.1 L108.2,346.8 L107.6,348.7 L107.0,350.7 L106.5,352.7 L106.0,354.9 L105.6,356.9 L105.2,359.1 L105.0,361.3 L104.7,363.6 L104.6,365.8 L104.5,367.9 L104.5,369.9 L104.6,371.8 L104.7,373.6 L105.0,375.3 L105.3,376.9 L105.6,378.3 L106.0,379.6 L106.5,380.8 L107.0,381.8 L107.6,382.7 L108.2,383.5 L108.9,384.0 L109.5,384.4 L110.1,384.5 L110.7,384.4 L111.3,384.1 L112.0,383.7 L112.6,383.1 L113.1,382.4 L113.7,381.6 L114.2,380.6 L114.7,379.5 L115.2,378.2 L115.6,376.8 L115.9,375.3 L116.2,373.6 L116.4,371.7 L116.5,369.6 L116.6,367.5 L116.7,365.4 L116.8,363.4 L116.9,361.6 L116.8,359.7 L116.8,358.0 L116.8,356.2 L116.9,354.4 L117.0,352.6 L117.3,350.8 L117.7,348.9 L118.1,347.1 L118.6,345.3 L119.1,343.5 L119.6,341.8 L120.2,340.2 L120.7,338.6 L121.3,337.1 L121.9,335.7 L122.6,334.4 L123.3,333.2 L124.0,332.2 L124.8,331.3 L125.7,330.5 L126.6,329.9 L127.4,329.3 L128.3,328.9 L129.1,328.5 L130.0,328.3 L130.9,328.2 L131.7,328.2 L132.5,328.3 L133.2,328.4 L133.8,328.7 L134.4,329.0 L134.8,329.5 L135.2,329.9 L135.6,330.3 L135.8,330.6 L136.0,330.7 L136.1,330.5 L136.1,330.4 L136.1,330.2 L136.0,330.3 L135.8,330.6 L135.6,331.2 L135.2,332.0 L134.8,332.9 L134.4,334.0 L133.8,335.2 L133.2,336.4 L132.5,337.8 L131.7,339.3 L130.8,340.8 L129.8,342.5 L129.0,344.3 L128.3,346.1 L127.6,348.1 L127.0,350.2 L126.5,352.4 L126.1,354.7 L125.7,356.9 L125.4,359.1 L125.3,361.3 L125.2,363.6 L125.2,365.9 L125.3,368.1 L125.5,370.2 L125.7,372.1 L125.9,373.7 L126.3,375.1 L126.7,376.4 L127.1,377.6 L127.7,378.6 L128.3,379.6 L129.0,380.5 L129.8,381.3 L130.6,382.0 L131.5,382.6 L132.4,383.0 L133.2,383.3 L134.0,383.4 L134.8,383.4 L135.5,383.2 L136.2,382.9 L136.8,382.4 L137.3,381.8 L137.7,380.9 L138.0,379.9 L138.2,378.7 L138.3,377.4 L138.4,375.9 L138.4,374.2 L138.3,372.3 L138.0,370.2 L137.7,367.9 L137.3,365.6 L137.1,363.4 L136.9,361.3 L136.8,359.4 L136.8,357.6 L136.9,355.9 L137.0,354.1 L137.2,352.4 L137.5,350.5 L138.0,348.4 L138.5,346.1 L139.1,343.9 L139.7,341.6 L140.5,339.4 L141.2,337.5 L142.0,335.8 L143.0,334.1 L143.9,332.6 L144.9,331.2 L145.8,329.9 L146.6,328.9 L147.3,328.0 L147.8,327.4 L148.2,326.9 L148.7,326.5 L149.3,326.1 L150.0,325.6 L150.9,325.1 L152.0,324.6 L153.2,324.1 L154.4,323.7 L155.5,323.3 L156.5,323.0 L157.3,322.9 L158.1,322.8 L158.8,322.8 L159.5,322.8 L160.2,322.9 L160.8,323.0 L161.4,323.2 L162.1,323.5 L162.7,323.8 L163.2,324.1 L163.7,324.4 L164.0,324.6 L164.2,324.6 L164.4,324.5 L164.4,324.4 L164.3,324.3 L164.2,324.3 L164.0,324.6 L163.8,325.0 L163.5,325.6 L163.2,326.4 L162.8,327.2 L162.3,328.0 L161.9,328.9 L161.4,329.6 L160.9,330.3 L160.4,331.0 L159.8,331.9 L159.3,332.9 L158.6,334.3 L158.0,336.0 L157.2,337.9 L156.4,340.1 L155.6,342.4 L154.9,344.8 L154.3,347.2 L153.8,349.7 L153.3,352.3 L152.9,355.1 L152.5,357.8 L152.3,360.6 L152.2,363.4 L152.2,366.2 L152.3,369.1 L152.6,372.0 L152.9,374.9 L153.4,377.8 L153.9,380.7 L154.5,383.7 L155.2,386.7 L156.0,389.7 L156.8,392.7 L157.7,395.5 L158.6,398.0 L159.6,400.2 L160.6,402.3 L161.7,404.2 L162.7,406.0 L163.7,407.5 L164.7,408.8 L165.6,409.8 L166.5,410.7 L167.3,411.3 L168.1,411.8 L168.8,412.0 L169.4,412.0 L170.0,411.8 L170.5,411.5 L170.9,410.9 L171.2,410.1 L171.4,409.1 L171.6,407.7 L171.7,406.0 L171.7,403.9 L171.6,401.5 L171.4,398.9 L171.2,396.3 L170.9,393.7 L170.6,390.9 L170.2,388.0 L169.7,385.0 L169.3,382.0 L168.8,379.1 L168.4,376.4 L167.9,373.8 L167.5,371.3 L167.1,369.0 L166.7,366.7 L166.4,364.5 L166.2,362.3 L166.1,360.4 L166.1,358.5 L166.1,356.8 L166.2,355.1 L166.4,353.4 L166.6,351.5 L166.9,349.6 L167.3,347.6 L167.8,345.6 L168.3,343.6 L168.9,341.6 L169.4,339.7 L170.1,337.7 L170.8,335.8 L171.5,333.8 L172.3,332.0 L173.0,330.3 L173.8,328.9 L174.4,327.7 L175.1,326.6 L175.8,325.8 L176.5,325.1 L177.2,324.4 L178.1,323.9 L179.0,323.5 L180.1,323.1 L181.2,322.9 L182.4,322.8 L183.5,322.7 L184.6,322.8 L185.6,323.1 L186.6,323.6 L187.7,324.2 L188.6,324.8 L189.4,325.3 L190.0,325.6 L190.3,325.7 L190.5,325.6 L190.5,325.5 L190.4,325.3 L190.2,325.4 L190.0,325.6 L189.7,326.2 L189.3,326.9 L188.8,327.8 L188.3,328.8 L187.7,329.9 L187.1,331.0 L186.5,332.2 L185.7,333.5 L184.9,334.9 L184.1,336.3 L183.4,337.9 L182.8,339.7 L182.3,341.5 L181.9,343.5 L181.5,345.6 L181.2,347.8 L181.0,350.2 L180.9,352.6 L180.9,355.3 L181.1,358.1 L181.4,361.1 L181.7,364.1 L182.1,367.1 L182.4,369.9 L182.7,372.6 L183.0,375.2 L183.4,377.8 L183.7,380.3 L184.1,382.7 L184.6,385.0 L185.0,387.3 L185.5,389.6 L186.0,391.7 L186.5,393.7 L187.1,395.5 L187.8,396.9 L188.6,397.9 L189.4,398.7 L190.3,399.1 L191.3,399.4 L192.2,399.5 L193.2,399.5 L194.2,399.4 L195.3,399.1 L196.4,398.6 L197.5,398.0 L198.4,397.2 L199.2,396.2 L199.9,395.1 L200.5,393.8 L201.0,392.3 L201.4,390.7 L201.7,389.0 L201.8,387.2 L201.8,385.3 L201.6,383.2 L201.4,381.1 L201.0,378.8 L200.6,376.5 L200.1,374.2 L199.6,371.8 L199.0,369.3 L198.3,366.8 L197.6,364.2 L197.0,361.6 L196.4,359.1 L195.9,356.5 L195.4,353.9 L195.0,351.3 L194.6,348.7 L194.4,346.3 L194.3,344.0 L194.3,341.9 L194.5,339.8 L194.9,337.9 L195.3,336.2 L195.8,334.6 L196.4,333.2 L197.1,332.0 L198.0,331.0 L198.9,330.2 L199.9,329.5 L200.9,328.9 L201.8,328.4 L202.8,328.1 L203.7,327.9 L204.7,327.9 L205.6,327.9 L206.5,328.0 L207.2,328.2 L207.9,328.5 L208.6,329.0 L209.2,329.6 L209.7,330.2 L210.1,330.7 L210.5,331.0 L210.7,331.1 L210.8,331.0 L210.8,330.9 L210.8,330.7 L210.7,330.7 L210.5,331.0 L210.2,331.6 L209.8,332.3 L209.3,333.1 L208.8,334.1 L208.3,335.2 L207.9,336.4 L207.4,337.8 L206.9,339.2 L206.5,340.8 L206.1,342.5 L205.8,344.3 L205.7,346.1 L205.8,348.1 L206.1,350.2 L206.5,352.4 L207.1,354.7 L207.7,356.9 L208.3,359.1 L209.0,361.3 L209.9,363.5 L210.8,365.6 L211.7,367.8 L212.7,370.0 L213.7,372.1 L214.7,374.2 L215.8,376.4 L216.9,378.5 L218.1,380.5 L219.2,382.4 L220.2,383.9 L221.2,385.2 L222.1,386.3 L223.1,387.2 L224.0,387.9 L224.8,388.4 L225.6,388.7 L226.3,388.8 L226.9,388.6 L227.5,388.3 L228.0,387.8 L228.5,387.0 L228.8,386.1 L229.1,384.9 L229.4,383.5 L229.6,381.9 L229.7,380.1 L229.7,378.3 L229.5,376.4 L229.1,374.4 L228.5,372.3 L227.8,370.1 L227.1,367.9 L226.3,365.6 L225.6,363.4 L224.8,361.3 L224.1,359.1 L223.2,356.9 L222.5,354.8 L221.8,352.6 L221.3,350.5 L220.8,348.3 L220.5,346.0 L220.3,343.7 L220.1,341.5 L220.1,339.4 L220.2,337.5 L220.4,335.8 L220.8,334.3 L221.3,332.9 L221.9,331.6 L222.6,330.4 L223.4,329.3 L224.3,328.3 L225.4,327.5 L226.5,326.7 L227.7,326.1 L228.8,325.6 L229.9,325.2 L230.9,325.0 L231.9,324.9 L232.9,325.0 L233.8,325.1 L234.6,325.4 L235.3,325.6 L235.9,326.0 L236.3,326.5 L236.7,327.1 L237.0,327.6 L237.3,328.1 L237.5,328.4 L237.6,328.5 L237.7,328.4 L237.8,328.1 L237.7,328.0 L237.6,328.0 L237.5,328.4 L237.1,329.3 L236.7,330.4 L236.1,331.8 L235.6,333.3 L235.1,334.9 L234.7,336.4 L234.3,338.0 L233.9,339.6 L233.5,341.2 L233.2,342.9 L233.1,344.6 L233.1,346.1 L233.4,347.6 L233.8,349.1 L234.3,350.5 L235.0,351.9 L235.7,353.3 L236.4,354.8 L237.2,356.4 L238.1,358.1 L239.1,359.9 L240.1,361.6 L241.0,363.1 L241.8,364.5 L242.4,365.7 L243.0,366.8 L243.5,367.7 L243.9,368.5 L244.4,369.1 L245.0,369.5 L245.7,369.6 L246.4,369.6 L247.1,369.3 L247.9,368.9 L248.6,368.4 L249.3,367.7 L250.1,367.0 L250.9,366.0 L251.7,364.9 L252.4,363.8 L253.1,362.5 L253.7,361.3 L254.1,360.0 L254.5,358.6 L254.9,357.2 L255.1,355.7 L255.2,354.2 L255.2,352.6 L254.9,351.0 L254.4,349.3 L253.8,347.5 L253.2,345.7 L252.5,343.8 L251.9,341.8 L251.4,339.8 L250.8,337.7 L250.2,335.5 L249.6,333.3 L249.1,331.1 L248.7,328.9 L248.3,326.7 L247.9,324.4 L247.6,322.2 L247.4,320.0 L247.2,317.9 L247.2,315.9 L247.2,314.0 L247.3,312.2 L247.5,310.5 L247.8,308.9 L248.2,307.5 L248.7,306.2 L249.3,305.1 L250.0,304.3 L250.7,303.6 L251.6,303.0 L252.6,302.4 L253.7,301.9 L254.9,301.4 L256.4,300.9 L257.9,300.5 L259.5,300.2 L261.0,299.9 L262.3,299.7 L263.5,299.5 L264.6,299.4 L265.6,299.3 L266.6,299.3 L267.5,299.4 L268.3,299.5 L269.1,299.8 L269.9,300.2 L270.6,300.7 L271.1,301.2 L271.6,301.6 L272.0,301.9 L272.3,302.0 L272.4,301.9 L272.4,301.8 L272.4,301.6 L272.2,301.7 L272.0,301.9 L271.7,302.3 L271.2,302.9 L270.6,303.6 L269.9,304.4 L269.3,305.2 L268.8,306.2 L268.3,307.3 L267.7,308.4 L267.2,309.7 L266.7,311.0 L266.3,312.4 L266.0,313.8 L265.7,315.2 L265.4,316.6 L265.3,318.1 L265.1,319.6 L265.1,321.1 L265.1,322.4 L265.2,323.6 L265.4,324.8 L265.7,326.0 L266.0,327.0 L266.3,328.0 L266.6,328.9 L266.8,329.6 L267.1,330.3 L267.3,330.8 L267.5,331.3 L267.7,331.8 L267.9,332.3" fill="none" stroke="#7a7a7a" stroke-width="0.70" stroke-dasharray="5 2.5"/>
<g fill="none" stroke-linecap="round" stroke-linejoin="round" filter="url(#bl)">
<polyline points="61.1,328.8 61.7,328.5" stroke="#ff4700" stroke-width="2.49"/>
<polyline points="61.7,328.5 62.4,328.2" stroke="#ff2c00" stroke-width="2.56"/>
<polyline points="62.4,328.2 63.1,327.9" stroke="#f50000" stroke-width="3.18"/>
<polyline points="63.1,327.9 63.9,327.6" stroke="#be0000" stroke-width="3.25"/>
<polyline points="63.9,327.6 64.6,327.3" stroke="#a30000" stroke-width="3.28"/>
<polyline points="64.6,327.3 65.3,327.1" stroke="#6d0000" stroke-width="3.36"/>
<polyline points="65.3,327.1 65.9,326.9" stroke="#520000" stroke-width="3.39"/>
<polyline points="65.9,326.9 66.3,326.7" stroke="#1b0000" stroke-width="3.46"/>
<polyline points="66.3,326.7 66.5,326.6 66.6,326.5 66.7,326.4 66.6,326.4 66.4,326.5 66.3,326.7" stroke="#000000" stroke-width="3.50"/>
<polyline points="66.3,326.7 66.1,327.0" stroke="#1b0000" stroke-width="3.46"/>
<polyline points="66.1,327.0 65.8,327.3" stroke="#520000" stroke-width="3.39"/>
<polyline points="65.8,327.3 65.4,327.7" stroke="#880000" stroke-width="3.32"/>
<polyline points="65.4,327.7 65.0,328.3" stroke="#be0000" stroke-width="3.25"/>
<polyline points="65.0,328.3 64.6,329.0" stroke="#f50000" stroke-width="3.18"/>
<polyline points="64.6,329.0 64.1,330.0" stroke="#ff2c00" stroke-width="2.56"/>
<polyline points="108.6,332.6 109.5,332.3" stroke="#ff6300" stroke-width="2.41"/>
<polyline points="109.5,332.3 110.3,332.1" stroke="#ff2c00" stroke-width="2.56"/>
<polyline points="110.3,332.1 111.1,332.1" stroke="#ff1100" stroke-width="2.64"/>
<polyline points="111.1,332.1 111.8,332.2 112.4,332.5 113.0,332.8" stroke="#f50000" stroke-width="3.18"/>
<polyline points="113.0,332.8 113.4,333.0 113.8,333.2" stroke="#da0000" stroke-width="3.21"/>
<polyline points="113.8,333.2 114.0,333.2 114.1,333.1 114.0,333.0 114.0,332.9 113.9,333.0 113.8,333.2" stroke="#be0000" stroke-width="3.25"/>
<polyline points="113.8,333.2 113.8,333.6" stroke="#da0000" stroke-width="3.21"/>
<polyline points="113.8,333.6 113.8,334.2" stroke="#ff1100" stroke-width="2.64"/>
<polyline points="113.8,334.2 113.7,334.9" stroke="#ff4700" stroke-width="2.49"/>
<polyline points="133.2,328.4 133.8,328.7 134.4,329.0 134.8,329.5 135.2,329.9 135.6,330.3" stroke="#ff4700" stroke-width="2.49"/>
<polyline points="135.6,330.3 135.8,330.6 136.0,330.7 136.1,330.5 136.1,330.4 136.1,330.2 136.0,330.3 135.8,330.6" stroke="#ff2c00" stroke-width="2.56"/>
<polyline points="135.8,330.6 135.6,331.2" stroke="#ff4700" stroke-width="2.49"/>
<polyline points="268.3,299.5 269.1,299.8 269.9,300.2" stroke="#ff4700" stroke-width="2.49"/>
<polyline points="269.9,300.2 270.6,300.7" stroke="#ff2c00" stroke-width="2.56"/>
<polyline points="270.6,300.7 271.1,301.2 271.6,301.6" stroke="#ff1100" stroke-width="2.64"/>
<polyline points="271.6,301.6 272.0,301.9 272.3,302.0 272.4,301.9 272.4,301.8 272.4,301.6 272.2,301.7 272.0,301.9 271.7,302.3" stroke="#f50000" stroke-width="3.18"/>
<polyline points="271.7,302.3 271.2,302.9" stroke="#ff2c00" stroke-width="2.56"/>
<polyline points="271.2,302.9 270.6,303.6" stroke="#ff4700" stroke-width="2.49"/>
</g>
<path d="M311.2,273.8 V462.2 H546.7" fill="none" stroke="#b4b4b4" stroke-width="1.4"/>
<path d="M311.2,462.2 v-2.5 M358.2,462.2 v-2.5 M405.3,462.2 v-2.5 M452.4,462.2 v-2.5 M499.4,462.2 v-2.5 M546.5,462.2 v-2.5 M311.2,462.2 h2.5 M311.2,415.1 h2.5 M311.2,368.0 h2.5 M311.2,320.9 h2.5 M311.2,273.8 h2.5 " fill="none" stroke="#b4b4b4" stroke-width="1"/>
<g fill="none" stroke-linecap="round" stroke-linejoin="round" filter="url(#bl)">
<polyline points="311.2,368.0 311.4,367.0 311.7,365.7 312.0,364.1 312.3,362.4 312.7,360.7 313.2,359.1 313.6,357.5 314.1,355.9 314.6,354.3 315.1,352.7 315.7,351.0 316.4,349.4 317.2,347.7 318.0,345.9 319.0,344.0 319.9,342.3" stroke="#ffff0a" stroke-width="2.32"/>
<polyline points="319.9,342.3 320.9,340.7 321.8,339.2 322.7,338.0 323.6,337.0 324.4,336.1 325.3,335.3 326.2,334.6 327.2,333.8 328.2,333.1 329.4,332.5 330.5,331.9 331.6,331.4 332.7,330.9 333.7,330.4 334.5,329.9 335.3,329.5" stroke="#ffff00" stroke-width="3.23"/>
<polyline points="335.3,329.5 336.0,329.2 336.7,328.8 337.3,328.5" stroke="#ffff0a" stroke-width="2.32"/>
<polyline points="337.3,328.5 338.0,328.2 338.7,327.9 339.5,327.6" stroke="#ffff33" stroke-width="2.28"/>
<polyline points="339.5,327.6 340.2,327.3 340.9,327.1 341.5,326.9 341.9,326.7 342.1,326.6 342.2,326.5 342.3,326.4 342.2,326.4 342.0,326.5 341.9,326.7" stroke="#ffff5c" stroke-width="2.24"/>
<polyline points="341.9,326.7 341.7,327.0 341.4,327.3" stroke="#ffff85" stroke-width="2.21"/>
<polyline points="341.4,327.3 341.0,327.7" stroke="#ffffad" stroke-width="2.17"/>
<polyline points="341.0,327.7 340.6,328.3 340.2,329.0" stroke="#ffffd6" stroke-width="2.14"/>
<polyline points="328.9,358.3 328.1,360.7 327.4,363.0 326.7,365.3 326.1,367.7 325.6,370.2" stroke="#ffffd6" stroke-width="2.14"/>
<polyline points="325.6,370.2 325.1,372.7 324.6,375.2 324.2,377.8 323.8,380.3 323.5,382.9 323.3,385.4 323.1,388.0 322.9,390.6 322.8,393.2 322.8,395.6 322.9,398.0 323.0,400.2 323.2,402.4 323.4,404.5" stroke="#ffffad" stroke-width="2.17"/>
<polyline points="323.4,404.5 323.7,406.5 324.1,408.3 324.6,409.9 325.2,411.2" stroke="#ffff85" stroke-width="2.21"/>
<polyline points="325.2,411.2 325.9,412.4 326.7,413.3 327.6,414.1 328.5,414.8" stroke="#ffff5c" stroke-width="2.24"/>
<polyline points="328.5,414.8 329.4,415.2 330.2,415.5 331.2,415.6" stroke="#ffff33" stroke-width="2.28"/>
<polyline points="331.2,415.6 332.1,415.5 333.1,415.3 333.9,415.0 334.8,414.6 335.5,414.2 336.2,413.7 336.9,413.1 337.5,412.5 338.0,411.7 338.4,410.9 338.8,410.1 339.0,409.2 339.2,408.3 339.3,407.2" stroke="#ffff0a" stroke-width="2.32"/>
<polyline points="339.3,407.2 339.3,405.9 339.3,404.5 339.2,402.7" stroke="#ffff33" stroke-width="2.28"/>
<polyline points="339.2,402.7 339.0,400.7" stroke="#ffff5c" stroke-width="2.24"/>
<polyline points="339.0,400.7 338.7,398.5 338.4,396.2" stroke="#ffff85" stroke-width="2.21"/>
<polyline points="338.4,396.2 338.2,393.9" stroke="#ffffad" stroke-width="2.17"/>
<polyline points="338.2,393.9 338.0,391.5 337.8,389.1 337.7,386.6 337.6,384.1 337.5,381.5" stroke="#ffffd6" stroke-width="2.14"/>
<polyline points="337.5,381.5 337.5,378.9 337.6,376.4" stroke="#ffffad" stroke-width="2.17"/>
<polyline points="337.6,376.4 337.7,373.9 337.8,371.3" stroke="#ffff85" stroke-width="2.21"/>
<polyline points="337.8,371.3 338.0,368.8" stroke="#ffff5c" stroke-width="2.24"/>
<polyline points="338.0,368.8 338.3,366.3 338.6,363.8" stroke="#ffff33" stroke-width="2.28"/>
<polyline points="338.6,363.8 339.1,361.3 339.6,358.7 340.2,356.2 340.9,353.6 341.7,351.1" stroke="#ffff0a" stroke-width="2.32"/>
<polyline points="341.7,351.1 342.5,348.6 343.4,346.1 344.3,343.7 345.3,341.3 346.4,339.0 347.5,336.7 348.6,334.4 349.9,332.1 351.2,329.8 352.6,327.5" stroke="#ffff00" stroke-width="3.23"/>
<polyline points="352.6,327.5 354.1,325.2 355.6,323.0 357.1,321.0 358.5,319.2 359.9,317.5" stroke="#ffff0a" stroke-width="2.32"/>
<polyline points="359.9,317.5 361.2,316.0 362.6,314.6" stroke="#ffff33" stroke-width="2.28"/>
<polyline points="362.6,314.6 363.9,313.4" stroke="#ffff5c" stroke-width="2.24"/>
<polyline points="363.9,313.4 365.0,312.4 366.1,311.6" stroke="#ffff85" stroke-width="2.21"/>
<polyline points="366.1,311.6 366.9,311.0 367.7,310.6" stroke="#ffffad" stroke-width="2.17"/>
<polyline points="367.7,310.6 368.3,310.4 368.8,310.3 369.4,310.4 370.0,310.5 370.6,310.7 371.2,311.0 371.8,311.4 372.3,311.9" stroke="#ffffd6" stroke-width="2.14"/>
<polyline points="372.3,311.9 372.8,312.6 373.2,313.3 373.5,314.2" stroke="#ffffad" stroke-width="2.17"/>
<polyline points="373.5,314.2 373.7,315.1 373.8,316.1 373.9,317.3 373.8,318.7" stroke="#ffff85" stroke-width="2.21"/>
<polyline points="373.8,318.7 373.6,320.2 373.3,322.0" stroke="#ffff5c" stroke-width="2.24"/>
<polyline points="373.3,322.0 372.9,324.0 372.4,326.2 371.8,328.5 371.2,330.8" stroke="#ffff85" stroke-width="2.21"/>
<polyline points="371.2,330.8 370.4,333.2 369.5,335.6 368.4,338.1 367.3,340.6 366.1,343.2 365.0,345.8 363.9,348.3 362.9,350.8" stroke="#ffffad" stroke-width="2.17"/>
<polyline points="362.9,350.8 361.9,353.3" stroke="#ffff85" stroke-width="2.21"/>
<polyline points="361.9,353.3 361.0,355.7 360.1,358.2 359.2,360.8" stroke="#ffff5c" stroke-width="2.24"/>
<polyline points="359.2,360.8 358.5,363.4 357.9,366.2 357.3,368.9" stroke="#ffff33" stroke-width="2.28"/>
<polyline points="357.3,368.9 356.8,371.8 356.5,374.7 356.1,377.7 355.9,380.7 355.8,383.8" stroke="#ffff0a" stroke-width="2.32"/>
<polyline points="355.8,383.8 355.8,387.1 355.8,390.5" stroke="#ffff33" stroke-width="2.28"/>
<polyline points="355.8,390.5 356.0,393.8" stroke="#ffff5c" stroke-width="2.24"/>
<polyline points="356.0,393.8 356.1,397.1 356.3,400.1" stroke="#ffff85" stroke-width="2.21"/>
<polyline points="356.3,400.1 356.6,403.1 356.9,406.1" stroke="#ffffad" stroke-width="2.17"/>
<polyline points="356.9,406.1 357.2,409.0 357.6,411.7 358.0,414.2 358.5,416.3 359.0,418.1" stroke="#ffffd6" stroke-width="2.14"/>
<polyline points="359.0,418.1 359.6,419.6" stroke="#ffffad" stroke-width="2.17"/>
<polyline points="359.6,419.6 360.3,420.9 360.9,421.9" stroke="#ffff85" stroke-width="2.21"/>
<polyline points="360.9,421.9 361.6,422.8" stroke="#ffff5c" stroke-width="2.24"/>
<polyline points="361.6,422.8 362.2,423.5 362.8,424.0 363.3,424.3" stroke="#ffff33" stroke-width="2.28"/>
<polyline points="363.3,424.3 363.8,424.4 364.4,424.3 365.0,424.2 365.6,423.9 366.4,423.5 367.2,423.0 368.0,422.4 368.9,421.6 369.7,420.7 370.4,419.6 371.0,418.3 371.6,416.9 372.1,415.3 372.5,413.6" stroke="#ffff0a" stroke-width="2.32"/>
<polyline points="372.5,413.6 372.9,411.8 373.2,409.9 373.4,407.8 373.6,405.5" stroke="#ffff33" stroke-width="2.28"/>
<polyline points="373.6,405.5 373.7,403.2 373.8,400.7 373.7,398.3 373.6,395.8 373.4,393.4" stroke="#ffff5c" stroke-width="2.24"/>
<polyline points="373.4,393.4 373.1,390.9" stroke="#ffff85" stroke-width="2.21"/>
<polyline points="373.1,390.9 372.7,388.3 372.2,385.8" stroke="#ffffad" stroke-width="2.17"/>
<polyline points="372.2,385.8 371.8,383.2 371.5,380.7 371.2,378.2" stroke="#ffffd6" stroke-width="2.14"/>
<polyline points="370.1,354.6 370.4,352.6 370.8,350.7 371.4,348.7 372.0,346.8 372.7,345.1" stroke="#ffffd6" stroke-width="2.14"/>
<polyline points="372.7,345.1 373.5,343.4 374.3,341.8 375.1,340.4 376.1,339.1 377.1,337.9 378.1,336.8 379.1,335.8 380.1,334.9 381.1,334.2 382.1,333.5" stroke="#ffffad" stroke-width="2.17"/>
<polyline points="382.1,333.5 383.2,333.0 384.2,332.6 385.1,332.3 385.9,332.1 386.7,332.1 387.4,332.2 388.0,332.5 388.6,332.8 389.0,333.0 389.4,333.2 389.6,333.2 389.7,333.1 389.6,333.0 389.6,332.9 389.5,333.0 389.4,333.2 389.4,333.6 389.4,334.2" stroke="#ffffd6" stroke-width="2.14"/>
<polyline points="387.5,339.6 386.7,340.8 385.9,342.1 385.1,343.5" stroke="#ffffd6" stroke-width="2.14"/>
<polyline points="385.1,343.5 384.4,345.1 383.8,346.8 383.2,348.7 382.6,350.7" stroke="#ffffad" stroke-width="2.17"/>
<polyline points="382.6,350.7 382.1,352.7 381.6,354.9 381.2,356.9 380.8,359.1 380.6,361.3 380.3,363.6 380.2,365.8" stroke="#ffff85" stroke-width="2.21"/>
<polyline points="380.2,365.8 380.1,367.9 380.1,369.9 380.2,371.8 380.3,373.6 380.6,375.3 380.9,376.9" stroke="#ffff5c" stroke-width="2.24"/>
<polyline points="380.9,376.9 381.2,378.3 381.6,379.6 382.1,380.8 382.6,381.8" stroke="#ffff33" stroke-width="2.28"/>
<polyline points="382.6,381.8 383.2,382.7 383.8,383.5 384.5,384.0 385.1,384.4 385.7,384.5 386.3,384.4 386.9,384.1 387.6,383.7 388.2,383.1 388.7,382.4 389.3,381.6 389.8,380.6 390.3,379.5 390.8,378.2 391.2,376.8 391.5,375.3 391.8,373.6 392.0,371.7 392.1,369.6 392.2,367.5" stroke="#ffff0a" stroke-width="2.32"/>
<polyline points="392.2,367.5 392.3,365.4 392.4,363.4 392.5,361.6 392.4,359.7" stroke="#ffff33" stroke-width="2.28"/>
<polyline points="392.4,359.7 392.4,358.0 392.4,356.2 392.5,354.4 392.6,352.6 392.9,350.8 393.3,348.9 393.7,347.1 394.2,345.3 394.7,343.5 395.2,341.8 395.8,340.2" stroke="#ffff5c" stroke-width="2.24"/>
<polyline points="395.8,340.2 396.3,338.6 396.9,337.1 397.5,335.7 398.2,334.4" stroke="#ffff85" stroke-width="2.21"/>
<polyline points="398.2,334.4 398.9,333.2 399.6,332.2 400.4,331.3" stroke="#ffffad" stroke-width="2.17"/>
<polyline points="400.4,331.3 401.3,330.5 402.2,329.9 403.0,329.3 403.9,328.9 404.7,328.5 405.6,328.3 406.5,328.2 407.3,328.2" stroke="#ffffd6" stroke-width="2.14"/>
<polyline points="407.3,328.2 408.1,328.3 408.8,328.4 409.4,328.7 410.0,329.0 410.4,329.5 410.8,329.9 411.2,330.3 411.4,330.6 411.6,330.7 411.7,330.5 411.7,330.4 411.7,330.2 411.6,330.3 411.4,330.6 411.2,331.2" stroke="#ffffad" stroke-width="2.17"/>
<polyline points="411.2,331.2 410.8,332.0 410.4,332.9 410.0,334.0" stroke="#ffffd6" stroke-width="2.14"/>
<polyline points="407.3,339.3 406.4,340.8 405.4,342.5 404.6,344.3" stroke="#ffffd6" stroke-width="2.14"/>
<polyline points="404.6,344.3 403.9,346.1 403.2,348.1 402.6,350.2 402.1,352.4" stroke="#ffffad" stroke-width="2.17"/>
<polyline points="402.1,352.4 401.7,354.7 401.3,356.9 401.0,359.1 400.9,361.3 400.8,363.6 400.8,365.9" stroke="#ffff85" stroke-width="2.21"/>
<polyline points="400.8,365.9 400.9,368.1 401.1,370.2 401.3,372.1 401.5,373.7" stroke="#ffffad" stroke-width="2.17"/>
<polyline points="401.5,373.7 401.9,375.1 402.3,376.4 402.7,377.6" stroke="#ffffd6" stroke-width="2.14"/>
<polyline points="404.6,380.5 405.4,381.3 406.2,382.0" stroke="#ffffd6" stroke-width="2.14"/>
<polyline points="406.2,382.0 407.1,382.6" stroke="#ffffad" stroke-width="2.17"/>
<polyline points="407.1,382.6 408.0,383.0 408.8,383.3" stroke="#ffff85" stroke-width="2.21"/>
<polyline points="408.8,383.3 409.6,383.4 410.4,383.4 411.1,383.2 411.8,382.9" stroke="#ffff5c" stroke-width="2.24"/>
<polyline points="411.8,382.9 412.4,382.4 412.9,381.8 413.3,380.9 413.6,379.9 413.8,378.7 413.9,377.4 414.0,375.9 414.0,374.2 413.9,372.3 413.6,370.2 413.3,367.9 412.9,365.6 412.7,363.4 412.5,361.3 412.4,359.4 412.4,357.6 412.5,355.9 412.6,354.1 412.8,352.4 413.1,350.5 413.6,348.4 414.1,346.1 414.7,343.9 415.3,341.6 416.1,339.4 416.8,337.5 417.6,335.8 418.6,334.1" stroke="#ffff33" stroke-width="2.28"/>
<polyline points="418.6,334.1 419.5,332.6 420.5,331.2 421.4,329.9 422.2,328.9 422.9,328.0" stroke="#ffff5c" stroke-width="2.24"/>
<polyline points="422.9,328.0 423.4,327.4 423.8,326.9 424.3,326.5 424.9,326.1" stroke="#ffff85" stroke-width="2.21"/>
<polyline points="424.9,326.1 425.6,325.6 426.5,325.1" stroke="#ffffad" stroke-width="2.17"/>
<polyline points="426.5,325.1 427.6,324.6" stroke="#ffff85" stroke-width="2.21"/>
<polyline points="427.6,324.6 428.8,324.1 430.0,323.7 431.1,323.3" stroke="#ffff5c" stroke-width="2.24"/>
<polyline points="431.1,323.3 432.1,323.0 432.9,322.9 433.7,322.8" stroke="#ffff33" stroke-width="2.28"/>
<polyline points="433.7,322.8 434.4,322.8 435.1,322.8 435.8,322.9 436.4,323.0 437.0,323.2 437.7,323.5 438.3,323.8 438.8,324.1" stroke="#ffff0a" stroke-width="2.32"/>
<polyline points="438.8,324.1 439.3,324.4 439.6,324.6 439.8,324.6 440.0,324.5 440.0,324.4 439.9,324.3 439.8,324.3 439.6,324.6 439.4,325.0" stroke="#ffff33" stroke-width="2.28"/>
<polyline points="439.4,325.0 439.1,325.6" stroke="#ffff5c" stroke-width="2.24"/>
<polyline points="439.1,325.6 438.8,326.4" stroke="#ffff85" stroke-width="2.21"/>
<polyline points="438.8,326.4 438.4,327.2" stroke="#ffffad" stroke-width="2.17"/>
<polyline points="438.4,327.2 437.9,328.0" stroke="#ffffd6" stroke-width="2.14"/>
<polyline points="432.0,340.1 431.2,342.4 430.5,344.8" stroke="#ffffd6" stroke-width="2.14"/>
<polyline points="430.5,344.8 429.9,347.2 429.4,349.7" stroke="#ffffad" stroke-width="2.17"/>
<polyline points="429.4,349.7 428.9,352.3 428.5,355.1 428.1,357.8 427.9,360.6" stroke="#ffff85" stroke-width="2.21"/>
<polyline points="427.9,360.6 427.8,363.4 427.8,366.2" stroke="#ffff5c" stroke-width="2.24"/>
<polyline points="427.8,366.2 427.9,369.1" stroke="#ffff85" stroke-width="2.21"/>
<polyline points="427.9,369.1 428.2,372.0 428.5,374.9" stroke="#ffffad" stroke-width="2.17"/>
<polyline points="428.5,374.9 429.0,377.8 429.5,380.7 430.1,383.7 430.8,386.7 431.6,389.7 432.4,392.7" stroke="#ffffd6" stroke-width="2.14"/>
<polyline points="432.4,392.7 433.3,395.5 434.2,398.0 435.2,400.2" stroke="#ffffad" stroke-width="2.17"/>
<polyline points="435.2,400.2 436.2,402.3 437.3,404.2 438.3,406.0 439.3,407.5" stroke="#ffff85" stroke-width="2.21"/>
<polyline points="439.3,407.5 440.3,408.8 441.2,409.8 442.1,410.7" stroke="#ffff5c" stroke-width="2.24"/>
<polyline points="442.1,410.7 442.9,411.3 443.7,411.8" stroke="#ffff33" stroke-width="2.28"/>
<polyline points="443.7,411.8 444.4,412.0 445.0,412.0 445.6,411.8 446.1,411.5" stroke="#ffff0a" stroke-width="2.32"/>
<polyline points="446.1,411.5 446.5,410.9 446.8,410.1" stroke="#ffff33" stroke-width="2.28"/>
<polyline points="446.8,410.1 447.0,409.1 447.2,407.7 447.3,406.0" stroke="#ffff5c" stroke-width="2.24"/>
<polyline points="447.3,406.0 447.3,403.9 447.2,401.5 447.0,398.9 446.8,396.3" stroke="#ffff85" stroke-width="2.21"/>
<polyline points="446.8,396.3 446.5,393.7 446.2,390.9" stroke="#ffffad" stroke-width="2.17"/>
<polyline points="446.2,390.9 445.8,388.0 445.3,385.0 444.9,382.0 444.4,379.1" stroke="#ffff85" stroke-width="2.21"/>
<polyline points="444.4,379.1 444.0,376.4 443.5,373.8 443.1,371.3 442.7,369.0 442.3,366.7" stroke="#ffff5c" stroke-width="2.24"/>
<polyline points="442.3,366.7 442.0,364.5 441.8,362.3 441.7,360.4 441.7,358.5" stroke="#ffff33" stroke-width="2.28"/>
<polyline points="441.7,358.5 441.7,356.8 441.8,355.1 442.0,353.4 442.2,351.5 442.5,349.6" stroke="#ffff5c" stroke-width="2.24"/>
<polyline points="442.5,349.6 442.9,347.6 443.4,345.6 443.9,343.6 444.5,341.6" stroke="#ffff85" stroke-width="2.21"/>
<polyline points="444.5,341.6 445.0,339.7 445.7,337.7 446.4,335.8" stroke="#ffffad" stroke-width="2.17"/>
<polyline points="446.4,335.8 447.1,333.8 447.9,332.0 448.6,330.3 449.4,328.9 450.0,327.7 450.7,326.6" stroke="#ffffd6" stroke-width="2.14"/>
<polyline points="455.7,323.1 456.8,322.9 458.0,322.8 459.1,322.7" stroke="#ffffd6" stroke-width="2.14"/>
<polyline points="459.1,322.7 460.2,322.8 461.2,323.1" stroke="#ffffad" stroke-width="2.17"/>
<polyline points="461.2,323.1 462.2,323.6" stroke="#ffff85" stroke-width="2.21"/>
<polyline points="462.2,323.6 463.3,324.2 464.2,324.8 465.0,325.3" stroke="#ffff5c" stroke-width="2.24"/>
<polyline points="465.0,325.3 465.6,325.6 465.9,325.7 466.1,325.6 466.1,325.5 466.0,325.3 465.8,325.4 465.6,325.6 465.3,326.2" stroke="#ffff33" stroke-width="2.28"/>
<polyline points="465.3,326.2 464.9,326.9 464.4,327.8 463.9,328.8" stroke="#ffff5c" stroke-width="2.24"/>
<polyline points="463.9,328.8 463.3,329.9" stroke="#ffff85" stroke-width="2.21"/>
<polyline points="463.3,329.9 462.7,331.0 462.1,332.2 461.3,333.5" stroke="#ffffad" stroke-width="2.17"/>
<polyline points="461.3,333.5 460.5,334.9 459.7,336.3 459.0,337.9 458.4,339.7 457.9,341.5 457.5,343.5" stroke="#ffffd6" stroke-width="2.14"/>
<polyline points="457.5,343.5 457.1,345.6 456.8,347.8" stroke="#ffffad" stroke-width="2.17"/>
<polyline points="456.8,347.8 456.6,350.2" stroke="#ffff85" stroke-width="2.21"/>
<polyline points="456.6,350.2 456.5,352.6 456.5,355.3 456.7,358.1" stroke="#ffff5c" stroke-width="2.24"/>
<polyline points="456.7,358.1 457.0,361.1 457.3,364.1" stroke="#ffff33" stroke-width="2.28"/>
<polyline points="457.3,364.1 457.7,367.1 458.0,369.9 458.3,372.6 458.6,375.2 459.0,377.8 459.3,380.3 459.7,382.7 460.2,385.0 460.6,387.3 461.1,389.6 461.6,391.7 462.1,393.7 462.7,395.5 463.4,396.9 464.2,397.9 465.0,398.7 465.9,399.1 466.9,399.4" stroke="#ffff0a" stroke-width="2.32"/>
<polyline points="466.9,399.4 467.8,399.5 468.8,399.5 469.8,399.4 470.9,399.1" stroke="#ffff00" stroke-width="3.23"/>
<polyline points="470.9,399.1 472.0,398.6 473.1,398.0 474.0,397.2 474.8,396.2 475.5,395.1" stroke="#ffff0a" stroke-width="2.32"/>
<polyline points="475.5,395.1 476.1,393.8 476.6,392.3" stroke="#ffff33" stroke-width="2.28"/>
<polyline points="476.6,392.3 477.0,390.7" stroke="#ffff5c" stroke-width="2.24"/>
<polyline points="477.0,390.7 477.3,389.0 477.4,387.2" stroke="#ffff85" stroke-width="2.21"/>
<polyline points="477.4,387.2 477.4,385.3 477.2,383.2" stroke="#ffffad" stroke-width="2.17"/>
<polyline points="477.2,383.2 477.0,381.1 476.6,378.8 476.2,376.5 475.7,374.2 475.2,371.8 474.6,369.3" stroke="#ffffd6" stroke-width="2.14"/>
<polyline points="474.6,369.3 473.9,366.8 473.2,364.2" stroke="#ffffad" stroke-width="2.17"/>
<polyline points="473.2,364.2 472.6,361.6" stroke="#ffff85" stroke-width="2.21"/>
<polyline points="472.6,361.6 472.0,359.1 471.5,356.5" stroke="#ffff5c" stroke-width="2.24"/>
<polyline points="471.5,356.5 471.0,353.9 470.6,351.3 470.2,348.7 470.0,346.3" stroke="#ffff85" stroke-width="2.21"/>
<polyline points="470.0,346.3 469.9,344.0 469.9,341.9 470.1,339.8" stroke="#ffffad" stroke-width="2.17"/>
<polyline points="470.1,339.8 470.5,337.9 470.9,336.2 471.4,334.6 472.0,333.2 472.7,332.0 473.6,331.0 474.5,330.2 475.5,329.5 476.5,328.9 477.4,328.4 478.4,328.1" stroke="#ffffd6" stroke-width="2.14"/>
<polyline points="478.4,328.1 479.3,327.9" stroke="#ffffad" stroke-width="2.17"/>
<polyline points="479.3,327.9 480.3,327.9 481.2,327.9" stroke="#ffff85" stroke-width="2.21"/>
<polyline points="481.2,327.9 482.1,328.0" stroke="#ffff5c" stroke-width="2.24"/>
<polyline points="482.1,328.0 482.8,328.2 483.5,328.5 484.2,329.0" stroke="#ffff33" stroke-width="2.28"/>
<polyline points="484.2,329.0 484.8,329.6 485.3,330.2 485.7,330.7 486.1,331.0 486.3,331.1 486.4,331.0 486.4,330.9 486.4,330.7 486.3,330.7 486.1,331.0 485.8,331.6" stroke="#ffff5c" stroke-width="2.24"/>
<polyline points="485.8,331.6 485.4,332.3 484.9,333.1 484.4,334.1 483.9,335.2" stroke="#ffff85" stroke-width="2.21"/>
<polyline points="483.9,335.2 483.5,336.4 483.0,337.8" stroke="#ffffad" stroke-width="2.17"/>
<polyline points="483.0,337.8 482.5,339.2 482.1,340.8 481.7,342.5 481.4,344.3" stroke="#ffff85" stroke-width="2.21"/>
<polyline points="481.4,344.3 481.3,346.1 481.4,348.1 481.7,350.2 482.1,352.4 482.7,354.7" stroke="#ffff5c" stroke-width="2.24"/>
<polyline points="482.7,354.7 483.3,356.9 483.9,359.1 484.6,361.3 485.5,363.5 486.4,365.6 487.3,367.8 488.3,370.0 489.3,372.1 490.3,374.2 491.4,376.4" stroke="#ffff33" stroke-width="2.28"/>
<polyline points="491.4,376.4 492.5,378.5 493.7,380.5 494.8,382.4 495.8,383.9 496.8,385.2 497.7,386.3" stroke="#ffff0a" stroke-width="2.32"/>
<polyline points="497.7,386.3 498.7,387.2 499.6,387.9 500.4,388.4 501.2,388.7 501.9,388.8 502.5,388.6 503.1,388.3 503.6,387.8" stroke="#ffff00" stroke-width="3.23"/>
<polyline points="503.6,387.8 504.1,387.0 504.4,386.1 504.7,384.9 505.0,383.5" stroke="#ffff0a" stroke-width="2.32"/>
<polyline points="505.0,383.5 505.2,381.9 505.3,380.1" stroke="#ffff33" stroke-width="2.28"/>
<polyline points="505.3,380.1 505.3,378.3 505.1,376.4 504.7,374.4" stroke="#ffff5c" stroke-width="2.24"/>
<polyline points="504.7,374.4 504.1,372.3 503.4,370.1 502.7,367.9 501.9,365.6" stroke="#ffff85" stroke-width="2.21"/>
<polyline points="501.9,365.6 501.2,363.4 500.4,361.3" stroke="#ffffad" stroke-width="2.17"/>
<polyline points="500.4,361.3 499.7,359.1 498.8,356.9 498.1,354.8 497.4,352.6" stroke="#ffff85" stroke-width="2.21"/>
<polyline points="497.4,352.6 496.9,350.5 496.4,348.3 496.1,346.0 495.9,343.7 495.7,341.5 495.7,339.4 495.8,337.5 496.0,335.8" stroke="#ffff5c" stroke-width="2.24"/>
<polyline points="496.0,335.8 496.4,334.3 496.9,332.9 497.5,331.6 498.2,330.4" stroke="#ffff85" stroke-width="2.21"/>
<polyline points="498.2,330.4 499.0,329.3 499.9,328.3 501.0,327.5 502.1,326.7 503.3,326.1 504.4,325.6 505.5,325.2 506.5,325.0 507.5,324.9 508.5,325.0 509.4,325.1 510.2,325.4 510.9,325.6 511.5,326.0 511.9,326.5" stroke="#ffffad" stroke-width="2.17"/>
<polyline points="511.9,326.5 512.3,327.1 512.6,327.6 512.9,328.1 513.1,328.4 513.2,328.5 513.3,328.4 513.4,328.1 513.3,328.0 513.2,328.0 513.1,328.4 512.7,329.3" stroke="#ffffd6" stroke-width="2.14"/>
<polyline points="511.3,353.3 512.0,354.8 512.8,356.4" stroke="#ffffd6" stroke-width="2.14"/>
<polyline points="512.8,356.4 513.7,358.1" stroke="#ffffad" stroke-width="2.17"/>
<polyline points="513.7,358.1 514.7,359.9 515.7,361.6" stroke="#ffff85" stroke-width="2.21"/>
<polyline points="515.7,361.6 516.6,363.1" stroke="#ffff5c" stroke-width="2.24"/>
<polyline points="516.6,363.1 517.4,364.5 518.0,365.7 518.6,366.8 519.1,367.7 519.5,368.5 520.0,369.1 520.6,369.5 521.3,369.6" stroke="#ffff33" stroke-width="2.28"/>
<polyline points="521.3,369.6 522.0,369.6 522.7,369.3 523.5,368.9" stroke="#ffff5c" stroke-width="2.24"/>
<polyline points="523.5,368.9 524.2,368.4" stroke="#ffff85" stroke-width="2.21"/>
<polyline points="524.2,368.4 524.9,367.7 525.7,367.0 526.5,366.0" stroke="#ffffad" stroke-width="2.17"/>
<polyline points="526.5,366.0 527.3,364.9 528.0,363.8 528.7,362.5 529.3,361.3 529.7,360.0 530.1,358.6 530.5,357.2 530.7,355.7" stroke="#ffffd6" stroke-width="2.14"/>
<polyline points="530.7,355.7 530.8,354.2 530.8,352.6 530.5,351.0 530.0,349.3 529.4,347.5 528.8,345.7 528.1,343.8 527.5,341.8 527.0,339.8 526.4,337.7" stroke="#ffffad" stroke-width="2.17"/>
<polyline points="526.4,337.7 525.8,335.5 525.2,333.3 524.7,331.1 524.3,328.9 523.9,326.7 523.5,324.4 523.2,322.2 523.0,320.0 522.8,317.9 522.8,315.9 522.8,314.0 522.9,312.2 523.1,310.5 523.4,308.9 523.8,307.5 524.3,306.2 524.9,305.1 525.6,304.3 526.3,303.6 527.2,303.0 528.2,302.4 529.3,301.9 530.5,301.4 532.0,300.9 533.5,300.5 535.1,300.2 536.6,299.9 537.9,299.7 539.1,299.5 540.2,299.4 541.2,299.3 542.2,299.3 543.1,299.4 543.9,299.5 544.7,299.8" stroke="#ffffd6" stroke-width="2.14"/>
<polyline points="544.9,305.2 544.4,306.2 543.9,307.3" stroke="#ffffd6" stroke-width="2.14"/>
<polyline points="543.9,307.3 543.3,308.4" stroke="#ffffad" stroke-width="2.17"/>
<polyline points="543.3,308.4 542.8,309.7 542.3,311.0" stroke="#ffff85" stroke-width="2.21"/>
<polyline points="542.3,311.0 541.9,312.4" stroke="#ffff5c" stroke-width="2.24"/>
<polyline points="541.9,312.4 541.6,313.8 541.3,315.2" stroke="#ffff33" stroke-width="2.28"/>
<polyline points="541.3,315.2 541.0,316.6 540.9,318.1 540.7,319.6" stroke="#ffff0a" stroke-width="2.32"/>
<polyline points="540.7,319.6 540.7,321.1 540.7,322.4 540.8,323.6 541.0,324.8 541.3,326.0 541.6,327.0 541.9,328.0 542.2,328.9 542.4,329.6 542.7,330.3 542.9,330.8 543.1,331.3 543.3,331.8 543.5,332.3 543.7,332.9 543.9,333.4 544.1,333.9 544.3,334.4 544.5,334.8 544.6,335.1" stroke="#ffff00" stroke-width="3.23"/>
<polyline points="319.9,342.3 320.9,340.7 321.8,339.2 322.7,338.0 323.6,337.0 324.4,336.1 325.3,335.3 326.2,334.6 327.2,333.8 328.2,333.1 329.4,332.5 330.5,331.9 331.6,331.4 332.7,330.9 333.7,330.4 334.5,329.9 335.3,329.5" stroke="#ffeb00" stroke-width="2.03"/>
<polyline points="341.7,351.1 342.5,348.6 343.4,346.1 344.3,343.7 345.3,341.3 346.4,339.0 347.5,336.7 348.6,334.4 349.9,332.1 351.2,329.8 352.6,327.5" stroke="#ffeb00" stroke-width="2.03"/>
<polyline points="466.9,399.4 467.8,399.5 468.8,399.5 469.8,399.4 470.9,399.1" stroke="#ffeb00" stroke-width="2.03"/>
<polyline points="497.7,386.3 498.7,387.2 499.6,387.9 500.4,388.4 501.2,388.7 501.9,388.8 502.5,388.6 503.1,388.3 503.6,387.8" stroke="#ffeb00" stroke-width="2.03"/>
<polyline points="540.7,319.6 540.7,321.1 540.7,322.4" stroke="#ffeb00" stroke-width="2.03"/>
<polyline points="540.7,322.4 540.8,323.6 541.0,324.8 541.3,326.0 541.6,327.0 541.9,328.0 542.2,328.9 542.4,329.6 542.7,330.3 542.9,330.8 543.1,331.3" stroke="#ffcf00" stroke-width="2.11"/>
<polyline points="543.1,331.3 543.3,331.8 543.5,332.3 543.7,332.9" stroke="#ffb400" stroke-width="2.18"/>
<polyline points="543.7,332.9 543.9,333.4" stroke="#ff9900" stroke-width="2.26"/>
<polyline points="543.9,333.4 544.1,333.9" stroke="#ff7e00" stroke-width="2.34"/>
<polyline points="544.1,333.9 544.3,334.4" stroke="#ff6300" stroke-width="2.41"/>
</g>
<path d="M311.2,368.0 L311.4,367.0 L311.7,365.7 L312.0,364.1 L312.3,362.4 L312.7,360.7 L313.2,359.1 L313.6,357.5 L314.1,355.9 L314.6,354.3 L315.1,352.7 L315.7,351.0 L316.4,349.4 L317.2,347.7 L318.0,345.9 L319.0,344.0 L319.9,342.3 L320.9,340.7 L321.8,339.2 L322.7,338.0 L323.6,337.0 L324.4,336.1 L325.3,335.3 L326.2,334.6 L327.2,333.8 L328.2,333.1 L329.4,332.5 L330.5,331.9 L331.6,331.4 L332.7,330.9 L333.7,330.4 L334.5,329.9 L335.3,329.5 L336.0,329.2 L336.7,328.8 L337.3,328.5 L338.0,328.2 L338.7,327.9 L339.5,327.6 L340.2,327.3 L340.9,327.1 L341.5,326.9 L341.9,326.7 L342.1,326.6 L342.2,326.5 L342.3,326.4 L342.2,326.4 L342.0,326.5 L341.9,326.7 L341.7,327.0 L341.4,327.3 L341.0,327.7 L340.6,328.3 L340.2,329.0 L339.7,330.0 L339.2,331.1 L338.6,332.5 L338.0,334.1 L337.3,335.9 L336.6,337.7 L335.8,339.7 L335.0,341.8 L334.1,344.0 L333.2,346.4 L332.2,348.9 L331.3,351.3 L330.4,353.7 L329.6,356.0 L328.9,358.3 L328.1,360.7 L327.4,363.0 L326.7,365.3 L326.1,367.7 L325.6,370.2 L325.1,372.7 L324.6,375.2 L324.2,377.8 L323.8,380.3 L323.5,382.9 L323.3,385.4 L323.1,388.0 L322.9,390.6 L322.8,393.2 L322.8,395.6 L322.9,398.0 L323.0,400.2 L323.2,402.4 L323.4,404.5 L323.7,406.5 L324.1,408.3 L324.6,409.9 L325.2,411.2 L325.9,412.4 L326.7,413.3 L327.6,414.1 L328.5,414.8 L329.4,415.2 L330.2,415.5 L331.2,415.6 L332.1,415.5 L333.1,415.3 L333.9,415.0 L334.8,414.6 L335.5,414.2 L336.2,413.7 L336.9,413.1 L337.5,412.5 L338.0,411.7 L338.4,410.9 L338.8,410.1 L339.0,409.2 L339.2,408.3 L339.3,407.2 L339.3,405.9 L339.3,404.5 L339.2,402.7 L339.0,400.7 L338.7,398.5 L338.4,396.2 L338.2,393.9 L338.0,391.5 L337.8,389.1 L337.7,386.6 L337.6,384.1 L337.5,381.5 L337.5,378.9 L337.6,376.4 L337.7,373.9 L337.8,371.3 L338.0,368.8 L338.3,366.3 L338.6,363.8 L339.1,361.3 L339.6,358.7 L340.2,356.2 L340.9,353.6 L341.7,351.1 L342.5,348.6 L343.4,346.1 L344.3,343.7 L345.3,341.3 L346.4,339.0 L347.5,336.7 L348.6,334.4 L349.9,332.1 L351.2,329.8 L352.6,327.5 L354.1,325.2 L355.6,323.0 L357.1,321.0 L358.5,319.2 L359.9,317.5 L361.2,316.0 L362.6,314.6 L363.9,313.4 L365.0,312.4 L366.1,311.6 L366.9,311.0 L367.7,310.6 L368.3,310.4 L368.8,310.3 L369.4,310.4 L370.0,310.5 L370.6,310.7 L371.2,311.0 L371.8,311.4 L372.3,311.9 L372.8,312.6 L373.2,313.3 L373.5,314.2 L373.7,315.1 L373.8,316.1 L373.9,317.3 L373.8,318.7 L373.6,320.2 L373.3,322.0 L372.9,324.0 L372.4,326.2 L371.8,328.5 L371.2,330.8 L370.4,333.2 L369.5,335.6 L368.4,338.1 L367.3,340.6 L366.1,343.2 L365.0,345.8 L363.9,348.3 L362.9,350.8 L361.9,353.3 L361.0,355.7 L360.1,358.2 L359.2,360.8 L358.5,363.4 L357.9,366.2 L357.3,368.9 L356.8,371.8 L356.5,374.7 L356.1,377.7 L355.9,380.7 L355.8,383.8 L355.8,387.1 L355.8,390.5 L356.0,393.8 L356.1,397.1 L356.3,400.1 L356.6,403.1 L356.9,406.1 L357.2,409.0 L357.6,411.7 L358.0,414.2 L358.5,416.3 L359.0,418.1 L359.6,419.6 L360.3,420.9 L360.9,421.9 L361.6,422.8 L362.2,423.5 L362.8,424.0 L363.3,424.3 L363.8,424.4 L364.4,424.3 L365.0,424.2 L365.6,423.9 L366.4,423.5 L367.2,423.0 L368.0,422.4 L368.9,421.6 L369.7,420.7 L370.4,419.6 L371.0,418.3 L371.6,416.9 L372.1,415.3 L372.5,413.6 L372.9,411.8 L373.2,409.9 L373.4,407.8 L373.6,405.5 L373.7,403.2 L373.8,400.7 L373.7,398.3 L373.6,395.8 L373.4,393.4 L373.1,390.9 L372.7,388.3 L372.2,385.8 L371.8,383.2 L371.5,380.7 L371.2,378.2 L370.8,375.6 L370.5,373.0 L370.3,370.5 L370.1,368.0 L370.0,365.6 L369.9,363.3 L369.8,361.0 L369.8,358.8 L369.9,356.7 L370.1,354.6 L370.4,352.6 L370.8,350.7 L371.4,348.7 L372.0,346.8 L372.7,345.1 L373.5,343.4 L374.3,341.8 L375.1,340.4 L376.1,339.1 L377.1,337.9 L378.1,336.8 L379.1,335.8 L380.1,334.9 L381.1,334.2 L382.1,333.5 L383.2,333.0 L384.2,332.6 L385.1,332.3 L385.9,332.1 L386.7,332.1 L387.4,332.2 L388.0,332.5 L388.6,332.8 L389.0,333.0 L389.4,333.2 L389.6,333.2 L389.7,333.1 L389.6,333.0 L389.6,332.9 L389.5,333.0 L389.4,333.2 L389.4,333.6 L389.4,334.2 L389.3,334.9 L389.3,335.7 L389.1,336.6 L388.7,337.5 L388.2,338.5 L387.5,339.6 L386.7,340.8 L385.9,342.1 L385.1,343.5 L384.4,345.1 L383.8,346.8 L383.2,348.7 L382.6,350.7 L382.1,352.7 L381.6,354.9 L381.2,356.9 L380.8,359.1 L380.6,361.3 L380.3,363.6 L380.2,365.8 L380.1,367.9 L380.1,369.9 L380.2,371.8 L380.3,373.6 L380.6,375.3 L380.9,376.9 L381.2,378.3 L381.6,379.6 L382.1,380.8 L382.6,381.8 L383.2,382.7 L383.8,383.5 L384.5,384.0 L385.1,384.4 L385.7,384.5 L386.3,384.4 L386.9,384.1 L387.6,383.7 L388.2,383.1 L388.7,382.4 L389.3,381.6 L389.8,380.6 L390.3,379.5 L390.8,378.2 L391.2,376.8 L391.5,375.3 L391.8,373.6 L392.0,371.7 L392.1,369.6 L392.2,367.5 L392.3,365.4 L392.4,363.4 L392.5,361.6 L392.4,359.7 L392.4,358.0 L392.4,356.2 L392.5,354.4 L392.6,352.6 L392.9,350.8 L393.3,348.9 L393.7,347.1 L394.2,345.3 L394.7,343.5 L395.2,341.8 L395.8,340.2 L396.3,338.6 L396.9,337.1 L397.5,335.7 L398.2,334.4 L398.9,333.2 L399.6,332.2 L400.4,331.3 L401.3,330.5 L402.2,329.9 L403.0,329.3 L403.9,328.9 L404.7,328.5 L405.6,328.3 L406.5,328.2 L407.3,328.2 L408.1,328.3 L408.8,328.4 L409.4,328.7 L410.0,329.0 L410.4,329.5 L410.8,329.9 L411.2,330.3 L411.4,330.6 L411.6,330.7 L411.7,330.5 L411.7,330.4 L411.7,330.2 L411.6,330.3 L411.4,330.6 L411.2,331.2 L410.8,332.0 L410.4,332.9 L410.0,334.0 L409.4,335.2 L408.8,336.4 L408.1,337.8 L407.3,339.3 L406.4,340.8 L405.4,342.5 L404.6,344.3 L403.9,346.1 L403.2,348.1 L402.6,350.2 L402.1,352.4 L401.7,354.7 L401.3,356.9 L401.0,359.1 L400.9,361.3 L400.8,363.6 L400.8,365.9 L400.9,368.1 L401.1,370.2 L401.3,372.1 L401.5,373.7 L401.9,375.1 L402.3,376.4 L402.7,377.6 L403.3,378.6 L403.9,379.6 L404.6,380.5 L405.4,381.3 L406.2,382.0 L407.1,382.6 L408.0,383.0 L408.8,383.3 L409.6,383.4 L410.4,383.4 L411.1,383.2 L411.8,382.9 L412.4,382.4 L412.9,381.8 L413.3,380.9 L413.6,379.9 L413.8,378.7 L413.9,377.4 L414.0,375.9 L414.0,374.2 L413.9,372.3 L413.6,370.2 L413.3,367.9 L412.9,365.6 L412.7,363.4 L412.5,361.3 L412.4,359.4 L412.4,357.6 L412.5,355.9 L412.6,354.1 L412.8,352.4 L413.1,350.5 L413.6,348.4 L414.1,346.1 L414.7,343.9 L415.3,341.6 L416.1,339.4 L416.8,337.5 L417.6,335.8 L418.6,334.1 L419.5,332.6 L420.5,331.2 L421.4,329.9 L422.2,328.9 L422.9,328.0 L423.4,327.4 L423.8,326.9 L424.3,326.5 L424.9,326.1 L425.6,325.6 L426.5,325.1 L427.6,324.6 L428.8,324.1 L430.0,323.7 L431.1,323.3 L432.1,323.0 L432.9,322.9 L433.7,322.8 L434.4,322.8 L435.1,322.8 L435.8,322.9 L436.4,323.0 L437.0,323.2 L437.7,323.5 L438.3,323.8 L438.8,324.1 L439.3,324.4 L439.6,324.6 L439.8,324.6 L440.0,324.5 L440.0,324.4 L439.9,324.3 L439.8,324.3 L439.6,324.6 L439.4,325.0 L439.1,325.6 L438.8,326.4 L438.4,327.2 L437.9,328.0 L437.5,328.9 L437.0,329.6 L436.5,330.3 L436.0,331.0 L435.4,331.9 L434.9,332.9 L434.2,334.3 L433.6,336.0 L432.8,337.9 L432.0,340.1 L431.2,342.4 L430.5,344.8 L429.9,347.2 L429.4,349.7 L428.9,352.3 L428.5,355.1 L428.1,357.8 L427.9,360.6 L427.8,363.4 L427.8,366.2 L427.9,369.1 L428.2,372.0 L428.5,374.9 L429.0,377.8 L429.5,380.7 L430.1,383.7 L430.8,386.7 L431.6,389.7 L432.4,392.7 L433.3,395.5 L434.2,398.0 L435.2,400.2 L436.2,402.3 L437.3,404.2 L438.3,406.0 L439.3,407.5 L440.3,408.8 L441.2,409.8 L442.1,410.7 L442.9,411.3 L443.7,411.8 L444.4,412.0 L445.0,412.0 L445.6,411.8 L446.1,411.5 L446.5,410.9 L446.8,410.1 L447.0,409.1 L447.2,407.7 L447.3,406.0 L447.3,403.9 L447.2,401.5 L447.0,398.9 L446.8,396.3 L446.5,393.7 L446.2,390.9 L445.8,388.0 L445.3,385.0 L444.9,382.0 L444.4,379.1 L444.0,376.4 L443.5,373.8 L443.1,371.3 L442.7,369.0 L442.3,366.7 L442.0,364.5 L441.8,362.3 L441.7,360.4 L441.7,358.5 L441.7,356.8 L441.8,355.1 L442.0,353.4 L442.2,351.5 L442.5,349.6 L442.9,347.6 L443.4,345.6 L443.9,343.6 L444.5,341.6 L445.0,339.7 L445.7,337.7 L446.4,335.8 L447.1,333.8 L447.9,332.0 L448.6,330.3 L449.4,328.9 L450.0,327.7 L450.7,326.6 L451.4,325.8 L452.1,325.1 L452.8,324.4 L453.7,323.9 L454.6,323.5 L455.7,323.1 L456.8,322.9 L458.0,322.8 L459.1,322.7 L460.2,322.8 L461.2,323.1 L462.2,323.6 L463.3,324.2 L464.2,324.8 L465.0,325.3 L465.6,325.6 L465.9,325.7 L466.1,325.6 L466.1,325.5 L466.0,325.3 L465.8,325.4 L465.6,325.6 L465.3,326.2 L464.9,326.9 L464.4,327.8 L463.9,328.8 L463.3,329.9 L462.7,331.0 L462.1,332.2 L461.3,333.5 L460.5,334.9 L459.7,336.3 L459.0,337.9 L458.4,339.7 L457.9,341.5 L457.5,343.5 L457.1,345.6 L456.8,347.8 L456.6,350.2 L456.5,352.6 L456.5,355.3 L456.7,358.1 L457.0,361.1 L457.3,364.1 L457.7,367.1 L458.0,369.9 L458.3,372.6 L458.6,375.2 L459.0,377.8 L459.3,380.3 L459.7,382.7 L460.2,385.0 L460.6,387.3 L461.1,389.6 L461.6,391.7 L462.1,393.7 L462.7,395.5 L463.4,396.9 L464.2,397.9 L465.0,398.7 L465.9,399.1 L466.9,399.4 L467.8,399.5 L468.8,399.5 L469.8,399.4 L470.9,399.1 L472.0,398.6 L473.1,398.0 L474.0,397.2 L474.8,396.2 L475.5,395.1 L476.1,393.8 L476.6,392.3 L477.0,390.7 L477.3,389.0 L477.4,387.2 L477.4,385.3 L477.2,383.2 L477.0,381.1 L476.6,378.8 L476.2,376.5 L475.7,374.2 L475.2,371.8 L474.6,369.3 L473.9,366.8 L473.2,364.2 L472.6,361.6 L472.0,359.1 L471.5,356.5 L471.0,353.9 L470.6,351.3 L470.2,348.7 L470.0,346.3 L469.9,344.0 L469.9,341.9 L470.1,339.8 L470.5,337.9 L470.9,336.2 L471.4,334.6 L472.0,333.2 L472.7,332.0 L473.6,331.0 L474.5,330.2 L475.5,329.5 L476.5,328.9 L477.4,328.4 L478.4,328.1 L479.3,327.9 L480.3,327.9 L481.2,327.9 L482.1,328.0 L482.8,328.2 L483.5,328.5 L484.2,329.0 L484.8,329.6 L485.3,330.2 L485.7,330.7 L486.1,331.0 L486.3,331.1 L486.4,331.0 L486.4,330.9 L486.4,330.7 L486.3,330.7 L486.1,331.0 L485.8,331.6 L485.4,332.3 L484.9,333.1 L484.4,334.1 L483.9,335.2 L483.5,336.4 L483.0,337.8 L482.5,339.2 L482.1,340.8 L481.7,342.5 L481.4,344.3 L481.3,346.1 L481.4,348.1 L481.7,350.2 L482.1,352.4 L482.7,354.7 L483.3,356.9 L483.9,359.1 L484.6,361.3 L485.5,363.5 L486.4,365.6 L487.3,367.8 L488.3,370.0 L489.3,372.1 L490.3,374.2 L491.4,376.4 L492.5,378.5 L493.7,380.5 L494.8,382.4 L495.8,383.9 L496.8,385.2 L497.7,386.3 L498.7,387.2 L499.6,387.9 L500.4,388.4 L501.2,388.7 L501.9,388.8 L502.5,388.6 L503.1,388.3 L503.6,387.8 L504.1,387.0 L504.4,386.1 L504.7,384.9 L505.0,383.5 L505.2,381.9 L505.3,380.1 L505.3,378.3 L505.1,376.4 L504.7,374.4 L504.1,372.3 L503.4,370.1 L502.7,367.9 L501.9,365.6 L501.2,363.4 L500.4,361.3 L499.7,359.1 L498.8,356.9 L498.1,354.8 L497.4,352.6 L496.9,350.5 L496.4,348.3 L496.1,346.0 L495.9,343.7 L495.7,341.5 L495.7,339.4 L495.8,337.5 L496.0,335.8 L496.4,334.3 L496.9,332.9 L497.5,331.6 L498.2,330.4 L499.0,329.3 L499.9,328.3 L501.0,327.5 L502.1,326.7 L503.3,326.1 L504.4,325.6 L505.5,325.2 L506.5,325.0 L507.5,324.9 L508.5,325.0 L509.4,325.1 L510.2,325.4 L510.9,325.6 L511.5,326.0 L511.9,326.5 L512.3,327.1 L512.6,327.6 L512.9,328.1 L513.1,328.4 L513.2,328.5 L513.3,328.4 L513.4,328.1 L513.3,328.0 L513.2,328.0 L513.1,328.4 L512.7,329.3 L512.3,330.4 L511.7,331.8 L511.2,333.3 L510.7,334.9 L510.3,336.4 L509.9,338.0 L509.5,339.6 L509.1,341.2 L508.8,342.9 L508.7,344.6 L508.7,346.1 L509.0,347.6 L509.4,349.1 L509.9,350.5 L510.6,351.9 L511.3,353.3 L512.0,354.8 L512.8,356.4 L513.7,358.1 L514.7,359.9 L515.7,361.6 L516.6,363.1 L517.4,364.5 L518.0,365.7 L518.6,366.8 L519.1,367.7 L519.5,368.5 L520.0,369.1 L520.6,369.5 L521.3,369.6 L522.0,369.6 L522.7,369.3 L523.5,368.9 L524.2,368.4 L524.9,367.7 L525.7,367.0 L526.5,366.0 L527.3,364.9 L528.0,363.8 L528.7,362.5 L529.3,361.3 L529.7,360.0 L530.1,358.6 L530.5,357.2 L530.7,355.7 L530.8,354.2 L530.8,352.6 L530.5,351.0 L530.0,349.3 L529.4,347.5 L528.8,345.7 L528.1,343.8 L527.5,341.8 L527.0,339.8 L526.4,337.7 L525.8,335.5 L525.2,333.3 L524.7,331.1 L524.3,328.9 L523.9,326.7 L523.5,324.4 L523.2,322.2 L523.0,320.0 L522.8,317.9 L522.8,315.9 L522.8,314.0 L522.9,312.2 L523.1,310.5 L523.4,308.9 L523.8,307.5 L524.3,306.2 L524.9,305.1 L525.6,304.3 L526.3,303.6 L527.2,303.0 L528.2,302.4 L529.3,301.9 L530.5,301.4 L532.0,300.9 L533.5,300.5 L535.1,300.2 L536.6,299.9 L537.9,299.7 L539.1,299.5 L540.2,299.4 L541.2,299.3 L542.2,299.3 L543.1,299.4 L543.9,299.5 L544.7,299.8 L545.5,300.2 L546.2,300.7 L546.7,301.2 L547.2,301.6 L547.6,301.9 L547.9,302.0 L548.0,301.9 L548.0,301.8 L548.0,301.6 L547.8,301.7 L547.6,301.9 L547.3,302.3 L546.8,302.9 L546.2,303.6 L545.5,304.4 L544.9,305.2 L544.4,306.2 L543.9,307.3 L543.3,308.4 L542.8,309.7 L542.3,311.0 L541.9,312.4 L541.6,313.8 L541.3,315.2 L541.0,316.6 L540.9,318.1 L540.7,319.6 L540.7,321.1 L540.7,322.4 L540.8,323.6 L541.0,324.8 L541.3,326.0 L541.6,327.0 L541.9,328.0 L542.2,328.9 L542.4,329.6 L542.7,330.3 L542.9,330.8 L543.1,331.3 L543.3,331.8 L543.5,332.3 L543.7,332.9 L543.9,333.4 L544.1,333.9 L544.3,334.4 L544.5,334.8 L544.6,335.1" fill="none" stroke="#7a7a7a" stroke-width="0.70" stroke-dasharray="5 2.5"/>
<g fill="none" stroke-linecap="round" stroke-linejoin="round" filter="url(#bl)">
<polyline points="544.3,334.4 544.5,334.8" stroke="#ff4700" stroke-width="2.49"/>
<polyline points="544.5,334.8 544.6,335.1" stroke="#ff2c00" stroke-width="2.56"/>
</g>
<rect x="554.2" y="259.7" width="18.0" height="216.3" fill="url(#hot)" stroke="#9a9a9a" stroke-width="0.7"/>
<path d="M572.2,476.0 h-2 M572.2,451.6 h-2 M572.2,427.2 h-2 M572.2,402.8 h-2 M572.2,378.4 h-2 M572.2,354.0 h-2 M572.2,329.6 h-2 M572.2,305.2 h-2 M572.2,280.8 h-2 " stroke="#555" stroke-width="0.6" fill="none"/>
<path d="M57.8,526.2 V714.0 H250.6" fill="none" stroke="#a0a0a0" stroke-width="1.0"/>
<path d="M76.5,714.0 v-2.5 M115.3,714.0 v-2.5 M154.1,714.0 v-2.5 M192.9,714.0 v-2.5 M231.7,714.0 v-2.5 M57.8,714.1 h2.5 M57.8,675.2 h2.5 M57.8,636.4 h2.5 M57.8,597.5 h2.5 M57.8,558.6 h2.5 " fill="none" stroke="#a0a0a0" stroke-width="1"/>
<g fill="none" stroke-linecap="round" stroke-linejoin="round" filter="url(#bl)">
<polyline points="76.4,598.0 77.0,599.1" stroke="#ffffd6" stroke-width="2.72"/>
<polyline points="77.0,599.1 77.8,600.7" stroke="#ffffad" stroke-width="2.74"/>
<polyline points="77.8,600.7 78.8,602.5 79.8,604.5" stroke="#ffff85" stroke-width="2.76"/>
<polyline points="79.8,604.5 81.0,606.5" stroke="#ffff5c" stroke-width="2.78"/>
<polyline points="81.0,606.5 82.1,608.4 83.3,610.2 84.6,612.0 85.9,613.9 87.3,615.7 88.6,617.3 90.0,618.8 91.3,620.0 92.7,621.1" stroke="#ffff33" stroke-width="2.80"/>
<polyline points="92.7,621.1 94.0,622.1 95.4,622.9 96.7,623.6 97.9,624.2 99.0,624.6" stroke="#ffff5c" stroke-width="2.78"/>
<polyline points="99.0,624.6 100.1,624.9 101.1,625.1 102.1,625.2 103.2,625.2" stroke="#ffff85" stroke-width="2.76"/>
<polyline points="103.2,625.2 104.2,625.1 105.2,624.9 106.3,624.7 107.3,624.4 108.4,623.9 109.4,623.3 110.5,622.6 111.6,621.6 112.7,620.5" stroke="#ffffad" stroke-width="2.74"/>
<polyline points="112.7,620.5 113.8,619.3 114.8,617.9 115.8,616.3 116.8,614.7 117.7,612.9 118.5,610.9 119.3,608.8 120.0,606.6 120.8,604.3 121.5,602.1 122.3,599.8 123.1,597.4" stroke="#ffffd6" stroke-width="2.72"/>
<polyline points="123.1,597.4 123.8,595.0 124.6,592.5" stroke="#ffffad" stroke-width="2.74"/>
<polyline points="124.6,592.5 125.4,590.2" stroke="#ffff85" stroke-width="2.76"/>
<polyline points="125.4,590.2 126.3,587.9 127.2,585.6 128.2,583.3" stroke="#ffff5c" stroke-width="2.78"/>
<polyline points="128.2,583.3 129.2,581.1 130.3,579.0" stroke="#ffff33" stroke-width="2.80"/>
<polyline points="130.3,579.0 131.4,577.0 132.6,575.2 133.8,573.7 135.1,572.2 136.4,571.0 137.8,569.8 139.1,568.8 140.5,568.0 141.8,567.3 143.2,566.7 144.5,566.3 145.9,566.0 147.1,565.9 148.4,565.8 149.5,565.8 150.7,565.9 151.7,566.1 152.8,566.4" stroke="#ffff0a" stroke-width="2.82"/>
<polyline points="152.8,566.4 153.7,566.9 154.7,567.3 155.6,567.9" stroke="#ffff33" stroke-width="2.80"/>
<polyline points="155.6,567.9 156.5,568.6" stroke="#ffff5c" stroke-width="2.78"/>
<polyline points="156.5,568.6 157.3,569.3 158.1,570.1" stroke="#ffff85" stroke-width="2.76"/>
<polyline points="158.1,570.1 158.8,571.1" stroke="#ffffad" stroke-width="2.74"/>
<polyline points="158.8,571.1 159.4,572.1 160.0,573.2" stroke="#ffffd6" stroke-width="2.72"/>
<polyline points="149.6,608.4 148.2,610.0 146.8,611.5 145.3,613.1 143.8,614.7 142.2,616.2 140.5,617.8 138.9,619.4 137.3,621.0 135.7,622.7" stroke="#ffffd6" stroke-width="2.72"/>
<polyline points="135.7,622.7 134.1,624.4 132.5,626.1 130.9,627.8 129.3,629.5 127.9,631.1 126.4,632.6 125.0,634.1" stroke="#ffffad" stroke-width="2.74"/>
<polyline points="125.0,634.1 123.7,635.6 122.4,637.0 121.1,638.4 120.0,639.9 118.9,641.5" stroke="#ffffd6" stroke-width="2.72"/>
<polyline points="115.8,675.6 116.8,676.9 117.9,678.1" stroke="#ffffd6" stroke-width="2.72"/>
<polyline points="117.9,678.1 119.1,679.2" stroke="#ffffad" stroke-width="2.74"/>
<polyline points="119.1,679.2 120.5,680.3" stroke="#ffff85" stroke-width="2.76"/>
<polyline points="120.5,680.3 121.8,681.4" stroke="#ffff5c" stroke-width="2.78"/>
<polyline points="121.8,681.4 123.3,682.3" stroke="#ffff33" stroke-width="2.80"/>
<polyline points="123.3,682.3 124.7,683.2 126.2,683.9 127.7,684.6" stroke="#ffff0a" stroke-width="2.82"/>
<polyline points="127.7,684.6 129.3,685.3 131.0,685.8 132.6,686.3 134.2,686.6 135.7,687.0 137.3,687.2 138.9,687.3 140.5,687.4 142.1,687.4 143.6,687.3 145.2,687.1 146.9,686.8 148.5,686.4 150.1,685.9" stroke="#ffff00" stroke-width="3.73"/>
<polyline points="150.1,685.9 151.6,685.4 153.1,684.8 154.5,684.1 155.9,683.3 157.3,682.4 158.6,681.5 159.8,680.5 161.0,679.4 162.1,678.2 163.2,676.9 164.2,675.6 165.2,674.2 166.0,672.8 166.7,671.5 167.2,670.2 167.7,668.9 168.0,667.6 168.2,666.4 168.3,665.0 168.3,663.6 168.1,662.1 167.9,660.6 167.5,659.0 167.0,657.4" stroke="#ffff0a" stroke-width="2.82"/>
<polyline points="167.0,657.4 166.4,655.7 165.7,654.1 164.9,652.5 163.9,650.9 162.8,649.3 161.6,647.7 160.5,646.2 159.4,644.7 158.4,643.2 157.4,641.9 156.4,640.5 155.5,639.2 154.7,638.0 154.1,636.8 153.5,635.7 153.1,634.6 152.8,633.6 152.6,632.6 152.5,631.6 152.5,630.5 152.6,629.2" stroke="#ffff33" stroke-width="2.80"/>
<polyline points="152.6,629.2 152.7,628.0 153.0,626.7 153.4,625.3" stroke="#ffff5c" stroke-width="2.78"/>
<polyline points="153.4,625.3 153.9,623.9" stroke="#ffff85" stroke-width="2.76"/>
<polyline points="153.9,623.9 154.7,622.6 155.7,621.2 156.8,619.8 158.2,618.4 159.6,616.9 161.1,615.5 162.6,614.1 164.1,612.6 165.7,611.2 167.3,609.7 169.0,608.2 170.6,606.7 172.0,605.2 173.4,603.7 174.8,602.1 176.1,600.5 177.3,598.9 178.4,597.3 179.3,595.7 180.1,594.2 180.8,592.6 181.4,591.0" stroke="#ffffad" stroke-width="2.74"/>
<polyline points="181.4,591.0 181.9,589.4 182.2,587.9 182.5,586.3 182.6,584.7 182.6,583.1 182.4,581.5 182.2,580.0 181.9,578.4 181.5,576.8 181.0,575.2 180.4,573.7 179.7,572.1 179.0,570.5 178.2,568.9 177.4,567.3" stroke="#ffffd6" stroke-width="2.72"/>
<polyline points="177.4,567.3 176.6,565.7" stroke="#ffffad" stroke-width="2.74"/>
<polyline points="176.6,565.7 175.6,564.1 174.6,562.5" stroke="#ffff85" stroke-width="2.76"/>
<polyline points="174.6,562.5 173.7,560.9 172.8,559.4" stroke="#ffff5c" stroke-width="2.78"/>
<polyline points="172.8,559.4 172.0,557.9" stroke="#ffff33" stroke-width="2.80"/>
<polyline points="172.0,557.9 171.4,556.5" stroke="#ffff0a" stroke-width="2.82"/>
<polyline points="171.4,556.5 170.9,555.1 170.4,553.8 170.0,552.6 169.7,551.3 169.5,550.0 169.4,548.7 169.4,547.3 169.5,545.9 169.7,544.6 170.0,543.3 170.5,542.1 171.0,540.9 171.6,539.7 172.4,538.6 173.2,537.5 174.2,536.6 175.2,535.8 176.3,535.1 177.5,534.5 178.8,534.1 180.2,533.7 181.6,533.4 183.1,533.3 184.6,533.2 186.2,533.2 187.8,533.2 189.5,533.4 191.1,533.7 192.6,534.2 194.0,534.8 195.4,535.5 196.8,536.4 198.1,537.4 199.3,538.4 200.4,539.6 201.5,540.8 202.4,542.2 203.2,543.7 204.0,545.3 204.6,546.9 205.2,548.4 205.7,549.9 206.1,551.5 206.4,553.1 206.6,554.7 206.8,556.3 206.8,557.9 206.6,559.5 206.4,561.0 206.0,562.6 205.6,564.2 205.1,565.8 204.6,567.3 204.0,568.9 203.3,570.5 202.7,572.1 201.9,573.7 201.2,575.2 200.4,576.8 199.7,578.4 198.9,579.9 198.1,581.4 197.3,583.0 196.5,584.6 195.7,586.3 194.9,588.0 194.1,589.8 193.3,591.6 192.6,593.5 191.8,595.4 191.0,597.3 190.2,599.3 189.4,601.4 188.6,603.5 187.8,605.7 187.0,607.8 186.2,610.0 185.5,612.1 184.9,614.2 184.2,616.3 183.6,618.4" stroke="#ffff00" stroke-width="3.73"/>
<polyline points="183.6,618.4 183.0,620.5 182.5,622.6 181.9,624.7" stroke="#ffff0a" stroke-width="2.82"/>
<polyline points="181.9,624.7 181.5,626.9 181.0,629.1" stroke="#ffff33" stroke-width="2.80"/>
<polyline points="181.0,629.1 180.6,631.2" stroke="#ffff5c" stroke-width="2.78"/>
<polyline points="180.6,631.2 180.2,633.3 179.9,635.2" stroke="#ffff85" stroke-width="2.76"/>
<polyline points="179.9,635.2 179.7,637.0 179.5,638.6 179.3,640.2" stroke="#ffffad" stroke-width="2.74"/>
<polyline points="179.3,640.2 179.2,641.7 179.2,643.2 179.3,644.7 179.5,646.1" stroke="#ffff85" stroke-width="2.76"/>
<polyline points="179.5,646.1 179.7,647.5 180.1,648.9" stroke="#ffff5c" stroke-width="2.78"/>
<polyline points="180.1,648.9 180.5,650.2 181.0,651.4" stroke="#ffff33" stroke-width="2.80"/>
<polyline points="181.0,651.4 181.5,652.6 182.1,653.6 182.8,654.5" stroke="#ffff0a" stroke-width="2.82"/>
<polyline points="182.8,654.5 183.5,655.3 184.3,656.1 185.2,656.7 186.2,657.3 187.4,657.8 188.6,658.2 189.9,658.6 191.3,658.8 192.7,658.9 194.1,658.9 195.7,658.7 197.3,658.3 199.0,657.8 200.6,657.2 202.2,656.5 203.6,655.7 204.9,654.9 206.0,653.9 207.1,652.9 208.1,651.7 209.0,650.6 209.9,649.4 210.7,648.2 211.5,646.9 212.2,645.6 212.8,644.2 213.3,642.8 213.7,641.5 214.0,640.2 214.2,638.9 214.4,637.7 214.4,636.4 214.3,635.0 214.0,633.6 213.6,632.1 213.0,630.5 212.2,628.9 211.4,627.3 210.6,625.7 209.9,624.2 209.3,622.7 208.6,621.2" stroke="#ffff00" stroke-width="3.73"/>
<polyline points="208.6,621.2 207.9,619.8 207.3,618.3 206.7,617.0" stroke="#ffff0a" stroke-width="2.82"/>
<polyline points="206.7,617.0 206.1,615.6" stroke="#ffff33" stroke-width="2.80"/>
<polyline points="206.1,615.6 205.6,614.3" stroke="#ffff0a" stroke-width="2.82"/>
<polyline points="205.6,614.3 205.0,613.0 204.5,611.8 204.1,610.6 203.8,609.4 203.6,608.4 203.6,607.4 203.7,606.5 203.9,605.6 204.3,604.9 204.7,604.2 205.2,603.6 205.8,603.2 206.5,602.8 207.3,602.5 208.1,602.3 209.0,602.1 209.9,602.1" stroke="#ffff00" stroke-width="3.73"/>
<polyline points="209.9,602.1 210.9,602.0 211.9,602.1" stroke="#ffff0a" stroke-width="2.82"/>
<polyline points="211.9,602.1 213.0,602.3 214.1,602.5" stroke="#ffff33" stroke-width="2.80"/>
<polyline points="214.1,602.5 215.2,602.7" stroke="#ffff5c" stroke-width="2.78"/>
<polyline points="215.2,602.7 216.2,603.0 217.3,603.4" stroke="#ffff85" stroke-width="2.76"/>
<polyline points="217.3,603.4 218.3,603.8" stroke="#ffffad" stroke-width="2.74"/>
<polyline points="218.3,603.8 219.4,604.3 220.4,604.8 221.5,605.3" stroke="#ffffd6" stroke-width="2.72"/>
<polyline points="222.5,605.8 223.6,606.4" stroke="#ffffd6" stroke-width="2.72"/>
<polyline points="223.6,606.4 224.7,607.0" stroke="#ffffad" stroke-width="2.74"/>
<polyline points="224.7,607.0 225.8,607.6" stroke="#ffff85" stroke-width="2.76"/>
<polyline points="225.8,607.6 226.9,608.2" stroke="#ffff5c" stroke-width="2.78"/>
<polyline points="226.9,608.2 227.9,608.8" stroke="#ffff33" stroke-width="2.80"/>
<polyline points="227.9,608.8 228.9,609.3" stroke="#ffff0a" stroke-width="2.82"/>
<polyline points="228.9,609.3 229.7,609.8 230.4,610.2 231.1,610.6 231.8,610.9 232.4,611.2 233.0,611.5 233.5,611.8 234.0,612.1 234.5,612.3 234.9,612.5 235.2,612.7 235.5,612.8" stroke="#ffff00" stroke-width="3.73"/>
<polyline points="127.7,684.6 129.3,685.3 131.0,685.8 132.6,686.3 134.2,686.6" stroke="#ffeb00" stroke-width="2.52"/>
<polyline points="134.2,686.6 135.7,687.0 137.3,687.2 138.9,687.3 140.5,687.4 142.1,687.4 143.6,687.3" stroke="#ffcf00" stroke-width="2.58"/>
<polyline points="143.6,687.3 145.2,687.1 146.9,686.8 148.5,686.4 150.1,685.9" stroke="#ffeb00" stroke-width="2.52"/>
<polyline points="171.4,556.5 170.9,555.1" stroke="#ffeb00" stroke-width="2.52"/>
<polyline points="170.9,555.1 170.4,553.8" stroke="#ffcf00" stroke-width="2.58"/>
<polyline points="170.4,553.8 170.0,552.6" stroke="#ffb400" stroke-width="2.64"/>
<polyline points="170.0,552.6 169.7,551.3" stroke="#ff7e00" stroke-width="2.76"/>
<polyline points="169.7,551.3 169.5,550.0" stroke="#ff6300" stroke-width="2.82"/>
<polyline points="177.5,534.5 178.8,534.1" stroke="#ff6300" stroke-width="2.82"/>
<polyline points="178.8,534.1 180.2,533.7 181.6,533.4" stroke="#ff7e00" stroke-width="2.76"/>
<polyline points="181.6,533.4 183.1,533.3 184.6,533.2 186.2,533.2" stroke="#ff9900" stroke-width="2.70"/>
<polyline points="186.2,533.2 187.8,533.2 189.5,533.4" stroke="#ff7e00" stroke-width="2.76"/>
<polyline points="189.5,533.4 191.1,533.7 192.6,534.2" stroke="#ff6300" stroke-width="2.82"/>
<polyline points="193.3,591.6 192.6,593.5 191.8,595.4" stroke="#ff6300" stroke-width="2.82"/>
<polyline points="191.8,595.4 191.0,597.3 190.2,599.3" stroke="#ff7e00" stroke-width="2.76"/>
<polyline points="190.2,599.3 189.4,601.4 188.6,603.5" stroke="#ff9900" stroke-width="2.70"/>
<polyline points="188.6,603.5 187.8,605.7" stroke="#ffb400" stroke-width="2.64"/>
<polyline points="187.8,605.7 187.0,607.8 186.2,610.0" stroke="#ffcf00" stroke-width="2.58"/>
<polyline points="186.2,610.0 185.5,612.1 184.9,614.2 184.2,616.3 183.6,618.4" stroke="#ffeb00" stroke-width="2.52"/>
<polyline points="182.8,654.5 183.5,655.3 184.3,656.1" stroke="#ffeb00" stroke-width="2.52"/>
<polyline points="184.3,656.1 185.2,656.7 186.2,657.3 187.4,657.8" stroke="#ffcf00" stroke-width="2.58"/>
<polyline points="187.4,657.8 188.6,658.2 189.9,658.6" stroke="#ffb400" stroke-width="2.64"/>
<polyline points="189.9,658.6 191.3,658.8 192.7,658.9" stroke="#ff9900" stroke-width="2.70"/>
<polyline points="192.7,658.9 194.1,658.9" stroke="#ff7e00" stroke-width="2.76"/>
<polyline points="194.1,658.9 195.7,658.7" stroke="#ff6300" stroke-width="2.82"/>
<polyline points="213.6,632.1 213.0,630.5" stroke="#ff6300" stroke-width="2.82"/>
<polyline points="213.0,630.5 212.2,628.9" stroke="#ff7e00" stroke-width="2.76"/>
<polyline points="212.2,628.9 211.4,627.3" stroke="#ff9900" stroke-width="2.70"/>
<polyline points="211.4,627.3 210.6,625.7" stroke="#ffb400" stroke-width="2.64"/>
<polyline points="210.6,625.7 209.9,624.2" stroke="#ffcf00" stroke-width="2.58"/>
<polyline points="209.9,624.2 209.3,622.7 208.6,621.2" stroke="#ffeb00" stroke-width="2.52"/>
<polyline points="205.6,614.3 205.0,613.0" stroke="#ffcf00" stroke-width="2.58"/>
<polyline points="205.0,613.0 204.5,611.8" stroke="#ffb400" stroke-width="2.64"/>
<polyline points="204.5,611.8 204.1,610.6" stroke="#ff7e00" stroke-width="2.76"/>
<polyline points="205.8,603.2 206.5,602.8" stroke="#ff6300" stroke-width="2.82"/>
<polyline points="206.5,602.8 207.3,602.5" stroke="#ff7e00" stroke-width="2.76"/>
<polyline points="207.3,602.5 208.1,602.3" stroke="#ff9900" stroke-width="2.70"/>
<polyline points="208.1,602.3 209.0,602.1" stroke="#ffb400" stroke-width="2.64"/>
<polyline points="209.0,602.1 209.9,602.1" stroke="#ffeb00" stroke-width="2.52"/>
<polyline points="228.9,609.3 229.7,609.8" stroke="#ffeb00" stroke-width="2.52"/>
<polyline points="229.7,609.8 230.4,610.2" stroke="#ffcf00" stroke-width="2.58"/>
<polyline points="230.4,610.2 231.1,610.6" stroke="#ffb400" stroke-width="2.64"/>
<polyline points="231.1,610.6 231.8,610.9" stroke="#ff7e00" stroke-width="2.76"/>
<polyline points="231.8,610.9 232.4,611.2" stroke="#ff6300" stroke-width="2.82"/>
</g>
<path d="M76.4,598.0 L77.0,599.1 L77.8,600.7 L78.8,602.5 L79.8,604.5 L81.0,606.5 L82.1,608.4 L83.3,610.2 L84.6,612.0 L85.9,613.9 L87.3,615.7 L88.6,617.3 L90.0,618.8 L91.3,620.0 L92.7,621.1 L94.0,622.1 L95.4,622.9 L96.7,623.6 L97.9,624.2 L99.0,624.6 L100.1,624.9 L101.1,625.1 L102.1,625.2 L103.2,625.2 L104.2,625.1 L105.2,624.9 L106.3,624.7 L107.3,624.4 L108.4,623.9 L109.4,623.3 L110.5,622.6 L111.6,621.6 L112.7,620.5 L113.8,619.3 L114.8,617.9 L115.8,616.3 L116.8,614.7 L117.7,612.9 L118.5,610.9 L119.3,608.8 L120.0,606.6 L120.8,604.3 L121.5,602.1 L122.3,599.8 L123.1,597.4 L123.8,595.0 L124.6,592.5 L125.4,590.2 L126.3,587.9 L127.2,585.6 L128.2,583.3 L129.2,581.1 L130.3,579.0 L131.4,577.0 L132.6,575.2 L133.8,573.7 L135.1,572.2 L136.4,571.0 L137.8,569.8 L139.1,568.8 L140.5,568.0 L141.8,567.3 L143.2,566.7 L144.5,566.3 L145.9,566.0 L147.1,565.9 L148.4,565.8 L149.5,565.8 L150.7,565.9 L151.7,566.1 L152.8,566.4 L153.7,566.9 L154.7,567.3 L155.6,567.9 L156.5,568.6 L157.3,569.3 L158.1,570.1 L158.8,571.1 L159.4,572.1 L160.0,573.2 L160.5,574.4 L160.9,575.6 L161.2,577.0 L161.5,578.4 L161.6,580.0 L161.7,581.6 L161.6,583.4 L161.5,585.3 L161.2,587.2 L160.9,589.1 L160.4,591.0 L159.7,592.9 L158.9,594.8 L157.9,596.6 L156.9,598.5 L155.8,600.3 L154.7,602.1 L153.5,603.7 L152.3,605.3 L151.0,606.9 L149.6,608.4 L148.2,610.0 L146.8,611.5 L145.3,613.1 L143.8,614.7 L142.2,616.2 L140.5,617.8 L138.9,619.4 L137.3,621.0 L135.7,622.7 L134.1,624.4 L132.5,626.1 L130.9,627.8 L129.3,629.5 L127.9,631.1 L126.4,632.6 L125.0,634.1 L123.7,635.6 L122.4,637.0 L121.1,638.4 L120.0,639.9 L118.9,641.5 L117.8,643.0 L116.8,644.6 L115.9,646.2 L115.0,647.8 L114.3,649.4 L113.6,651.0 L113.0,652.6 L112.5,654.1 L112.0,655.7 L111.7,657.3 L111.4,658.9 L111.3,660.5 L111.2,662.1 L111.3,663.7 L111.4,665.3 L111.7,666.8 L112.1,668.3 L112.6,669.8 L113.2,671.3 L114.0,672.8 L114.8,674.2 L115.8,675.6 L116.8,676.9 L117.9,678.1 L119.1,679.2 L120.5,680.3 L121.8,681.4 L123.3,682.3 L124.7,683.2 L126.2,683.9 L127.7,684.6 L129.3,685.3 L131.0,685.8 L132.6,686.3 L134.2,686.6 L135.7,687.0 L137.3,687.2 L138.9,687.3 L140.5,687.4 L142.1,687.4 L143.6,687.3 L145.2,687.1 L146.9,686.8 L148.5,686.4 L150.1,685.9 L151.6,685.4 L153.1,684.8 L154.5,684.1 L155.9,683.3 L157.3,682.4 L158.6,681.5 L159.8,680.5 L161.0,679.4 L162.1,678.2 L163.2,676.9 L164.2,675.6 L165.2,674.2 L166.0,672.8 L166.7,671.5 L167.2,670.2 L167.7,668.9 L168.0,667.6 L168.2,666.4 L168.3,665.0 L168.3,663.6 L168.1,662.1 L167.9,660.6 L167.5,659.0 L167.0,657.4 L166.4,655.7 L165.7,654.1 L164.9,652.5 L163.9,650.9 L162.8,649.3 L161.6,647.7 L160.5,646.2 L159.4,644.7 L158.4,643.2 L157.4,641.9 L156.4,640.5 L155.5,639.2 L154.7,638.0 L154.1,636.8 L153.5,635.7 L153.1,634.6 L152.8,633.6 L152.6,632.6 L152.5,631.6 L152.5,630.5 L152.6,629.2 L152.7,628.0 L153.0,626.7 L153.4,625.3 L153.9,623.9 L154.7,622.6 L155.7,621.2 L156.8,619.8 L158.2,618.4 L159.6,616.9 L161.1,615.5 L162.6,614.1 L164.1,612.6 L165.7,611.2 L167.3,609.7 L169.0,608.2 L170.6,606.7 L172.0,605.2 L173.4,603.7 L174.8,602.1 L176.1,600.5 L177.3,598.9 L178.4,597.3 L179.3,595.7 L180.1,594.2 L180.8,592.6 L181.4,591.0 L181.9,589.4 L182.2,587.9 L182.5,586.3 L182.6,584.7 L182.6,583.1 L182.4,581.5 L182.2,580.0 L181.9,578.4 L181.5,576.8 L181.0,575.2 L180.4,573.7 L179.7,572.1 L179.0,570.5 L178.2,568.9 L177.4,567.3 L176.6,565.7 L175.6,564.1 L174.6,562.5 L173.7,560.9 L172.8,559.4 L172.0,557.9 L171.4,556.5 L170.9,555.1 L170.4,553.8 L170.0,552.6 L169.7,551.3 L169.5,550.0 L169.4,548.7 L169.4,547.3 L169.5,545.9 L169.7,544.6 L170.0,543.3 L170.5,542.1 L171.0,540.9 L171.6,539.7 L172.4,538.6 L173.2,537.5 L174.2,536.6 L175.2,535.8 L176.3,535.1 L177.5,534.5 L178.8,534.1 L180.2,533.7 L181.6,533.4 L183.1,533.3 L184.6,533.2 L186.2,533.2 L187.8,533.2 L189.5,533.4 L191.1,533.7 L192.6,534.2 L194.0,534.8 L195.4,535.5 L196.8,536.4 L198.1,537.4 L199.3,538.4 L200.4,539.6 L201.5,540.8 L202.4,542.2 L203.2,543.7 L204.0,545.3 L204.6,546.9 L205.2,548.4 L205.7,549.9 L206.1,551.5 L206.4,553.1 L206.6,554.7 L206.8,556.3 L206.8,557.9 L206.6,559.5 L206.4,561.0 L206.0,562.6 L205.6,564.2 L205.1,565.8 L204.6,567.3 L204.0,568.9 L203.3,570.5 L202.7,572.1 L201.9,573.7 L201.2,575.2 L200.4,576.8 L199.7,578.4 L198.9,579.9 L198.1,581.4 L197.3,583.0 L196.5,584.6 L195.7,586.3 L194.9,588.0 L194.1,589.8 L193.3,591.6 L192.6,593.5 L191.8,595.4 L191.0,597.3 L190.2,599.3 L189.4,601.4 L188.6,603.5 L187.8,605.7 L187.0,607.8 L186.2,610.0 L185.5,612.1 L184.9,614.2 L184.2,616.3 L183.6,618.4 L183.0,620.5 L182.5,622.6 L181.9,624.7 L181.5,626.9 L181.0,629.1 L180.6,631.2 L180.2,633.3 L179.9,635.2 L179.7,637.0 L179.5,638.6 L179.3,640.2 L179.2,641.7 L179.2,643.2 L179.3,644.7 L179.5,646.1 L179.7,647.5 L180.1,648.9 L180.5,650.2 L181.0,651.4 L181.5,652.6 L182.1,653.6 L182.8,654.5 L183.5,655.3 L184.3,656.1 L185.2,656.7 L186.2,657.3 L187.4,657.8 L188.6,658.2 L189.9,658.6 L191.3,658.8 L192.7,658.9 L194.1,658.9 L195.7,658.7 L197.3,658.3 L199.0,657.8 L200.6,657.2 L202.2,656.5 L203.6,655.7 L204.9,654.9 L206.0,653.9 L207.1,652.9 L208.1,651.7 L209.0,650.6 L209.9,649.4 L210.7,648.2 L211.5,646.9 L212.2,645.6 L212.8,644.2 L213.3,642.8 L213.7,641.5 L214.0,640.2 L214.2,638.9 L214.4,637.7 L214.4,636.4 L214.3,635.0 L214.0,633.6 L213.6,632.1 L213.0,630.5 L212.2,628.9 L211.4,627.3 L210.6,625.7 L209.9,624.2 L209.3,622.7 L208.6,621.2 L207.9,619.8 L207.3,618.3 L206.7,617.0 L206.1,615.6 L205.6,614.3 L205.0,613.0 L204.5,611.8 L204.1,610.6 L203.8,609.4 L203.6,608.4 L203.6,607.4 L203.7,606.5 L203.9,605.6 L204.3,604.9 L204.7,604.2 L205.2,603.6 L205.8,603.2 L206.5,602.8 L207.3,602.5 L208.1,602.3 L209.0,602.1 L209.9,602.1 L210.9,602.0 L211.9,602.1 L213.0,602.3 L214.1,602.5 L215.2,602.7 L216.2,603.0 L217.3,603.4 L218.3,603.8 L219.4,604.3 L220.4,604.8 L221.5,605.3 L222.5,605.8 L223.6,606.4 L224.7,607.0 L225.8,607.6 L226.9,608.2 L227.9,608.8 L228.9,609.3 L229.7,609.8 L230.4,610.2 L231.1,610.6 L231.8,610.9 L232.4,611.2 L233.0,611.5 L233.5,611.8 L234.0,612.1 L234.5,612.3 L234.9,612.5 L235.2,612.7 L235.5,612.8" fill="none" stroke="#7a7a7a" stroke-width="0.75" stroke-dasharray="6 3"/>
<g fill="none" stroke-linecap="round" stroke-linejoin="round" filter="url(#bl)">
<polyline points="169.5,550.0 169.4,548.7 169.4,547.3" stroke="#ff4700" stroke-width="2.88"/>
<polyline points="169.4,547.3 169.5,545.9 169.7,544.6 170.0,543.3" stroke="#ff2c00" stroke-width="2.94"/>
<polyline points="170.0,543.3 170.5,542.1 171.0,540.9 171.6,539.7" stroke="#ff1100" stroke-width="3.00"/>
<polyline points="171.6,539.7 172.4,538.6 173.2,537.5 174.2,536.6 175.2,535.8" stroke="#ff2c00" stroke-width="2.94"/>
<polyline points="175.2,535.8 176.3,535.1 177.5,534.5" stroke="#ff4700" stroke-width="2.88"/>
<polyline points="192.6,534.2 194.0,534.8" stroke="#ff4700" stroke-width="2.88"/>
<polyline points="194.0,534.8 195.4,535.5" stroke="#ff2c00" stroke-width="2.94"/>
<polyline points="195.4,535.5 196.8,536.4 198.1,537.4" stroke="#ff1100" stroke-width="3.00"/>
<polyline points="198.1,537.4 199.3,538.4" stroke="#f50000" stroke-width="3.52"/>
<polyline points="199.3,538.4 200.4,539.6" stroke="#da0000" stroke-width="3.54"/>
<polyline points="200.4,539.6 201.5,540.8" stroke="#be0000" stroke-width="3.56"/>
<polyline points="201.5,540.8 202.4,542.2" stroke="#a30000" stroke-width="3.58"/>
<polyline points="202.4,542.2 203.2,543.7" stroke="#880000" stroke-width="3.60"/>
<polyline points="203.2,543.7 204.0,545.3" stroke="#6d0000" stroke-width="3.62"/>
<polyline points="204.0,545.3 204.6,546.9" stroke="#520000" stroke-width="3.64"/>
<polyline points="204.6,546.9 205.2,548.4" stroke="#360000" stroke-width="3.66"/>
<polyline points="205.2,548.4 205.7,549.9 206.1,551.5 206.4,553.1 206.6,554.7" stroke="#1b0000" stroke-width="3.68"/>
<polyline points="206.6,554.7 206.8,556.3 206.8,557.9 206.6,559.5" stroke="#000000" stroke-width="3.70"/>
<polyline points="206.6,559.5 206.4,561.0 206.0,562.6 205.6,564.2" stroke="#1b0000" stroke-width="3.68"/>
<polyline points="205.6,564.2 205.1,565.8 204.6,567.3" stroke="#360000" stroke-width="3.66"/>
<polyline points="204.6,567.3 204.0,568.9" stroke="#520000" stroke-width="3.64"/>
<polyline points="204.0,568.9 203.3,570.5" stroke="#6d0000" stroke-width="3.62"/>
<polyline points="203.3,570.5 202.7,572.1" stroke="#880000" stroke-width="3.60"/>
<polyline points="202.7,572.1 201.9,573.7" stroke="#a30000" stroke-width="3.58"/>
<polyline points="201.9,573.7 201.2,575.2" stroke="#be0000" stroke-width="3.56"/>
<polyline points="201.2,575.2 200.4,576.8" stroke="#da0000" stroke-width="3.54"/>
<polyline points="200.4,576.8 199.7,578.4 198.9,579.9" stroke="#f50000" stroke-width="3.52"/>
<polyline points="198.9,579.9 198.1,581.4 197.3,583.0" stroke="#ff1100" stroke-width="3.00"/>
<polyline points="197.3,583.0 196.5,584.6 195.7,586.3 194.9,588.0" stroke="#ff2c00" stroke-width="2.94"/>
<polyline points="194.9,588.0 194.1,589.8 193.3,591.6" stroke="#ff4700" stroke-width="2.88"/>
<polyline points="195.7,658.7 197.3,658.3" stroke="#ff4700" stroke-width="2.88"/>
<polyline points="197.3,658.3 199.0,657.8" stroke="#ff2c00" stroke-width="2.94"/>
<polyline points="199.0,657.8 200.6,657.2" stroke="#ff1100" stroke-width="3.00"/>
<polyline points="200.6,657.2 202.2,656.5" stroke="#f50000" stroke-width="3.52"/>
<polyline points="202.2,656.5 203.6,655.7 204.9,654.9" stroke="#da0000" stroke-width="3.54"/>
<polyline points="204.9,654.9 206.0,653.9" stroke="#be0000" stroke-width="3.56"/>
<polyline points="206.0,653.9 207.1,652.9 208.1,651.7" stroke="#a30000" stroke-width="3.58"/>
<polyline points="208.1,651.7 209.0,650.6" stroke="#880000" stroke-width="3.60"/>
<polyline points="209.0,650.6 209.9,649.4 210.7,648.2 211.5,646.9 212.2,645.6" stroke="#6d0000" stroke-width="3.62"/>
<polyline points="212.2,645.6 212.8,644.2 213.3,642.8 213.7,641.5" stroke="#880000" stroke-width="3.60"/>
<polyline points="213.7,641.5 214.0,640.2" stroke="#a30000" stroke-width="3.58"/>
<polyline points="214.0,640.2 214.2,638.9" stroke="#be0000" stroke-width="3.56"/>
<polyline points="214.2,638.9 214.4,637.7" stroke="#da0000" stroke-width="3.54"/>
<polyline points="214.4,637.7 214.4,636.4" stroke="#f50000" stroke-width="3.52"/>
<polyline points="214.4,636.4 214.3,635.0" stroke="#ff1100" stroke-width="3.00"/>
<polyline points="214.3,635.0 214.0,633.6" stroke="#ff2c00" stroke-width="2.94"/>
<polyline points="214.0,633.6 213.6,632.1" stroke="#ff4700" stroke-width="2.88"/>
<polyline points="204.1,610.6 203.8,609.4" stroke="#ff6300" stroke-width="2.82"/>
<polyline points="203.8,609.4 203.6,608.4" stroke="#ff2c00" stroke-width="2.94"/>
<polyline points="203.6,608.4 203.6,607.4 203.7,606.5" stroke="#ff1100" stroke-width="3.00"/>
<polyline points="203.7,606.5 203.9,605.6 204.3,604.9 204.7,604.2 205.2,603.6" stroke="#ff2c00" stroke-width="2.94"/>
<polyline points="205.2,603.6 205.8,603.2" stroke="#ff4700" stroke-width="2.88"/>
<polyline points="232.4,611.2 233.0,611.5" stroke="#ff4700" stroke-width="2.88"/>
<polyline points="233.0,611.5 233.5,611.8" stroke="#ff2c00" stroke-width="2.94"/>
<polyline points="233.5,611.8 234.0,612.1" stroke="#ff1100" stroke-width="3.00"/>
<polyline points="234.0,612.1 234.5,612.3" stroke="#f50000" stroke-width="3.52"/>
<polyline points="234.5,612.3 234.9,612.5" stroke="#da0000" stroke-width="3.54"/>
<polyline points="234.9,612.5 235.2,612.7" stroke="#be0000" stroke-width="3.56"/>
<polyline points="235.2,612.7 235.5,612.8" stroke="#a30000" stroke-width="3.58"/>
</g>
<path d="M289.2,520.0 V714.0 H483.3" fill="none" stroke="#a0a0a0" stroke-width="1.0"/>
<path d="M308.5,714.0 v-2.5 M347.3,714.0 v-2.5 M386.1,714.0 v-2.5 M424.9,714.0 v-2.5 M463.7,714.0 v-2.5 M289.2,714.1 h2.5 M289.2,675.2 h2.5 M289.2,636.4 h2.5 M289.2,597.5 h2.5 M289.2,558.6 h2.5 M289.2,519.8 h2.5 " fill="none" stroke="#a0a0a0" stroke-width="1"/>
<g fill="none" stroke-linecap="round" stroke-linejoin="round" filter="url(#bl)">
<polyline points="308.4,598.0 309.0,599.1" stroke="#ffffad" stroke-width="2.74"/>
<polyline points="309.0,599.1 309.8,600.7" stroke="#ffff85" stroke-width="2.76"/>
<polyline points="309.8,600.7 310.8,602.5 311.8,604.5 313.0,606.5" stroke="#ffff5c" stroke-width="2.78"/>
<polyline points="313.0,606.5 314.1,608.4 315.3,610.2 316.6,612.0 317.9,613.9 319.3,615.7 320.6,617.3 322.0,618.8 323.3,620.0" stroke="#ffff33" stroke-width="2.80"/>
<polyline points="323.3,620.0 324.7,621.1 326.0,622.1 327.4,622.9 328.7,623.6" stroke="#ffff5c" stroke-width="2.78"/>
<polyline points="328.7,623.6 329.9,624.2 331.0,624.6" stroke="#ffff85" stroke-width="2.76"/>
<polyline points="331.0,624.6 332.1,624.9" stroke="#ffffad" stroke-width="2.74"/>
<polyline points="332.1,624.9 333.1,625.1 334.1,625.2 335.2,625.2" stroke="#ffffd6" stroke-width="2.72"/>
<polyline points="344.7,620.5 345.8,619.3 346.8,617.9 347.8,616.3" stroke="#ffffd6" stroke-width="2.72"/>
<polyline points="347.8,616.3 348.8,614.7 349.7,612.9" stroke="#ffffad" stroke-width="2.74"/>
<polyline points="349.7,612.9 350.5,610.9 351.3,608.8 352.0,606.6" stroke="#ffffd6" stroke-width="2.72"/>
<polyline points="355.1,597.4 355.8,595.0 356.6,592.5 357.4,590.2" stroke="#ffffd6" stroke-width="2.72"/>
<polyline points="357.4,590.2 358.3,587.9" stroke="#ffffad" stroke-width="2.74"/>
<polyline points="358.3,587.9 359.2,585.6 360.2,583.3" stroke="#ffff85" stroke-width="2.76"/>
<polyline points="360.2,583.3 361.2,581.1" stroke="#ffff5c" stroke-width="2.78"/>
<polyline points="361.2,581.1 362.3,579.0 363.4,577.0" stroke="#ffff33" stroke-width="2.80"/>
<polyline points="363.4,577.0 364.6,575.2 365.8,573.7 367.1,572.2 368.4,571.0 369.8,569.8" stroke="#ffff0a" stroke-width="2.82"/>
<polyline points="369.8,569.8 371.1,568.8 372.5,568.0 373.8,567.3 375.2,566.7" stroke="#ffff00" stroke-width="3.73"/>
<polyline points="375.2,566.7 376.5,566.3 377.9,566.0 379.1,565.9 380.4,565.8 381.5,565.8 382.7,565.9" stroke="#ffff0a" stroke-width="2.82"/>
<polyline points="382.7,565.9 383.7,566.1 384.8,566.4" stroke="#ffff33" stroke-width="2.80"/>
<polyline points="384.8,566.4 385.7,566.9 386.7,567.3 387.6,567.9" stroke="#ffff5c" stroke-width="2.78"/>
<polyline points="387.6,567.9 388.5,568.6 389.3,569.3 390.1,570.1 390.8,571.1" stroke="#ffff85" stroke-width="2.76"/>
<polyline points="390.8,571.1 391.4,572.1 392.0,573.2 392.5,574.4 392.9,575.6 393.2,577.0 393.5,578.4" stroke="#ffffad" stroke-width="2.74"/>
<polyline points="393.5,578.4 393.6,580.0 393.7,581.6" stroke="#ffffd6" stroke-width="2.72"/>
<polyline points="393.7,581.6 393.6,583.4 393.5,585.3 393.2,587.2 392.9,589.1 392.4,591.0 391.7,592.9" stroke="#ffffad" stroke-width="2.74"/>
<polyline points="391.7,592.9 390.9,594.8" stroke="#ffff85" stroke-width="2.76"/>
<polyline points="390.9,594.8 389.9,596.6 388.9,598.5 387.8,600.3" stroke="#ffff5c" stroke-width="2.78"/>
<polyline points="387.8,600.3 386.7,602.1 385.5,603.7" stroke="#ffff33" stroke-width="2.80"/>
<polyline points="385.5,603.7 384.3,605.3 383.0,606.9 381.6,608.4 380.2,610.0" stroke="#ffff0a" stroke-width="2.82"/>
<polyline points="380.2,610.0 378.8,611.5 377.3,613.1 375.8,614.7 374.2,616.2 372.5,617.8 370.9,619.4 369.3,621.0 367.7,622.7 366.1,624.4 364.5,626.1 362.9,627.8 361.3,629.5 359.9,631.1 358.4,632.6 357.0,634.1 355.7,635.6 354.4,637.0 353.1,638.4 352.0,639.9 350.9,641.5 349.8,643.0 348.8,644.6 347.9,646.2 347.0,647.8 346.3,649.4 345.6,651.0 345.0,652.6 344.5,654.1 344.0,655.7 343.7,657.3 343.4,658.9 343.3,660.5 343.2,662.1 343.3,663.7 343.4,665.3 343.7,666.8 344.1,668.3 344.6,669.8 345.2,671.3" stroke="#ffff00" stroke-width="3.73"/>
<polyline points="345.2,671.3 346.0,672.8 346.8,674.2 347.8,675.6" stroke="#ffff0a" stroke-width="2.82"/>
<polyline points="347.8,675.6 348.8,676.9 349.9,678.1" stroke="#ffff33" stroke-width="2.80"/>
<polyline points="349.9,678.1 351.1,679.2 352.5,680.3 353.8,681.4" stroke="#ffff5c" stroke-width="2.78"/>
<polyline points="353.8,681.4 355.3,682.3" stroke="#ffff85" stroke-width="2.76"/>
<polyline points="355.3,682.3 356.7,683.2 358.2,683.9" stroke="#ffffad" stroke-width="2.74"/>
<polyline points="358.2,683.9 359.7,684.6 361.3,685.3 363.0,685.8" stroke="#ffffd6" stroke-width="2.72"/>
<polyline points="382.1,685.9 383.6,685.4 385.1,684.8 386.5,684.1 387.9,683.3" stroke="#ffffd6" stroke-width="2.72"/>
<polyline points="387.9,683.3 389.3,682.4 390.6,681.5" stroke="#ffffad" stroke-width="2.74"/>
<polyline points="390.6,681.5 391.8,680.5" stroke="#ffff85" stroke-width="2.76"/>
<polyline points="391.8,680.5 393.0,679.4 394.1,678.2 395.2,676.9 396.2,675.6 397.2,674.2" stroke="#ffff5c" stroke-width="2.78"/>
<polyline points="397.2,674.2 398.0,672.8 398.7,671.5 399.2,670.2 399.7,668.9 400.0,667.6 400.2,666.4 400.3,665.0 400.3,663.6" stroke="#ffff33" stroke-width="2.80"/>
<polyline points="400.3,663.6 400.1,662.1 399.9,660.6 399.5,659.0 399.0,657.4 398.4,655.7 397.7,654.1 396.9,652.5 395.9,650.9 394.8,649.3 393.6,647.7 392.5,646.2 391.4,644.7 390.4,643.2 389.4,641.9 388.4,640.5 387.5,639.2" stroke="#ffff0a" stroke-width="2.82"/>
<polyline points="387.5,639.2 386.7,638.0 386.1,636.8 385.5,635.7 385.1,634.6" stroke="#ffff33" stroke-width="2.80"/>
<polyline points="385.1,634.6 384.8,633.6 384.6,632.6 384.5,631.6 384.5,630.5 384.6,629.2" stroke="#ffff5c" stroke-width="2.78"/>
<polyline points="384.6,629.2 384.7,628.0 385.0,626.7 385.4,625.3 385.9,623.9" stroke="#ffff85" stroke-width="2.76"/>
<polyline points="385.9,623.9 386.7,622.6 387.7,621.2 388.8,619.8" stroke="#ffffad" stroke-width="2.74"/>
<polyline points="388.8,619.8 390.2,618.4 391.6,616.9 393.1,615.5 394.6,614.1 396.1,612.6 397.7,611.2 399.3,609.7 401.0,608.2" stroke="#ffffd6" stroke-width="2.72"/>
<polyline points="401.0,608.2 402.6,606.7 404.0,605.2 405.4,603.7" stroke="#ffffad" stroke-width="2.74"/>
<polyline points="405.4,603.7 406.8,602.1" stroke="#ffff85" stroke-width="2.76"/>
<polyline points="406.8,602.1 408.1,600.5 409.3,598.9 410.4,597.3" stroke="#ffff5c" stroke-width="2.78"/>
<polyline points="410.4,597.3 411.3,595.7 412.1,594.2" stroke="#ffff33" stroke-width="2.80"/>
<polyline points="412.1,594.2 412.8,592.6 413.4,591.0 413.9,589.4" stroke="#ffff0a" stroke-width="2.82"/>
<polyline points="413.9,589.4 414.2,587.9 414.5,586.3 414.6,584.7 414.6,583.1 414.4,581.5 414.2,580.0 413.9,578.4 413.5,576.8 413.0,575.2 412.4,573.7 411.7,572.1 411.0,570.5 410.2,568.9 409.4,567.3 408.6,565.7 407.6,564.1 406.6,562.5 405.7,560.9 404.8,559.4 404.0,557.9 403.4,556.5 402.9,555.1 402.4,553.8 402.0,552.6 401.7,551.3" stroke="#ffff00" stroke-width="3.73"/>
<polyline points="401.7,551.3 401.5,550.0 401.4,548.7 401.4,547.3 401.5,545.9 401.7,544.6" stroke="#ffff0a" stroke-width="2.82"/>
<polyline points="401.7,544.6 402.0,543.3 402.5,542.1 403.0,540.9" stroke="#ffff33" stroke-width="2.80"/>
<polyline points="403.0,540.9 403.6,539.7 404.4,538.6 405.2,537.5" stroke="#ffff5c" stroke-width="2.78"/>
<polyline points="405.2,537.5 406.2,536.6" stroke="#ffff85" stroke-width="2.76"/>
<polyline points="406.2,536.6 407.2,535.8 408.3,535.1" stroke="#ffffad" stroke-width="2.74"/>
<polyline points="408.3,535.1 409.5,534.5" stroke="#ffff85" stroke-width="2.76"/>
<polyline points="409.5,534.5 410.8,534.1 412.2,533.7 413.6,533.4" stroke="#ffff5c" stroke-width="2.78"/>
<polyline points="413.6,533.4 415.1,533.3 416.6,533.2" stroke="#ffff33" stroke-width="2.80"/>
<polyline points="416.6,533.2 418.2,533.2 419.8,533.2 421.5,533.4" stroke="#ffff0a" stroke-width="2.82"/>
<polyline points="421.5,533.4 423.1,533.7 424.6,534.2 426.0,534.8 427.4,535.5 428.8,536.4 430.1,537.4 431.3,538.4 432.4,539.6 433.5,540.8 434.4,542.2 435.2,543.7 436.0,545.3 436.6,546.9 437.2,548.4 437.7,549.9 438.1,551.5 438.4,553.1 438.6,554.7" stroke="#ffff00" stroke-width="3.73"/>
<polyline points="438.6,554.7 438.8,556.3 438.8,557.9 438.6,559.5 438.4,561.0 438.0,562.6 437.6,564.2 437.1,565.8 436.6,567.3 436.0,568.9 435.3,570.5 434.7,572.1 433.9,573.7 433.2,575.2 432.4,576.8 431.7,578.4 430.9,579.9" stroke="#ffff0a" stroke-width="2.82"/>
<polyline points="430.9,579.9 430.1,581.4 429.3,583.0 428.5,584.6 427.7,586.3 426.9,588.0 426.1,589.8 425.3,591.6 424.6,593.5 423.8,595.4 423.0,597.3 422.2,599.3 421.4,601.4 420.6,603.5 419.8,605.7 419.0,607.8 418.2,610.0 417.5,612.1 416.9,614.2 416.2,616.3 415.6,618.4 415.0,620.5 414.5,622.6 413.9,624.7 413.5,626.9 413.0,629.1 412.6,631.2 412.2,633.3 411.9,635.2 411.7,637.0 411.5,638.6 411.3,640.2 411.2,641.7 411.2,643.2 411.3,644.7 411.5,646.1" stroke="#ffff00" stroke-width="3.73"/>
<polyline points="411.5,646.1 411.7,647.5 412.1,648.9" stroke="#ffff0a" stroke-width="2.82"/>
<polyline points="412.1,648.9 412.5,650.2 413.0,651.4" stroke="#ffff33" stroke-width="2.80"/>
<polyline points="413.0,651.4 413.5,652.6" stroke="#ffff5c" stroke-width="2.78"/>
<polyline points="413.5,652.6 414.1,653.6 414.8,654.5" stroke="#ffff85" stroke-width="2.76"/>
<polyline points="414.8,654.5 415.5,655.3" stroke="#ffffad" stroke-width="2.74"/>
<polyline points="415.5,655.3 416.3,656.1 417.2,656.7" stroke="#ffffd6" stroke-width="2.72"/>
<polyline points="427.7,658.7 429.3,658.3 431.0,657.8" stroke="#ffffd6" stroke-width="2.72"/>
<polyline points="431.0,657.8 432.6,657.2" stroke="#ffffad" stroke-width="2.74"/>
<polyline points="432.6,657.2 434.2,656.5 435.6,655.7" stroke="#ffff85" stroke-width="2.76"/>
<polyline points="435.6,655.7 436.9,654.9 438.0,653.9" stroke="#ffff5c" stroke-width="2.78"/>
<polyline points="438.0,653.9 439.1,652.9 440.1,651.7" stroke="#ffff33" stroke-width="2.80"/>
<polyline points="440.1,651.7 441.0,650.6 441.9,649.4 442.7,648.2 443.5,646.9 444.2,645.6 444.8,644.2 445.3,642.8 445.7,641.5 446.0,640.2 446.2,638.9 446.4,637.7 446.4,636.4 446.3,635.0 446.0,633.6 445.6,632.1 445.0,630.5 444.2,628.9 443.4,627.3 442.6,625.7 441.9,624.2 441.3,622.7 440.6,621.2 439.9,619.8 439.3,618.3" stroke="#ffff0a" stroke-width="2.82"/>
<polyline points="439.3,618.3 438.7,617.0 438.1,615.6 437.6,614.3 437.0,613.0 436.5,611.8 436.1,610.6 435.8,609.4 435.6,608.4 435.6,607.4 435.7,606.5 435.9,605.6 436.3,604.9 436.7,604.2 437.2,603.6 437.8,603.2 438.5,602.8 439.3,602.5 440.1,602.3 441.0,602.1 441.9,602.1 442.9,602.0 443.9,602.1 445.0,602.3 446.1,602.5 447.2,602.7 448.2,603.0 449.3,603.4 450.3,603.8" stroke="#ffff33" stroke-width="2.80"/>
<polyline points="450.3,603.8 451.4,604.3 452.4,604.8 453.5,605.3 454.5,605.8 455.6,606.4" stroke="#ffff5c" stroke-width="2.78"/>
<polyline points="455.6,606.4 456.7,607.0 457.8,607.6 458.9,608.2 459.9,608.8" stroke="#ffff85" stroke-width="2.76"/>
<polyline points="459.9,608.8 460.9,609.3 461.7,609.8" stroke="#ffffad" stroke-width="2.74"/>
<polyline points="461.7,609.8 462.4,610.2" stroke="#ffff85" stroke-width="2.76"/>
<polyline points="462.4,610.2 463.1,610.6 463.8,610.9 464.4,611.2" stroke="#ffff5c" stroke-width="2.78"/>
<polyline points="464.4,611.2 465.0,611.5 465.5,611.8" stroke="#ffff33" stroke-width="2.80"/>
<polyline points="465.5,611.8 466.0,612.1" stroke="#ffff0a" stroke-width="2.82"/>
<polyline points="466.0,612.1 466.5,612.3 466.9,612.5 467.2,612.7 467.5,612.8" stroke="#ffff00" stroke-width="3.73"/>
<polyline points="369.8,569.8 371.1,568.8 372.5,568.0 373.8,567.3 375.2,566.7" stroke="#ffeb00" stroke-width="2.52"/>
<polyline points="380.2,610.0 378.8,611.5 377.3,613.1 375.8,614.7 374.2,616.2 372.5,617.8 370.9,619.4 369.3,621.0 367.7,622.7 366.1,624.4 364.5,626.1 362.9,627.8 361.3,629.5 359.9,631.1" stroke="#ffeb00" stroke-width="2.52"/>
<polyline points="359.9,631.1 358.4,632.6 357.0,634.1 355.7,635.6 354.4,637.0 353.1,638.4 352.0,639.9 350.9,641.5 349.8,643.0 348.8,644.6 347.9,646.2" stroke="#ffcf00" stroke-width="2.58"/>
<polyline points="347.9,646.2 347.0,647.8 346.3,649.4 345.6,651.0 345.0,652.6 344.5,654.1 344.0,655.7 343.7,657.3 343.4,658.9 343.3,660.5" stroke="#ffb400" stroke-width="2.64"/>
<polyline points="343.3,660.5 343.2,662.1 343.3,663.7 343.4,665.3 343.7,666.8 344.1,668.3" stroke="#ffcf00" stroke-width="2.58"/>
<polyline points="344.1,668.3 344.6,669.8 345.2,671.3" stroke="#ffeb00" stroke-width="2.52"/>
<polyline points="413.9,589.4 414.2,587.9 414.5,586.3" stroke="#ffeb00" stroke-width="2.52"/>
<polyline points="414.5,586.3 414.6,584.7 414.6,583.1 414.4,581.5 414.2,580.0 413.9,578.4" stroke="#ffcf00" stroke-width="2.58"/>
<polyline points="413.9,578.4 413.5,576.8 413.0,575.2 412.4,573.7 411.7,572.1 411.0,570.5" stroke="#ffb400" stroke-width="2.64"/>
<polyline points="411.0,570.5 410.2,568.9 409.4,567.3 408.6,565.7 407.6,564.1" stroke="#ff9900" stroke-width="2.70"/>
<polyline points="407.6,564.1 406.6,562.5 405.7,560.9 404.8,559.4 404.0,557.9 403.4,556.5" stroke="#ffb400" stroke-width="2.64"/>
<polyline points="403.4,556.5 402.9,555.1 402.4,553.8" stroke="#ffcf00" stroke-width="2.58"/>
<polyline points="402.4,553.8 402.0,552.6 401.7,551.3" stroke="#ffeb00" stroke-width="2.52"/>
<polyline points="421.5,533.4 423.1,533.7 424.6,534.2" stroke="#ffeb00" stroke-width="2.52"/>
<polyline points="424.6,534.2 426.0,534.8 427.4,535.5" stroke="#ffcf00" stroke-width="2.58"/>
<polyline points="427.4,535.5 428.8,536.4 430.1,537.4 431.3,538.4" stroke="#ffb400" stroke-width="2.64"/>
<polyline points="431.3,538.4 432.4,539.6 433.5,540.8" stroke="#ff9900" stroke-width="2.70"/>
<polyline points="433.5,540.8 434.4,542.2 435.2,543.7 436.0,545.3" stroke="#ffb400" stroke-width="2.64"/>
<polyline points="436.0,545.3 436.6,546.9 437.2,548.4" stroke="#ffcf00" stroke-width="2.58"/>
<polyline points="437.2,548.4 437.7,549.9 438.1,551.5 438.4,553.1 438.6,554.7" stroke="#ffeb00" stroke-width="2.52"/>
<polyline points="430.9,579.9 430.1,581.4 429.3,583.0 428.5,584.6 427.7,586.3" stroke="#ffeb00" stroke-width="2.52"/>
<polyline points="427.7,586.3 426.9,588.0 426.1,589.8" stroke="#ffcf00" stroke-width="2.58"/>
<polyline points="426.1,589.8 425.3,591.6 424.6,593.5 423.8,595.4" stroke="#ffb400" stroke-width="2.64"/>
<polyline points="423.8,595.4 423.0,597.3 422.2,599.3 421.4,601.4 420.6,603.5 419.8,605.7 419.0,607.8 418.2,610.0 417.5,612.1 416.9,614.2 416.2,616.3 415.6,618.4 415.0,620.5 414.5,622.6 413.9,624.7 413.5,626.9" stroke="#ff9900" stroke-width="2.70"/>
<polyline points="413.5,626.9 413.0,629.1 412.6,631.2 412.2,633.3 411.9,635.2 411.7,637.0" stroke="#ffb400" stroke-width="2.64"/>
<polyline points="411.7,637.0 411.5,638.6 411.3,640.2 411.2,641.7 411.2,643.2 411.3,644.7" stroke="#ffcf00" stroke-width="2.58"/>
<polyline points="411.3,644.7 411.5,646.1" stroke="#ffeb00" stroke-width="2.52"/>
<polyline points="466.0,612.1 466.5,612.3" stroke="#ffeb00" stroke-width="2.52"/>
<polyline points="466.5,612.3 466.9,612.5" stroke="#ffcf00" stroke-width="2.58"/>
<polyline points="466.9,612.5 467.2,612.7" stroke="#ffb400" stroke-width="2.64"/>
<polyline points="467.2,612.7 467.5,612.8" stroke="#ff9900" stroke-width="2.70"/>
</g>
<path d="M308.4,598.0 L309.0,599.1 L309.8,600.7 L310.8,602.5 L311.8,604.5 L313.0,606.5 L314.1,608.4 L315.3,610.2 L316.6,612.0 L317.9,613.9 L319.3,615.7 L320.6,617.3 L322.0,618.8 L323.3,620.0 L324.7,621.1 L326.0,622.1 L327.4,622.9 L328.7,623.6 L329.9,624.2 L331.0,624.6 L332.1,624.9 L333.1,625.1 L334.1,625.2 L335.2,625.2 L336.2,625.1 L337.2,624.9 L338.3,624.7 L339.3,624.4 L340.4,623.9 L341.4,623.3 L342.5,622.6 L343.6,621.6 L344.7,620.5 L345.8,619.3 L346.8,617.9 L347.8,616.3 L348.8,614.7 L349.7,612.9 L350.5,610.9 L351.3,608.8 L352.0,606.6 L352.8,604.3 L353.5,602.1 L354.3,599.8 L355.1,597.4 L355.8,595.0 L356.6,592.5 L357.4,590.2 L358.3,587.9 L359.2,585.6 L360.2,583.3 L361.2,581.1 L362.3,579.0 L363.4,577.0 L364.6,575.2 L365.8,573.7 L367.1,572.2 L368.4,571.0 L369.8,569.8 L371.1,568.8 L372.5,568.0 L373.8,567.3 L375.2,566.7 L376.5,566.3 L377.9,566.0 L379.1,565.9 L380.4,565.8 L381.5,565.8 L382.7,565.9 L383.7,566.1 L384.8,566.4 L385.7,566.9 L386.7,567.3 L387.6,567.9 L388.5,568.6 L389.3,569.3 L390.1,570.1 L390.8,571.1 L391.4,572.1 L392.0,573.2 L392.5,574.4 L392.9,575.6 L393.2,577.0 L393.5,578.4 L393.6,580.0 L393.7,581.6 L393.6,583.4 L393.5,585.3 L393.2,587.2 L392.9,589.1 L392.4,591.0 L391.7,592.9 L390.9,594.8 L389.9,596.6 L388.9,598.5 L387.8,600.3 L386.7,602.1 L385.5,603.7 L384.3,605.3 L383.0,606.9 L381.6,608.4 L380.2,610.0 L378.8,611.5 L377.3,613.1 L375.8,614.7 L374.2,616.2 L372.5,617.8 L370.9,619.4 L369.3,621.0 L367.7,622.7 L366.1,624.4 L364.5,626.1 L362.9,627.8 L361.3,629.5 L359.9,631.1 L358.4,632.6 L357.0,634.1 L355.7,635.6 L354.4,637.0 L353.1,638.4 L352.0,639.9 L350.9,641.5 L349.8,643.0 L348.8,644.6 L347.9,646.2 L347.0,647.8 L346.3,649.4 L345.6,651.0 L345.0,652.6 L344.5,654.1 L344.0,655.7 L343.7,657.3 L343.4,658.9 L343.3,660.5 L343.2,662.1 L343.3,663.7 L343.4,665.3 L343.7,666.8 L344.1,668.3 L344.6,669.8 L345.2,671.3 L346.0,672.8 L346.8,674.2 L347.8,675.6 L348.8,676.9 L349.9,678.1 L351.1,679.2 L352.5,680.3 L353.8,681.4 L355.3,682.3 L356.7,683.2 L358.2,683.9 L359.7,684.6 L361.3,685.3 L363.0,685.8 L364.6,686.3 L366.2,686.6 L367.7,687.0 L369.3,687.2 L370.9,687.3 L372.5,687.4 L374.1,687.4 L375.6,687.3 L377.2,687.1 L378.9,686.8 L380.5,686.4 L382.1,685.9 L383.6,685.4 L385.1,684.8 L386.5,684.1 L387.9,683.3 L389.3,682.4 L390.6,681.5 L391.8,680.5 L393.0,679.4 L394.1,678.2 L395.2,676.9 L396.2,675.6 L397.2,674.2 L398.0,672.8 L398.7,671.5 L399.2,670.2 L399.7,668.9 L400.0,667.6 L400.2,666.4 L400.3,665.0 L400.3,663.6 L400.1,662.1 L399.9,660.6 L399.5,659.0 L399.0,657.4 L398.4,655.7 L397.7,654.1 L396.9,652.5 L395.9,650.9 L394.8,649.3 L393.6,647.7 L392.5,646.2 L391.4,644.7 L390.4,643.2 L389.4,641.9 L388.4,640.5 L387.5,639.2 L386.7,638.0 L386.1,636.8 L385.5,635.7 L385.1,634.6 L384.8,633.6 L384.6,632.6 L384.5,631.6 L384.5,630.5 L384.6,629.2 L384.7,628.0 L385.0,626.7 L385.4,625.3 L385.9,623.9 L386.7,622.6 L387.7,621.2 L388.8,619.8 L390.2,618.4 L391.6,616.9 L393.1,615.5 L394.6,614.1 L396.1,612.6 L397.7,611.2 L399.3,609.7 L401.0,608.2 L402.6,606.7 L404.0,605.2 L405.4,603.7 L406.8,602.1 L408.1,600.5 L409.3,598.9 L410.4,597.3 L411.3,595.7 L412.1,594.2 L412.8,592.6 L413.4,591.0 L413.9,589.4 L414.2,587.9 L414.5,586.3 L414.6,584.7 L414.6,583.1 L414.4,581.5 L414.2,580.0 L413.9,578.4 L413.5,576.8 L413.0,575.2 L412.4,573.7 L411.7,572.1 L411.0,570.5 L410.2,568.9 L409.4,567.3 L408.6,565.7 L407.6,564.1 L406.6,562.5 L405.7,560.9 L404.8,559.4 L404.0,557.9 L403.4,556.5 L402.9,555.1 L402.4,553.8 L402.0,552.6 L401.7,551.3 L401.5,550.0 L401.4,548.7 L401.4,547.3 L401.5,545.9 L401.7,544.6 L402.0,543.3 L402.5,542.1 L403.0,540.9 L403.6,539.7 L404.4,538.6 L405.2,537.5 L406.2,536.6 L407.2,535.8 L408.3,535.1 L409.5,534.5 L410.8,534.1 L412.2,533.7 L413.6,533.4 L415.1,533.3 L416.6,533.2 L418.2,533.2 L419.8,533.2 L421.5,533.4 L423.1,533.7 L424.6,534.2 L426.0,534.8 L427.4,535.5 L428.8,536.4 L430.1,537.4 L431.3,538.4 L432.4,539.6 L433.5,540.8 L434.4,542.2 L435.2,543.7 L436.0,545.3 L436.6,546.9 L437.2,548.4 L437.7,549.9 L438.1,551.5 L438.4,553.1 L438.6,554.7 L438.8,556.3 L438.8,557.9 L438.6,559.5 L438.4,561.0 L438.0,562.6 L437.6,564.2 L437.1,565.8 L436.6,567.3 L436.0,568.9 L435.3,570.5 L434.7,572.1 L433.9,573.7 L433.2,575.2 L432.4,576.8 L431.7,578.4 L430.9,579.9 L430.1,581.4 L429.3,583.0 L428.5,584.6 L427.7,586.3 L426.9,588.0 L426.1,589.8 L425.3,591.6 L424.6,593.5 L423.8,595.4 L423.0,597.3 L422.2,599.3 L421.4,601.4 L420.6,603.5 L419.8,605.7 L419.0,607.8 L418.2,610.0 L417.5,612.1 L416.9,614.2 L416.2,616.3 L415.6,618.4 L415.0,620.5 L414.5,622.6 L413.9,624.7 L413.5,626.9 L413.0,629.1 L412.6,631.2 L412.2,633.3 L411.9,635.2 L411.7,637.0 L411.5,638.6 L411.3,640.2 L411.2,641.7 L411.2,643.2 L411.3,644.7 L411.5,646.1 L411.7,647.5 L412.1,648.9 L412.5,650.2 L413.0,651.4 L413.5,652.6 L414.1,653.6 L414.8,654.5 L415.5,655.3 L416.3,656.1 L417.2,656.7 L418.2,657.3 L419.4,657.8 L420.6,658.2 L421.9,658.6 L423.3,658.8 L424.7,658.9 L426.1,658.9 L427.7,658.7 L429.3,658.3 L431.0,657.8 L432.6,657.2 L434.2,656.5 L435.6,655.7 L436.9,654.9 L438.0,653.9 L439.1,652.9 L440.1,651.7 L441.0,650.6 L441.9,649.4 L442.7,648.2 L443.5,646.9 L444.2,645.6 L444.8,644.2 L445.3,642.8 L445.7,641.5 L446.0,640.2 L446.2,638.9 L446.4,637.7 L446.4,636.4 L446.3,635.0 L446.0,633.6 L445.6,632.1 L445.0,630.5 L444.2,628.9 L443.4,627.3 L442.6,625.7 L441.9,624.2 L441.3,622.7 L440.6,621.2 L439.9,619.8 L439.3,618.3 L438.7,617.0 L438.1,615.6 L437.6,614.3 L437.0,613.0 L436.5,611.8 L436.1,610.6 L435.8,609.4 L435.6,608.4 L435.6,607.4 L435.7,606.5 L435.9,605.6 L436.3,604.9 L436.7,604.2 L437.2,603.6 L437.8,603.2 L438.5,602.8 L439.3,602.5 L440.1,602.3 L441.0,602.1 L441.9,602.1 L442.9,602.0 L443.9,602.1 L445.0,602.3 L446.1,602.5 L447.2,602.7 L448.2,603.0 L449.3,603.4 L450.3,603.8 L451.4,604.3 L452.4,604.8 L453.5,605.3 L454.5,605.8 L455.6,606.4 L456.7,607.0 L457.8,607.6 L458.9,608.2 L459.9,608.8 L460.9,609.3 L461.7,609.8 L462.4,610.2 L463.1,610.6 L463.8,610.9 L464.4,611.2 L465.0,611.5 L465.5,611.8 L466.0,612.1 L466.5,612.3 L466.9,612.5 L467.2,612.7 L467.5,612.8" fill="none" stroke="#7a7a7a" stroke-width="0.75" stroke-dasharray="6 3"/>
<g fill="none" stroke-linecap="round" stroke-linejoin="round" filter="url(#bl)">

</g>
<rect x="489.1" y="518.2" width="14.7" height="195.2" fill="url(#hot)" stroke="#9a9a9a" stroke-width="0.7"/>
<path d="M503.8,692.7 h-2 M503.8,671.9 h-2 M503.8,651.2 h-2 M503.8,630.5 h-2 M503.8,609.8 h-2 M503.8,589.0 h-2 M503.8,568.3 h-2 M503.8,547.6 h-2 M503.8,526.8 h-2 " stroke="#555" stroke-width="0.6" fill="none"/>
<g filter="url(#tf)">
<text x="43.6" y="234.9" font-size="11.0" text-anchor="middle" font-weight="normal" fill="#262626">0</text>
<text x="84.6" y="234.9" font-size="11.0" text-anchor="middle" font-weight="normal" fill="#262626">5</text>
<text x="125.6" y="234.9" font-size="11.0" text-anchor="middle" font-weight="normal" fill="#262626">10</text>
<text x="166.6" y="234.9" font-size="11.0" text-anchor="middle" font-weight="normal" fill="#262626">15</text>
<text x="207.6" y="234.9" font-size="11.0" text-anchor="middle" font-weight="normal" fill="#262626">20</text>
<text x="248.6" y="234.9" font-size="11.0" text-anchor="middle" font-weight="normal" fill="#262626">25</text>
<text x="31.7" y="224.3" font-size="11.0" text-anchor="end" font-weight="normal" fill="#262626">-10</text>
<text x="31.7" y="183.3" font-size="11.0" text-anchor="end" font-weight="normal" fill="#262626">-5</text>
<text x="31.7" y="142.3" font-size="11.0" text-anchor="end" font-weight="normal" fill="#262626">0</text>
<text x="31.7" y="101.3" font-size="11.0" text-anchor="end" font-weight="normal" fill="#262626">5</text>
<text x="31.7" y="60.3" font-size="11.0" text-anchor="end" font-weight="normal" fill="#262626">10</text>
<text x="150.3" y="11.6" font-size="12.1" text-anchor="middle" font-weight="bold" fill="#000" textLength="76.7" lengthAdjust="spacingAndGlyphs">Original Print</text>
<text x="149.9" y="249.6" font-size="11.8" text-anchor="middle" font-weight="normal" fill="#262626">X (mm)</text>
<text x="317.4" y="234.9" font-size="11.0" text-anchor="middle" font-weight="normal" fill="#262626">0</text>
<text x="358.4" y="234.9" font-size="11.0" text-anchor="middle" font-weight="normal" fill="#262626">5</text>
<text x="399.4" y="234.9" font-size="11.0" text-anchor="middle" font-weight="normal" fill="#262626">10</text>
<text x="440.4" y="234.9" font-size="11.0" text-anchor="middle" font-weight="normal" fill="#262626">15</text>
<text x="481.4" y="234.9" font-size="11.0" text-anchor="middle" font-weight="normal" fill="#262626">20</text>
<text x="522.4" y="234.9" font-size="11.0" text-anchor="middle" font-weight="normal" fill="#262626">25</text>
<text x="305.7" y="224.3" font-size="11.0" text-anchor="end" font-weight="normal" fill="#262626">-10</text>
<text x="305.7" y="183.3" font-size="11.0" text-anchor="end" font-weight="normal" fill="#262626">-5</text>
<text x="305.7" y="142.3" font-size="11.0" text-anchor="end" font-weight="normal" fill="#262626">0</text>
<text x="305.7" y="101.3" font-size="11.0" text-anchor="end" font-weight="normal" fill="#262626">5</text>
<text x="305.7" y="60.3" font-size="11.0" text-anchor="end" font-weight="normal" fill="#262626">10</text>
<text x="305.7" y="19.3" font-size="11.0" text-anchor="end" font-weight="normal" fill="#262626">15</text>
<text x="424.5" y="11.6" font-size="12.1" text-anchor="middle" font-weight="bold" fill="#000" textLength="90.0" lengthAdjust="spacingAndGlyphs">Corrected Print</text>
<text x="423.7" y="249.6" font-size="11.8" text-anchor="middle" font-weight="normal" fill="#262626">X (mm)</text>
<text x="16.1" y="12.0" font-size="13.0" text-anchor="middle" font-weight="normal" fill="#000">(a)</text>
<text x="10.8" y="117.7" font-size="12.0" text-anchor="middle" font-weight="normal" fill="#262626" transform="rotate(-90 10.8 117.7)">Y (mm)</text>
<text x="565.7" y="191.5" font-size="9.7" text-anchor="start" font-weight="normal" fill="#262626">0.1</text>
<text x="565.7" y="155.5" font-size="9.7" text-anchor="start" font-weight="normal" fill="#262626">0.2</text>
<text x="565.7" y="119.5" font-size="9.7" text-anchor="start" font-weight="normal" fill="#262626">0.3</text>
<text x="565.7" y="83.5" font-size="9.7" text-anchor="start" font-weight="normal" fill="#262626">0.4</text>
<text x="565.7" y="47.5" font-size="9.7" text-anchor="start" font-weight="normal" fill="#262626">0.5</text>
<text x="589.0" y="120.3" font-size="9.4" text-anchor="middle" font-weight="normal" fill="#262626" transform="rotate(90 589.0 120.3)">Error (mm)</text>
<text x="35.6" y="475.2" font-size="10.1" text-anchor="middle" font-weight="normal" fill="#262626">0</text>
<text x="82.7" y="475.2" font-size="10.1" text-anchor="middle" font-weight="normal" fill="#262626">5</text>
<text x="129.7" y="475.2" font-size="10.1" text-anchor="middle" font-weight="normal" fill="#262626">10</text>
<text x="176.8" y="475.2" font-size="10.1" text-anchor="middle" font-weight="normal" fill="#262626">15</text>
<text x="223.8" y="475.2" font-size="10.1" text-anchor="middle" font-weight="normal" fill="#262626">20</text>
<text x="270.9" y="475.2" font-size="10.1" text-anchor="middle" font-weight="normal" fill="#262626">25</text>
<text x="32.1" y="465.8" font-size="10.1" text-anchor="end" font-weight="normal" fill="#262626">-10</text>
<text x="32.1" y="418.7" font-size="10.1" text-anchor="end" font-weight="normal" fill="#262626">-5</text>
<text x="32.1" y="371.6" font-size="10.1" text-anchor="end" font-weight="normal" fill="#262626">0</text>
<text x="32.1" y="324.5" font-size="10.1" text-anchor="end" font-weight="normal" fill="#262626">5</text>
<text x="152.9" y="270.0" font-size="10.5" text-anchor="middle" font-weight="bold" fill="#000" textLength="66.0" lengthAdjust="spacingAndGlyphs">Original Print</text>
<text x="153.2" y="487.5" font-size="10.5" text-anchor="middle" font-weight="normal" fill="#262626">X (mm)</text>
<text x="311.2" y="475.2" font-size="10.1" text-anchor="middle" font-weight="normal" fill="#262626">0</text>
<text x="358.2" y="475.2" font-size="10.1" text-anchor="middle" font-weight="normal" fill="#262626">5</text>
<text x="405.3" y="475.2" font-size="10.1" text-anchor="middle" font-weight="normal" fill="#262626">10</text>
<text x="452.4" y="475.2" font-size="10.1" text-anchor="middle" font-weight="normal" fill="#262626">15</text>
<text x="499.4" y="475.2" font-size="10.1" text-anchor="middle" font-weight="normal" fill="#262626">20</text>
<text x="546.5" y="475.2" font-size="10.1" text-anchor="middle" font-weight="normal" fill="#262626">25</text>
<text x="307.7" y="465.8" font-size="10.1" text-anchor="end" font-weight="normal" fill="#262626">-10</text>
<text x="307.7" y="418.7" font-size="10.1" text-anchor="end" font-weight="normal" fill="#262626">-5</text>
<text x="307.7" y="371.6" font-size="10.1" text-anchor="end" font-weight="normal" fill="#262626">0</text>
<text x="307.7" y="324.5" font-size="10.1" text-anchor="end" font-weight="normal" fill="#262626">5</text>
<text x="307.7" y="277.4" font-size="10.1" text-anchor="end" font-weight="normal" fill="#262626">10</text>
<text x="428.8" y="270.0" font-size="10.5" text-anchor="middle" font-weight="bold" fill="#000" textLength="77.7" lengthAdjust="spacingAndGlyphs">Corrected Print</text>
<text x="429.0" y="487.5" font-size="10.5" text-anchor="middle" font-weight="normal" fill="#262626">X (mm)</text>
<text x="16.8" y="278.2" font-size="13.0" text-anchor="middle" font-weight="normal" fill="#000">(b)</text>
<text x="13.3" y="368.3" font-size="10.4" text-anchor="middle" font-weight="normal" fill="#262626" transform="rotate(-90 13.3 368.3)">Y (mm)</text>
<text x="574.8" y="479.0" font-size="8.3" text-anchor="start" font-weight="normal" fill="#262626">0</text>
<text x="574.8" y="454.6" font-size="8.3" text-anchor="start" font-weight="normal" fill="#262626">0.1</text>
<text x="574.8" y="430.2" font-size="8.3" text-anchor="start" font-weight="normal" fill="#262626">0.2</text>
<text x="574.8" y="405.8" font-size="8.3" text-anchor="start" font-weight="normal" fill="#262626">0.3</text>
<text x="574.8" y="381.4" font-size="8.3" text-anchor="start" font-weight="normal" fill="#262626">0.4</text>
<text x="574.8" y="357.0" font-size="8.3" text-anchor="start" font-weight="normal" fill="#262626">0.5</text>
<text x="574.8" y="332.6" font-size="8.3" text-anchor="start" font-weight="normal" fill="#262626">0.6</text>
<text x="574.8" y="308.2" font-size="8.3" text-anchor="start" font-weight="normal" fill="#262626">0.7</text>
<text x="574.8" y="283.8" font-size="8.3" text-anchor="start" font-weight="normal" fill="#262626">0.8</text>
<text x="594.2" y="371.0" font-size="8.4" text-anchor="middle" font-weight="normal" fill="#262626" transform="rotate(90 594.2 371.0)">Error (mm)</text>
<text x="76.5" y="730.3" font-size="12.0" text-anchor="middle" font-weight="normal" fill="#262626">0</text>
<text x="115.3" y="730.3" font-size="12.0" text-anchor="middle" font-weight="normal" fill="#262626">2</text>
<text x="154.1" y="730.3" font-size="12.0" text-anchor="middle" font-weight="normal" fill="#262626">4</text>
<text x="192.9" y="730.3" font-size="12.0" text-anchor="middle" font-weight="normal" fill="#262626">6</text>
<text x="231.7" y="730.3" font-size="12.0" text-anchor="middle" font-weight="normal" fill="#262626">8</text>
<text x="52.8" y="718.4" font-size="12.0" text-anchor="end" font-weight="normal" fill="#262626">-6</text>
<text x="52.8" y="679.5" font-size="12.0" text-anchor="end" font-weight="normal" fill="#262626">-4</text>
<text x="52.8" y="640.7" font-size="12.0" text-anchor="end" font-weight="normal" fill="#262626">-2</text>
<text x="52.8" y="601.8" font-size="12.0" text-anchor="end" font-weight="normal" fill="#262626">0</text>
<text x="52.8" y="563.0" font-size="12.0" text-anchor="end" font-weight="normal" fill="#262626">2</text>
<text x="154.5" y="516.2" font-size="13.1" text-anchor="middle" font-weight="bold" fill="#000" textLength="83.0" lengthAdjust="spacingAndGlyphs">Original Print</text>
<text x="154.1" y="746.0" font-size="12.6" text-anchor="middle" font-weight="normal" fill="#262626">X (mm)</text>
<text x="308.5" y="730.3" font-size="12.0" text-anchor="middle" font-weight="normal" fill="#262626">0</text>
<text x="347.3" y="730.3" font-size="12.0" text-anchor="middle" font-weight="normal" fill="#262626">2</text>
<text x="386.1" y="730.3" font-size="12.0" text-anchor="middle" font-weight="normal" fill="#262626">4</text>
<text x="424.9" y="730.3" font-size="12.0" text-anchor="middle" font-weight="normal" fill="#262626">6</text>
<text x="463.7" y="730.3" font-size="12.0" text-anchor="middle" font-weight="normal" fill="#262626">8</text>
<text x="284.2" y="718.4" font-size="12.0" text-anchor="end" font-weight="normal" fill="#262626">-6</text>
<text x="284.2" y="679.5" font-size="12.0" text-anchor="end" font-weight="normal" fill="#262626">-4</text>
<text x="284.2" y="640.7" font-size="12.0" text-anchor="end" font-weight="normal" fill="#262626">-2</text>
<text x="284.2" y="601.8" font-size="12.0" text-anchor="end" font-weight="normal" fill="#262626">0</text>
<text x="284.2" y="563.0" font-size="12.0" text-anchor="end" font-weight="normal" fill="#262626">2</text>
<text x="284.2" y="524.1" font-size="12.0" text-anchor="end" font-weight="normal" fill="#262626">4</text>
<text x="386.3" y="516.2" font-size="13.1" text-anchor="middle" font-weight="bold" fill="#000" textLength="98.0" lengthAdjust="spacingAndGlyphs">Corrected Print</text>
<text x="386.1" y="746.0" font-size="12.6" text-anchor="middle" font-weight="normal" fill="#262626">X (mm)</text>
<text x="41.0" y="516.0" font-size="13.0" text-anchor="middle" font-weight="normal" fill="#000">(c)</text>
<text x="36.6" y="617.0" font-size="12.8" text-anchor="middle" font-weight="normal" fill="#262626" transform="rotate(-90 36.6 617.0)">Y (mm)</text>
<text x="506.8" y="696.6" font-size="10.8" text-anchor="start" font-weight="normal" fill="#262626">0.05</text>
<text x="506.8" y="675.8" font-size="10.8" text-anchor="start" font-weight="normal" fill="#262626">0.1</text>
<text x="506.8" y="655.1" font-size="10.8" text-anchor="start" font-weight="normal" fill="#262626">0.15</text>
<text x="506.8" y="634.4" font-size="10.8" text-anchor="start" font-weight="normal" fill="#262626">0.2</text>
<text x="506.8" y="613.6" font-size="10.8" text-anchor="start" font-weight="normal" fill="#262626">0.25</text>
<text x="506.8" y="592.9" font-size="10.8" text-anchor="start" font-weight="normal" fill="#262626">0.3</text>
<text x="506.8" y="572.2" font-size="10.8" text-anchor="start" font-weight="normal" fill="#262626">0.35</text>
<text x="506.8" y="551.4" font-size="10.8" text-anchor="start" font-weight="normal" fill="#262626">0.4</text>
<text x="506.8" y="530.7" font-size="10.8" text-anchor="start" font-weight="normal" fill="#262626">0.45</text>
<text x="537.2" y="615.0" font-size="10.4" text-anchor="middle" font-weight="normal" fill="#262626" transform="rotate(90 537.2 615.0)">Error (mm)</text>
</g>
</svg>
</body></html>
